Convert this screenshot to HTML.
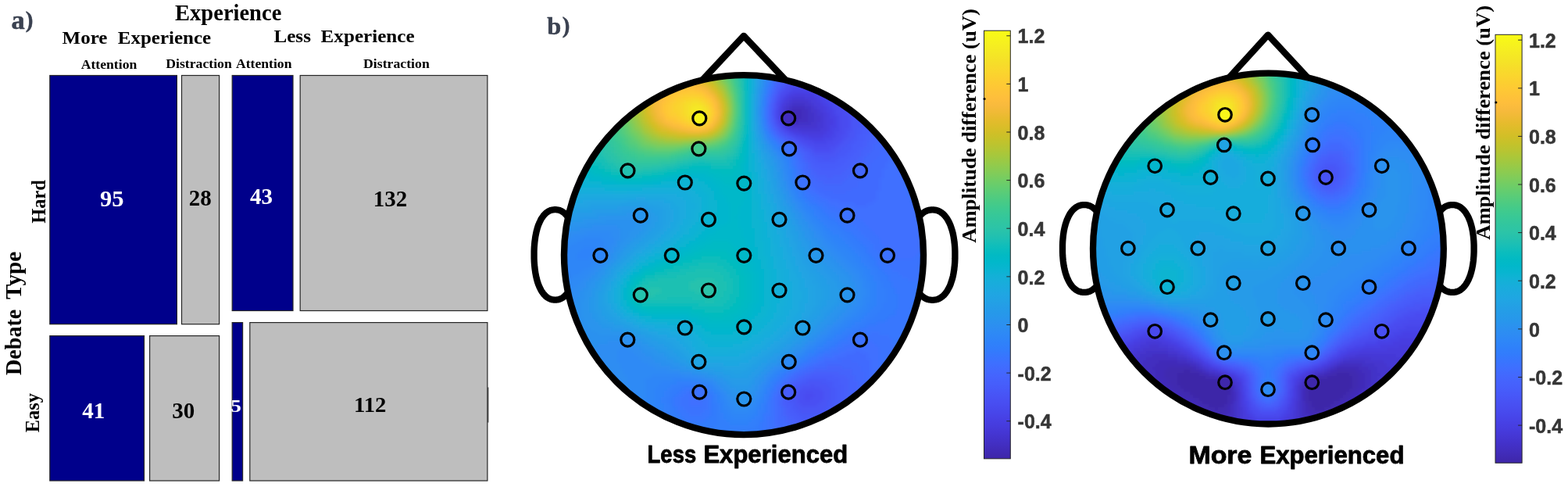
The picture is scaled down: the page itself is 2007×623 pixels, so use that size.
<!DOCTYPE html>
<html lang="en"><head><meta charset="utf-8"><title>Figure</title>
<style>html,body{margin:0;padding:0;background:#fff;overflow:hidden}svg{display:block}.sf{font-family:'Liberation Serif', serif;font-weight:bold}.ss{font-family:'Liberation Sans', sans-serif;font-weight:bold}</style>
</head><body>
<svg width="2007" height="623" viewBox="0 0 2007 623">
<defs>
<linearGradient id="pg" x1="0" y1="0" x2="0" y2="1"><stop offset="0.0000" stop-color="#f9fb15"/><stop offset="0.0159" stop-color="#f7f51b"/><stop offset="0.0317" stop-color="#f6ef20"/><stop offset="0.0476" stop-color="#f5e924"/><stop offset="0.0635" stop-color="#f5e327"/><stop offset="0.0794" stop-color="#f7dc2a"/><stop offset="0.0952" stop-color="#fad62d"/><stop offset="0.1111" stop-color="#fccf30"/><stop offset="0.1270" stop-color="#fec934"/><stop offset="0.1429" stop-color="#fec338"/><stop offset="0.1587" stop-color="#febe3c"/><stop offset="0.1746" stop-color="#f8ba3d"/><stop offset="0.1905" stop-color="#f0ba36"/><stop offset="0.2063" stop-color="#e6bb2d"/><stop offset="0.2222" stop-color="#dcbd29"/><stop offset="0.2381" stop-color="#d1bf27"/><stop offset="0.2540" stop-color="#c5c22a"/><stop offset="0.2698" stop-color="#b9c431"/><stop offset="0.2857" stop-color="#abc739"/><stop offset="0.3016" stop-color="#9dc943"/><stop offset="0.3175" stop-color="#8fcb4e"/><stop offset="0.3333" stop-color="#81cc59"/><stop offset="0.3492" stop-color="#72cd64"/><stop offset="0.3651" stop-color="#64cd6f"/><stop offset="0.3810" stop-color="#57cc7a"/><stop offset="0.3968" stop-color="#4acb84"/><stop offset="0.4127" stop-color="#3fca8e"/><stop offset="0.4286" stop-color="#37c897"/><stop offset="0.4444" stop-color="#31c69f"/><stop offset="0.4603" stop-color="#2cc4a7"/><stop offset="0.4762" stop-color="#24c1ae"/><stop offset="0.4921" stop-color="#19bfb6"/><stop offset="0.5079" stop-color="#0bbdbd"/><stop offset="0.5238" stop-color="#02bac3"/><stop offset="0.5397" stop-color="#01b8ca"/><stop offset="0.5556" stop-color="#08b5d0"/><stop offset="0.5714" stop-color="#12b1d6"/><stop offset="0.5873" stop-color="#18addb"/><stop offset="0.6032" stop-color="#1ca9df"/><stop offset="0.6190" stop-color="#20a5e3"/><stop offset="0.6349" stop-color="#23a0e5"/><stop offset="0.6508" stop-color="#259be8"/><stop offset="0.6667" stop-color="#2797eb"/><stop offset="0.6825" stop-color="#2b91ef"/><stop offset="0.6984" stop-color="#2d8cf3"/><stop offset="0.7143" stop-color="#2e87f7"/><stop offset="0.7302" stop-color="#2f81fa"/><stop offset="0.7460" stop-color="#327cfc"/><stop offset="0.7619" stop-color="#3875fe"/><stop offset="0.7778" stop-color="#3e6fff"/><stop offset="0.7937" stop-color="#4269fe"/><stop offset="0.8095" stop-color="#4563fd"/><stop offset="0.8254" stop-color="#465efb"/><stop offset="0.8413" stop-color="#4758f8"/><stop offset="0.8571" stop-color="#4852f4"/><stop offset="0.8730" stop-color="#484df0"/><stop offset="0.8889" stop-color="#4747eb"/><stop offset="0.9048" stop-color="#4741e5"/><stop offset="0.9206" stop-color="#463cde"/><stop offset="0.9365" stop-color="#4537d5"/><stop offset="0.9524" stop-color="#4332cb"/><stop offset="0.9683" stop-color="#422ec0"/><stop offset="0.9841" stop-color="#402ab4"/><stop offset="1.0000" stop-color="#3e26a8"/></linearGradient>
<filter id="bl" x="-5%" y="-5%" width="110%" height="110%"><feGaussianBlur stdDeviation="2.2"/></filter>
</defs>
<rect width="2007" height="623" fill="#fff"/>
<rect x="63.8" y="96.5" width="162.6" height="318.2" fill="#00008b" stroke="#262626" stroke-width="1.2"/>
<rect x="232.5" y="96.5" width="48.1" height="318.2" fill="#bebebe" stroke="#262626" stroke-width="1.2"/>
<rect x="297.2" y="96.5" width="77.8" height="301.0" fill="#00008b" stroke="#262626" stroke-width="1.2"/>
<rect x="384.2" y="96.5" width="239.7" height="301.0" fill="#bebebe" stroke="#262626" stroke-width="1.2"/>
<rect x="63.8" y="429.6" width="120.7" height="185.4" fill="#00008b" stroke="#262626" stroke-width="1.2"/>
<rect x="191.6" y="429.6" width="89.0" height="185.4" fill="#bebebe" stroke="#262626" stroke-width="1.2"/>
<rect x="297.2" y="412.6" width="13.4" height="202.4" fill="#00008b" stroke="#262626" stroke-width="1.2"/>
<rect x="319.8" y="412.6" width="304.1" height="202.4" fill="#bebebe" stroke="#262626" stroke-width="1.2"/>
<rect x="624.2" y="495.5" width="1.2" height="45" fill="#333"/>
<text class="sf" x="14.6" y="37.4" font-size="34.50" fill="#3a4150" text-anchor="start" stroke="#3a4150" stroke-width="0.5" stroke-linejoin="round">a<tspan font-size="29" dy="-2.6" dx="0.8">)</tspan></text>
<text class="sf" x="700.2" y="44.3" font-size="32.40" fill="#3a4150" text-anchor="start" stroke="#3a4150" stroke-width="0.5" stroke-linejoin="round">b<tspan font-size="29" dy="-2.6" dx="1.6">)</tspan></text>
<text class="sf" x="224.1" y="25.8" font-size="28.40" fill="#000" text-anchor="start" textLength="136.2" lengthAdjust="spacingAndGlyphs">Experience</text>
<text class="sf" x="79.5" y="55.8" font-size="23.80" fill="#000" text-anchor="start" textLength="58.0" lengthAdjust="spacingAndGlyphs">More</text>
<text class="sf" x="150.8" y="55.8" font-size="23.80" fill="#000" text-anchor="start" textLength="119.3" lengthAdjust="spacingAndGlyphs">Experience</text>
<text class="sf" x="350.4" y="53.7" font-size="23.80" fill="#000" text-anchor="start" textLength="47.6" lengthAdjust="spacingAndGlyphs">Less</text>
<text class="sf" x="410.6" y="53.7" font-size="23.80" fill="#000" text-anchor="start" textLength="120.0" lengthAdjust="spacingAndGlyphs">Experience</text>
<text class="sf" x="103.7" y="87.8" font-size="17.70" fill="#000" text-anchor="start" textLength="71.6" lengthAdjust="spacingAndGlyphs">Attention</text>
<text class="sf" x="212.2" y="86.7" font-size="17.70" fill="#000" text-anchor="start" textLength="84.6" lengthAdjust="spacingAndGlyphs">Distraction</text>
<text class="sf" x="302.0" y="86.7" font-size="17.70" fill="#000" text-anchor="start" textLength="71.5" lengthAdjust="spacingAndGlyphs">Attention</text>
<text class="sf" x="465.0" y="86.7" font-size="17.70" fill="#000" text-anchor="start" textLength="84.8" lengthAdjust="spacingAndGlyphs">Distraction</text>
<text class="sf" x="57.8" y="285.8" font-size="24.50" fill="#000" text-anchor="start" textLength="55.8" lengthAdjust="spacingAndGlyphs" transform="rotate(-90 57.8 285.8)">Hard</text>
<text class="sf" x="50.3" y="553.3" font-size="24.50" fill="#000" text-anchor="start" textLength="50.3" lengthAdjust="spacingAndGlyphs" transform="rotate(-90 50.3 553.3)">Easy</text>
<text class="sf" x="27.3" y="479.9" font-size="28.50" fill="#000" text-anchor="start" textLength="84.2" lengthAdjust="spacingAndGlyphs" transform="rotate(-90 27.3 479.9)">Debate</text>
<text class="sf" x="27.3" y="382.9" font-size="28.50" fill="#000" text-anchor="start" textLength="61.1" lengthAdjust="spacingAndGlyphs" transform="rotate(-90 27.3 382.9)">Type</text>
<text class="sf" x="143.3" y="264.0" font-size="29.00" fill="#fff" text-anchor="middle" textLength="30.5" lengthAdjust="spacingAndGlyphs">95</text>
<text class="sf" x="256.3" y="262.8" font-size="29.00" fill="#000" text-anchor="middle">28</text>
<text class="sf" x="334.6" y="260.8" font-size="29.00" fill="#fff" text-anchor="middle">43</text>
<text class="sf" x="499.4" y="264.0" font-size="29.00" fill="#000" text-anchor="middle">132</text>
<text class="sf" x="119.8" y="535.0" font-size="29.00" fill="#fff" text-anchor="middle">41</text>
<text class="sf" x="234.7" y="534.8" font-size="29.00" fill="#000" text-anchor="middle">30</text>
<text class="sf" x="295.3" y="527.2" font-size="23.50" fill="#fff" text-anchor="start" textLength="13.6" lengthAdjust="spacingAndGlyphs">5</text>
<text class="sf" x="473.7" y="527.3" font-size="27.50" fill="#000" text-anchor="middle" textLength="41.5" lengthAdjust="spacingAndGlyphs">112</text>
<text class="ss" x="828.6" y="592.1" font-size="30.80" fill="#000" text-anchor="start" textLength="62.6" lengthAdjust="spacingAndGlyphs" stroke="#000" stroke-width="0.8" stroke-linejoin="round">Less</text>
<text class="ss" x="900.4" y="592.1" font-size="30.80" fill="#000" text-anchor="start" textLength="184.8" lengthAdjust="spacingAndGlyphs" stroke="#000" stroke-width="0.8" stroke-linejoin="round">Experienced</text>
<text class="ss" x="1521.4" y="593.4" font-size="30.80" fill="#000" text-anchor="start" textLength="81.0" lengthAdjust="spacingAndGlyphs" stroke="#000" stroke-width="0.8" stroke-linejoin="round">More</text>
<text class="ss" x="1612.4" y="593.4" font-size="30.80" fill="#000" text-anchor="start" textLength="185.0" lengthAdjust="spacingAndGlyphs" stroke="#000" stroke-width="0.8" stroke-linejoin="round">Experienced</text>
<text class="sf" x="1249.5" y="310.8" font-size="26.00" fill="#000" text-anchor="start" textLength="299.6" lengthAdjust="spacingAndGlyphs" transform="rotate(-90 1249.5 310.8)">Amplitude difference (uV)</text>
<text class="sf" x="1907.0" y="306.8" font-size="26.00" fill="#000" text-anchor="start" textLength="299.8" lengthAdjust="spacingAndGlyphs" transform="rotate(-90 1907.0 306.8)">Amplitude difference (uV)</text>
<path d="M737.6 327.5L737.6 330.3L737.5 332.9L737.4 335.4L737.2 337.8L737.0 340.1L736.8 342.4L736.5 344.6L736.2 346.8L735.9 349.0L735.5 351.0L735.1 353.1L734.7 355.0L734.2 356.9L733.7 358.8L733.2 360.6L732.6 362.4L732.0 364.1L731.3 365.7L730.7 367.2L729.9 368.7L729.2 370.2L728.5 371.6L727.7 372.9L726.8 374.1L726.0 375.3L725.1 376.4L724.2 377.4L723.3 378.3L722.4 379.2L721.4 380.0L720.4 380.7L719.4 381.3L718.3 381.9L717.3 382.4L716.2 382.8L715.0 383.1L713.9 383.3L712.7 383.5L711.4 383.6L709.8 383.6L708.5 383.5L707.3 383.3L706.2 383.1L705.0 382.8L703.9 382.4L702.9 381.9L701.8 381.3L700.8 380.7L699.8 380.0L698.8 379.2L697.9 378.3L697.0 377.4L696.1 376.4L695.2 375.3L694.4 374.1L693.5 372.9L692.7 371.6L692.0 370.2L691.3 368.7L690.5 367.2L689.9 365.7L689.2 364.1L688.6 362.4L688.0 360.6L687.5 358.8L687.0 356.9L686.5 355.0L686.1 353.1L685.7 351.0L685.3 349.0L685.0 346.8L684.7 344.6L684.4 342.4L684.2 340.1L684.0 337.8L683.8 335.4L683.7 332.9L683.6 330.3L683.6 327.5L683.6 324.3L683.6 321.5L683.7 318.9L683.8 316.4L684.0 314.0L684.2 311.7L684.4 309.4L684.7 307.2L685.0 305.0L685.3 302.8L685.7 300.8L686.1 298.7L686.5 296.8L687.0 294.9L687.5 293.0L688.0 291.2L688.6 289.4L689.2 287.7L689.9 286.1L690.5 284.6L691.3 283.1L692.0 281.6L692.7 280.2L693.5 278.9L694.4 277.7L695.2 276.5L696.1 275.4L697.0 274.4L697.9 273.5L698.8 272.6L699.8 271.8L700.8 271.1L701.8 270.5L702.9 269.9L703.9 269.4L705.0 269.0L706.2 268.7L707.3 268.5L708.5 268.3L709.8 268.2L711.4 268.2L712.7 268.3L713.9 268.5L715.0 268.7L716.2 269.0L717.3 269.4L718.3 269.9L719.4 270.5L720.4 271.1L721.4 271.8L722.4 272.6L723.3 273.5L724.2 274.4L725.1 275.4L726.0 276.5L726.8 277.7L727.7 278.9L728.5 280.2L729.2 281.6L729.9 283.1L730.7 284.6L731.3 286.1L732.0 287.7L732.6 289.4L733.2 291.2L733.7 293.0L734.2 294.9L734.7 296.8L735.1 298.7L735.5 300.8L735.9 302.8L736.2 305.0L736.5 307.2L736.8 309.4L737.0 311.7L737.2 314.0L737.4 316.4L737.5 318.9L737.6 321.5L737.6 324.3Z" fill="#fff" stroke="#000" stroke-width="8.3" stroke-linejoin="round"/>
<path d="M1222.4 327.7L1222.4 330.5L1222.3 333.1L1222.2 335.6L1222.0 338.0L1221.8 340.3L1221.5 342.6L1221.3 344.8L1220.9 347.0L1220.6 349.2L1220.2 351.2L1219.8 353.3L1219.3 355.2L1218.8 357.1L1218.2 359.0L1217.6 360.8L1217.0 362.6L1216.4 364.3L1215.7 365.9L1215.0 367.4L1214.2 368.9L1213.4 370.4L1212.6 371.8L1211.8 373.1L1210.9 374.3L1210.0 375.5L1209.0 376.6L1208.1 377.6L1207.1 378.5L1206.1 379.4L1205.0 380.2L1204.0 380.9L1202.9 381.5L1201.8 382.1L1200.6 382.6L1199.5 383.0L1198.2 383.3L1197.0 383.5L1195.7 383.7L1194.3 383.8L1192.7 383.8L1191.3 383.7L1190.0 383.5L1188.8 383.3L1187.5 383.0L1186.4 382.6L1185.2 382.1L1184.1 381.5L1183.0 380.9L1182.0 380.2L1180.9 379.4L1179.9 378.5L1178.9 377.6L1178.0 376.6L1177.0 375.5L1176.1 374.3L1175.2 373.1L1174.4 371.8L1173.6 370.4L1172.8 368.9L1172.0 367.4L1171.3 365.9L1170.6 364.3L1170.0 362.6L1169.4 360.8L1168.8 359.0L1168.2 357.1L1167.7 355.2L1167.2 353.3L1166.8 351.2L1166.4 349.2L1166.1 347.0L1165.7 344.8L1165.5 342.6L1165.2 340.3L1165.0 338.0L1164.8 335.6L1164.7 333.1L1164.6 330.5L1164.6 327.7L1164.6 324.5L1164.6 321.7L1164.7 319.1L1164.8 316.6L1165.0 314.2L1165.2 311.9L1165.5 309.6L1165.7 307.4L1166.1 305.2L1166.4 303.0L1166.8 301.0L1167.2 298.9L1167.7 297.0L1168.2 295.1L1168.8 293.2L1169.4 291.4L1170.0 289.6L1170.6 287.9L1171.3 286.3L1172.0 284.8L1172.8 283.3L1173.6 281.8L1174.4 280.4L1175.2 279.1L1176.1 277.9L1177.0 276.7L1178.0 275.6L1178.9 274.6L1179.9 273.7L1180.9 272.8L1182.0 272.0L1183.0 271.3L1184.1 270.7L1185.2 270.1L1186.4 269.6L1187.5 269.2L1188.8 268.9L1190.0 268.7L1191.3 268.5L1192.7 268.4L1194.3 268.4L1195.7 268.5L1197.0 268.7L1198.2 268.9L1199.5 269.2L1200.6 269.6L1201.8 270.1L1202.9 270.7L1204.0 271.3L1205.0 272.0L1206.1 272.8L1207.1 273.7L1208.1 274.6L1209.0 275.6L1210.0 276.7L1210.9 277.9L1211.8 279.1L1212.6 280.4L1213.4 281.8L1214.2 283.3L1215.0 284.8L1215.7 286.3L1216.4 287.9L1217.0 289.6L1217.6 291.4L1218.2 293.2L1218.8 295.1L1219.3 297.0L1219.8 298.9L1220.2 301.0L1220.6 303.0L1220.9 305.2L1221.3 307.4L1221.5 309.6L1221.8 311.9L1222.0 314.2L1222.2 316.6L1222.3 319.1L1222.4 321.7L1222.4 324.5Z" fill="#fff" stroke="#000" stroke-width="8.3" stroke-linejoin="round"/>
<path d="M899.5 102.0L952.0 45.9L1005.0 102.0" fill="none" stroke="#000" stroke-width="8.5" stroke-linejoin="round" stroke-linecap="butt"/>
<clipPath id="hc0"><circle cx="952.0" cy="326.1" r="230.0"/></clipPath>
<circle cx="952.0" cy="326.1" r="230.0" fill="#22a1e4"/>
<g clip-path="url(#hc0)"><g filter="url(#bl)" shape-rendering="crispEdges">
<path fill="#402bb8" d="M1014 140h12v4h-12zM1010 144h16v4h-16zM1010 148h16v4h-16zM1018 152h4v4h-4z"/>
<path fill="#422ebf" d="M1014 136h16v4h-16zM1010 140h4v4h-4zM1026 140h8v4h-8zM1006 144h4v4h-4zM1026 144h8v4h-8zM1006 148h4v4h-4zM1026 148h8v4h-8zM1010 152h8v4h-8zM1022 152h12v4h-12zM1018 156h4v4h-4z"/>
<path fill="#4331c7" d="M1014 132h16v4h-16zM1010 136h4v4h-4zM1030 136h8v4h-8zM1006 140h4v4h-4zM1034 140h4v4h-4zM1034 144h8v4h-8zM1034 148h8v4h-8zM1006 152h4v4h-4zM1034 152h8v4h-8zM1010 156h8v4h-8zM1022 156h16v4h-16z"/>
<path fill="#4434ce" d="M1014 128h20v4h-20zM1010 132h4v4h-4zM1030 132h8v4h-8zM1006 136h4v4h-4zM1038 136h4v4h-4zM1038 140h8v4h-8zM1002 144h4v4h-4zM1042 144h4v4h-4zM1002 148h4v4h-4zM1042 148h8v4h-8zM1042 152h8v4h-8zM1006 156h4v4h-4zM1038 156h8v4h-8zM1014 160h32v4h-32z"/>
<path fill="#4537d5" d="M1014 124h16v4h-16zM1010 128h4v4h-4zM1034 128h4v4h-4zM1006 132h4v4h-4zM1038 132h4v4h-4zM1002 136h4v4h-4zM1042 136h4v4h-4zM1002 140h4v4h-4zM1046 140h4v4h-4zM1046 144h8v4h-8zM1050 148h4v4h-4zM1002 152h4v4h-4zM1050 152h4v4h-4zM1046 156h8v4h-8zM1010 160h4v4h-4zM1046 160h8v4h-8zM1022 164h28v4h-28z"/>
<path fill="#463adb" d="M1018 120h12v4h-12zM1010 124h4v4h-4zM1030 124h12v4h-12zM1006 128h4v4h-4zM1038 128h8v4h-8zM1002 132h4v4h-4zM1042 132h8v4h-8zM1046 136h8v4h-8zM1050 140h4v4h-4zM998 144h4v4h-4zM1054 144h4v4h-4zM1054 148h4v4h-4zM1054 152h4v4h-4zM1002 156h4v4h-4zM1054 156h4v4h-4zM1006 160h4v4h-4zM1054 160h4v4h-4zM1014 164h8v4h-8zM1050 164h8v4h-8zM1026 168h28v4h-28z"/>
<path fill="#463de0" d="M1010 120h8v4h-8zM1030 120h12v4h-12zM1006 124h4v4h-4zM1042 124h4v4h-4zM1002 128h4v4h-4zM1046 128h4v4h-4zM1050 132h4v4h-4zM998 136h4v4h-4zM1054 136h4v4h-4zM998 140h4v4h-4zM1054 140h4v4h-4zM1058 144h4v4h-4zM998 148h4v4h-4zM1058 148h4v4h-4zM998 152h4v4h-4zM1058 152h8v4h-8zM1058 156h8v4h-8zM1058 160h4v4h-4zM1010 164h4v4h-4zM1058 164h4v4h-4zM1018 168h8v4h-8zM1054 168h4v4h-4zM1034 172h20v4h-20z"/>
<path fill="#4741e5" d="M1014 116h28v4h-28zM1006 120h4v4h-4zM1042 120h4v4h-4zM1002 124h4v4h-4zM1046 124h8v4h-8zM1050 128h4v4h-4zM998 132h4v4h-4zM1054 132h4v4h-4zM1058 136h4v4h-4zM1058 140h8v4h-8zM1062 144h4v4h-4zM1062 148h8v4h-8zM1066 152h4v4h-4zM1066 156h4v4h-4zM1002 160h4v4h-4zM1062 160h8v4h-8zM1006 164h4v4h-4zM1062 164h4v4h-4zM1014 168h4v4h-4zM1058 168h8v4h-8zM1026 172h8v4h-8zM1054 172h8v4h-8zM1038 176h16v4h-16z"/>
<path fill="#4745e9" d="M1014 112h28v4h-28zM1010 116h4v4h-4zM1042 116h8v4h-8zM1046 120h8v4h-8zM1054 124h4v4h-4zM998 128h4v4h-4zM1054 128h8v4h-8zM1058 132h8v4h-8zM1062 136h4v4h-4zM994 140h4v4h-4zM1066 140h4v4h-4zM994 144h4v4h-4zM1066 144h4v4h-4zM994 148h4v4h-4zM1070 148h4v4h-4zM1070 152h4v4h-4zM998 156h4v4h-4zM1070 156h4v4h-4zM1070 160h4v4h-4zM1066 164h8v4h-8zM1010 168h4v4h-4zM1066 168h4v4h-4zM1018 172h8v4h-8zM1062 172h8v4h-8zM1030 176h8v4h-8zM1054 176h12v4h-12zM1042 180h16v4h-16z"/>
<path fill="#4849ed" d="M1018 108h24v4h-24zM1010 112h4v4h-4zM1042 112h8v4h-8zM1006 116h4v4h-4zM1050 116h4v4h-4zM1002 120h4v4h-4zM1054 120h4v4h-4zM998 124h4v4h-4zM1058 124h4v4h-4zM1062 128h4v4h-4zM994 132h4v4h-4zM1066 132h4v4h-4zM994 136h4v4h-4zM1066 136h8v4h-8zM1070 140h4v4h-4zM1070 144h8v4h-8zM1074 148h4v4h-4zM994 152h4v4h-4zM1074 152h4v4h-4zM1074 156h4v4h-4zM998 160h4v4h-4zM1074 160h4v4h-4zM1002 164h4v4h-4zM1074 164h4v4h-4zM1070 168h8v4h-8zM1014 172h4v4h-4zM1070 172h4v4h-4zM1026 176h4v4h-4zM1066 176h4v4h-4zM1034 180h8v4h-8zM1058 180h8v4h-8zM1042 184h16v4h-16z"/>
<path fill="#484cf0" d="M1018 104h20v4h-20zM1010 108h8v4h-8zM1042 108h4v4h-4zM1006 112h4v4h-4zM1050 112h4v4h-4zM1002 116h4v4h-4zM1054 116h8v4h-8zM998 120h4v4h-4zM1058 120h8v4h-8zM1062 124h8v4h-8zM994 128h4v4h-4zM1066 128h8v4h-8zM1070 132h8v4h-8zM1074 136h4v4h-4zM1074 140h8v4h-8zM1078 144h4v4h-4zM1078 148h8v4h-8zM1078 152h8v4h-8zM994 156h4v4h-4zM1078 156h8v4h-8zM1078 160h8v4h-8zM1078 164h4v4h-4zM1006 168h4v4h-4zM1078 168h4v4h-4zM1074 172h4v4h-4zM1022 176h4v4h-4zM1070 176h8v4h-8zM1026 180h8v4h-8zM1066 180h8v4h-8zM1034 184h8v4h-8zM1058 184h12v4h-12zM1042 188h20v4h-20zM1034 500h4v4h-4zM1030 504h12v4h-12zM1030 508h8v4h-8z"/>
<path fill="#4850f3" d="M1018 100h8v4h-8zM1010 104h8v4h-8zM1006 108h4v4h-4zM1002 112h4v4h-4zM998 116h4v4h-4zM1066 120h4v4h-4zM994 124h4v4h-4zM1070 124h8v4h-8zM1074 128h8v4h-8zM1078 132h8v4h-8zM1078 136h8v4h-8zM990 140h4v4h-4zM1082 140h8v4h-8zM990 144h4v4h-4zM1082 144h8v4h-8zM990 148h4v4h-4zM1086 148h4v4h-4zM1086 152h4v4h-4zM1086 156h4v4h-4zM1086 160h4v4h-4zM998 164h4v4h-4zM1082 164h8v4h-8zM1002 168h4v4h-4zM1082 168h4v4h-4zM1010 172h4v4h-4zM1078 172h8v4h-8zM1018 176h4v4h-4zM1078 176h4v4h-4zM1022 180h4v4h-4zM1074 180h4v4h-4zM1030 184h4v4h-4zM1070 184h4v4h-4zM1038 188h4v4h-4zM1062 188h8v4h-8zM1042 192h24v4h-24zM1038 492h4v4h-4zM1026 496h24v4h-24zM1022 500h12v4h-12zM1038 500h16v4h-16zM1022 504h8v4h-8zM1042 504h12v4h-12zM1022 508h8v4h-8zM1038 508h16v4h-16zM1022 512h28v4h-28zM1026 516h20v4h-20z"/>
<path fill="#4854f5" d="M1014 100h4v4h-4zM1006 104h4v4h-4zM1002 108h4v4h-4zM994 120h4v4h-4zM990 132h4v4h-4zM1086 132h4v4h-4zM990 136h4v4h-4zM1086 136h8v4h-8zM1090 140h8v4h-8zM1090 144h8v4h-8zM1090 148h8v4h-8zM990 152h4v4h-4zM1090 152h8v4h-8zM1090 156h8v4h-8zM994 160h4v4h-4zM1090 160h8v4h-8zM1090 164h4v4h-4zM1086 168h8v4h-8zM1006 172h4v4h-4zM1086 172h8v4h-8zM1014 176h4v4h-4zM1082 176h8v4h-8zM1018 180h4v4h-4zM1078 180h8v4h-8zM1026 184h4v4h-4zM1074 184h8v4h-8zM1030 188h8v4h-8zM1070 188h8v4h-8zM1038 192h4v4h-4zM1066 192h8v4h-8zM1042 196h28v4h-28zM1054 200h8v4h-8zM1034 488h16v4h-16zM1026 492h12v4h-12zM1042 492h16v4h-16zM1022 496h4v4h-4zM1050 496h12v4h-12zM1018 500h4v4h-4zM1054 500h8v4h-8zM1014 504h8v4h-8zM1054 504h8v4h-8zM1014 508h8v4h-8zM1054 508h8v4h-8zM1018 512h4v4h-4zM1050 512h8v4h-8zM1018 516h8v4h-8zM1046 516h12v4h-12zM1022 520h32v4h-32zM1026 524h24v4h-24z"/>
<path fill="#4758f8" d="M1006 100h8v4h-8zM1002 104h4v4h-4zM998 112h4v4h-4zM994 116h4v4h-4zM990 128h4v4h-4zM1098 144h8v4h-8zM1098 148h8v4h-8zM1098 152h8v4h-8zM990 156h4v4h-4zM1098 156h8v4h-8zM1098 160h8v4h-8zM994 164h4v4h-4zM1094 164h8v4h-8zM998 168h4v4h-4zM1094 168h8v4h-8zM1002 172h4v4h-4zM1094 172h4v4h-4zM1010 176h4v4h-4zM1090 176h8v4h-8zM1086 180h8v4h-8zM1022 184h4v4h-4zM1082 184h8v4h-8zM1026 188h4v4h-4zM1078 188h12v4h-12zM1034 192h4v4h-4zM1074 192h12v4h-12zM1038 196h4v4h-4zM1070 196h12v4h-12zM1042 200h12v4h-12zM1062 200h12v4h-12zM1046 204h24v4h-24zM1034 484h24v4h-24zM1026 488h8v4h-8zM1050 488h16v4h-16zM1018 492h8v4h-8zM1058 492h8v4h-8zM1014 496h8v4h-8zM1062 496h8v4h-8zM1014 500h4v4h-4zM1062 500h8v4h-8zM1010 504h4v4h-4zM1062 504h8v4h-8zM1010 508h4v4h-4zM1062 508h8v4h-8zM1010 512h8v4h-8zM1058 512h8v4h-8zM1014 516h4v4h-4zM1058 516h8v4h-8zM1014 520h8v4h-8zM1054 520h8v4h-8zM1018 524h8v4h-8zM1050 524h8v4h-8zM1022 528h32v4h-32zM1026 532h24v4h-24z"/>
<path fill="#475bfa" d="M1006 96h8v4h-8zM1002 100h4v4h-4zM998 108h4v4h-4zM994 112h4v4h-4zM990 124h4v4h-4zM986 140h4v4h-4zM986 144h4v4h-4zM1106 148h4v4h-4zM1106 152h8v4h-8zM1106 156h8v4h-8zM990 160h4v4h-4zM1106 160h4v4h-4zM1102 164h8v4h-8zM1102 168h8v4h-8zM1098 172h8v4h-8zM1006 176h4v4h-4zM1098 176h8v4h-8zM1014 180h4v4h-4zM1094 180h8v4h-8zM1018 184h4v4h-4zM1090 184h12v4h-12zM1090 188h8v4h-8zM1030 192h4v4h-4zM1086 192h8v4h-8zM1034 196h4v4h-4zM1082 196h8v4h-8zM1034 200h8v4h-8zM1074 200h12v4h-12zM1038 204h8v4h-8zM1070 204h12v4h-12zM1042 208h36v4h-36zM1050 212h20v4h-20zM1038 480h28v4h-28zM1026 484h8v4h-8zM1058 484h16v4h-16zM1018 488h8v4h-8zM1066 488h8v4h-8zM1014 492h4v4h-4zM1066 492h12v4h-12zM1010 496h4v4h-4zM1070 496h8v4h-8zM1010 500h4v4h-4zM1070 500h8v4h-8zM1006 504h4v4h-4zM1070 504h8v4h-8zM1006 508h4v4h-4zM1070 508h8v4h-8zM1006 512h4v4h-4zM1066 512h8v4h-8zM1006 516h8v4h-8zM1066 516h8v4h-8zM1010 520h4v4h-4zM1062 520h8v4h-8zM1010 524h8v4h-8zM1058 524h8v4h-8zM1014 528h8v4h-8zM1054 528h12v4h-12zM1018 532h8v4h-8zM1050 532h12v4h-12zM1022 536h32v4h-32zM1030 540h16v4h-16z"/>
<path fill="#465ffb" d="M998 104h4v4h-4zM994 108h4v4h-4zM990 120h4v4h-4zM986 132h4v4h-4zM986 136h4v4h-4zM986 148h4v4h-4zM986 152h4v4h-4zM1114 156h4v4h-4zM1110 160h8v4h-8zM1110 164h8v4h-8zM994 168h4v4h-4zM1110 168h8v4h-8zM998 172h4v4h-4zM1106 172h8v4h-8zM1106 176h8v4h-8zM1010 180h4v4h-4zM1102 180h8v4h-8zM1102 184h8v4h-8zM1022 188h4v4h-4zM1098 188h8v4h-8zM1026 192h4v4h-4zM1094 192h8v4h-8zM1030 196h4v4h-4zM1090 196h12v4h-12zM1030 200h4v4h-4zM1086 200h12v4h-12zM1034 204h4v4h-4zM1082 204h12v4h-12zM1038 208h4v4h-4zM1078 208h12v4h-12zM1038 212h12v4h-12zM1070 212h16v4h-16zM1042 216h40v4h-40zM1046 220h32v4h-32zM1058 224h8v4h-8zM1038 476h36v4h-36zM1030 480h8v4h-8zM1066 480h16v4h-16zM1022 484h4v4h-4zM1074 484h12v4h-12zM1014 488h4v4h-4zM1074 488h12v4h-12zM1010 492h4v4h-4zM1078 492h8v4h-8zM1006 496h4v4h-4zM1078 496h8v4h-8zM1006 500h4v4h-4zM1078 500h8v4h-8zM1002 504h4v4h-4zM1078 504h8v4h-8zM1002 508h4v4h-4zM1078 508h8v4h-8zM1002 512h4v4h-4zM1074 512h12v4h-12zM1002 516h4v4h-4zM1074 516h8v4h-8zM1006 520h4v4h-4zM1070 520h12v4h-12zM1006 524h4v4h-4zM1066 524h12v4h-12zM1006 528h8v4h-8zM1066 528h4v4h-4zM1010 532h8v4h-8zM1014 536h8v4h-8zM1018 540h12v4h-12zM1026 544h12v4h-12z"/>
<path fill="#4563fc" d="M1002 96h4v4h-4zM998 100h4v4h-4zM994 104h4v4h-4zM990 112h4v4h-4zM990 116h4v4h-4zM986 124h4v4h-4zM986 128h4v4h-4zM986 156h4v4h-4zM1118 160h4v4h-4zM990 164h4v4h-4zM1118 164h8v4h-8zM1118 168h8v4h-8zM1114 172h12v4h-12zM1002 176h4v4h-4zM1114 176h8v4h-8zM1006 180h4v4h-4zM1110 180h12v4h-12zM1014 184h4v4h-4zM1110 184h8v4h-8zM1018 188h4v4h-4zM1106 188h12v4h-12zM1022 192h4v4h-4zM1102 192h12v4h-12zM1026 196h4v4h-4zM1102 196h8v4h-8zM1026 200h4v4h-4zM1098 200h8v4h-8zM1030 204h4v4h-4zM1094 204h12v4h-12zM1034 208h4v4h-4zM1090 208h12v4h-12zM1034 212h4v4h-4zM1086 212h12v4h-12zM1038 216h4v4h-4zM1082 216h12v4h-12zM1038 220h8v4h-8zM1078 220h12v4h-12zM1042 224h16v4h-16zM1066 224h20v4h-20zM1046 228h36v4h-36zM1054 232h24v4h-24zM1058 468h20v4h-20zM1042 472h48v4h-48zM1030 476h8v4h-8zM1074 476h16v4h-16zM1022 480h8v4h-8zM1082 480h12v4h-12zM1018 484h4v4h-4zM1086 484h8v4h-8zM1010 488h4v4h-4zM1086 488h12v4h-12zM1006 492h4v4h-4zM1086 492h12v4h-12zM1086 496h12v4h-12zM1002 500h4v4h-4zM1086 500h12v4h-12zM1086 504h12v4h-12zM1086 508h8v4h-8zM998 512h4v4h-4zM1086 512h8v4h-8zM998 516h4v4h-4zM1082 516h8v4h-8zM1002 520h4v4h-4zM1002 524h4v4h-4zM1002 528h4v4h-4zM1006 532h4v4h-4zM1006 536h8v4h-8zM1010 540h8v4h-8zM1014 544h12v4h-12zM1018 548h8v4h-8z"/>
<path fill="#4367fd" d="M998 96h4v4h-4zM994 100h4v4h-4zM990 108h4v4h-4zM986 120h4v4h-4zM986 160h4v4h-4zM990 168h4v4h-4zM1126 168h4v4h-4zM994 172h4v4h-4zM1126 172h8v4h-8zM998 176h4v4h-4zM1122 176h12v4h-12zM1122 180h12v4h-12zM1010 184h4v4h-4zM1118 184h12v4h-12zM1014 188h4v4h-4zM1118 188h12v4h-12zM1018 192h4v4h-4zM1114 192h12v4h-12zM1022 196h4v4h-4zM1110 196h16v4h-16zM1106 200h16v4h-16zM1026 204h4v4h-4zM1106 204h12v4h-12zM1030 208h4v4h-4zM1102 208h12v4h-12zM1030 212h4v4h-4zM1098 212h16v4h-16zM1030 216h8v4h-8zM1094 216h16v4h-16zM1034 220h4v4h-4zM1090 220h16v4h-16zM1034 224h8v4h-8zM1086 224h20v4h-20zM1038 228h8v4h-8zM1082 228h20v4h-20zM1042 232h12v4h-12zM1078 232h20v4h-20zM1046 236h52v4h-52zM1054 240h36v4h-36zM1066 244h16v4h-16zM1078 460h12v4h-12zM1058 464h40v4h-40zM1042 468h16v4h-16zM1078 468h24v4h-24zM1034 472h8v4h-8zM1090 472h12v4h-12zM1026 476h4v4h-4zM1090 476h16v4h-16zM1018 480h4v4h-4zM1094 480h12v4h-12zM1010 484h8v4h-8zM1094 484h12v4h-12zM1006 488h4v4h-4zM1098 488h8v4h-8zM1002 492h4v4h-4zM1098 492h8v4h-8zM1002 496h4v4h-4zM1098 496h8v4h-8zM998 500h4v4h-4zM1098 500h8v4h-8zM998 504h4v4h-4zM1098 504h8v4h-8zM998 508h4v4h-4zM1094 508h4v4h-4zM998 520h4v4h-4zM998 524h4v4h-4zM998 528h4v4h-4zM998 532h8v4h-8zM1002 536h4v4h-4zM1002 540h8v4h-8zM1006 544h8v4h-8zM1010 548h8v4h-8z"/>
<path fill="#416bfe" d="M994 96h4v4h-4zM990 104h4v4h-4zM986 116h4v4h-4zM982 132h4v4h-4zM982 136h4v4h-4zM982 140h4v4h-4zM982 144h4v4h-4zM982 148h4v4h-4zM982 152h4v4h-4zM986 164h4v4h-4zM1002 180h4v4h-4zM1134 180h4v4h-4zM1006 184h4v4h-4zM1130 184h12v4h-12zM1130 188h12v4h-12zM1126 192h16v4h-16zM1018 196h4v4h-4zM1126 196h16v4h-16zM1022 200h4v4h-4zM1122 200h16v4h-16zM1022 204h4v4h-4zM1118 204h20v4h-20zM1026 208h4v4h-4zM1114 208h20v4h-20zM1026 212h4v4h-4zM1114 212h20v4h-20zM1026 216h4v4h-4zM1110 216h20v4h-20zM1030 220h4v4h-4zM1106 220h24v4h-24zM1030 224h4v4h-4zM1106 224h24v4h-24zM1030 228h8v4h-8zM1102 228h24v4h-24zM1034 232h8v4h-8zM1098 232h28v4h-28zM1038 236h8v4h-8zM1098 236h28v4h-28zM1042 240h12v4h-12zM1090 240h36v4h-36zM1046 244h20v4h-20zM1082 244h40v4h-40zM1054 248h68v4h-68zM1062 252h60v4h-60zM1074 256h44v4h-44zM1094 260h16v4h-16zM1094 448h8v4h-8zM1082 452h28v4h-28zM1070 456h40v4h-40zM1054 460h24v4h-24zM1090 460h24v4h-24zM1046 464h12v4h-12zM1098 464h16v4h-16zM1034 468h8v4h-8zM1102 468h12v4h-12zM1026 472h8v4h-8zM1102 472h12v4h-12zM1018 476h8v4h-8zM1106 476h8v4h-8zM1014 480h4v4h-4zM1106 480h8v4h-8zM1106 484h12v4h-12zM1002 488h4v4h-4zM1106 488h12v4h-12zM1106 492h12v4h-12zM998 496h4v4h-4zM1106 496h8v4h-8zM1106 500h4v4h-4zM994 504h4v4h-4zM994 508h4v4h-4zM994 512h4v4h-4zM994 516h4v4h-4zM994 520h4v4h-4zM994 524h4v4h-4zM994 528h4v4h-4zM994 532h4v4h-4zM994 536h8v4h-8zM994 540h8v4h-8zM998 544h8v4h-8zM998 548h12v4h-12zM1002 552h12v4h-12z"/>
<path fill="#3f6fff" d="M990 100h4v4h-4zM986 112h4v4h-4zM982 124h4v4h-4zM982 128h4v4h-4zM982 156h4v4h-4zM990 172h4v4h-4zM994 176h4v4h-4zM998 180h4v4h-4zM1010 188h4v4h-4zM1142 188h4v4h-4zM1014 192h4v4h-4zM1142 192h4v4h-4zM1142 196h8v4h-8zM1018 200h4v4h-4zM1138 200h16v4h-16zM1138 204h16v4h-16zM1022 208h4v4h-4zM1134 208h24v4h-24zM1022 212h4v4h-4zM1134 212h24v4h-24zM1130 216h28v4h-28zM1026 220h4v4h-4zM1130 220h28v4h-28zM1026 224h4v4h-4zM1130 224h28v4h-28zM1026 228h4v4h-4zM1126 228h32v4h-32zM1030 232h4v4h-4zM1126 232h32v4h-32zM1030 236h8v4h-8zM1126 236h32v4h-32zM1034 240h8v4h-8zM1126 240h32v4h-32zM1038 244h8v4h-8zM1122 244h40v4h-40zM1046 248h8v4h-8zM1122 248h40v4h-40zM1050 252h12v4h-12zM1122 252h44v4h-44zM1058 256h16v4h-16zM1118 256h48v4h-48zM1062 260h32v4h-32zM1110 260h60v4h-60zM1070 264h100v4h-100zM1078 268h96v4h-96zM1086 272h88v4h-88zM1094 276h84v4h-84zM1102 280h76v4h-76zM1106 284h76v4h-76zM1110 288h72v4h-72zM1114 292h68v4h-68zM1118 296h64v4h-64zM1122 300h60v4h-60zM1126 304h56v4h-56zM1126 308h56v4h-56zM1130 312h52v4h-52zM1134 316h44v4h-44zM1134 320h44v4h-44zM1138 324h36v4h-36zM1146 328h24v4h-24zM1098 436h20v4h-20zM1090 440h32v4h-32zM1082 444h44v4h-44zM1074 448h20v4h-20zM1102 448h24v4h-24zM1066 452h16v4h-16zM1110 452h16v4h-16zM1054 456h16v4h-16zM1110 456h16v4h-16zM1046 460h8v4h-8zM1114 460h12v4h-12zM1038 464h8v4h-8zM1114 464h12v4h-12zM1030 468h4v4h-4zM1114 468h12v4h-12zM1022 472h4v4h-4zM1114 472h12v4h-12zM1014 476h4v4h-4zM1114 476h12v4h-12zM1010 480h4v4h-4zM1114 480h12v4h-12zM1006 484h4v4h-4zM1118 484h8v4h-8zM1118 488h4v4h-4zM998 492h4v4h-4zM994 496h4v4h-4zM994 500h4v4h-4zM882 504h16v4h-16zM990 504h4v4h-4zM882 508h16v4h-16zM990 508h4v4h-4zM882 512h16v4h-16zM990 512h4v4h-4zM882 516h16v4h-16zM990 516h4v4h-4zM990 520h4v4h-4zM990 524h4v4h-4zM990 528h4v4h-4zM990 532h4v4h-4zM990 536h4v4h-4zM990 540h4v4h-4zM990 544h8v4h-8zM990 548h8v4h-8zM990 552h12v4h-12z"/>
<path fill="#3b73fe" d="M990 96h4v4h-4zM986 104h4v4h-4zM986 108h4v4h-4zM982 120h4v4h-4zM982 160h4v4h-4zM986 168h4v4h-4zM1002 184h4v4h-4zM1006 188h4v4h-4zM1010 192h4v4h-4zM1014 196h4v4h-4zM1014 200h4v4h-4zM1018 204h4v4h-4zM1018 208h4v4h-4zM1018 212h4v4h-4zM1022 216h4v4h-4zM1158 216h4v4h-4zM1022 220h4v4h-4zM1158 220h4v4h-4zM1022 224h4v4h-4zM1158 224h8v4h-8zM1022 228h4v4h-4zM1158 228h8v4h-8zM1026 232h4v4h-4zM1158 232h12v4h-12zM1026 236h4v4h-4zM1158 236h12v4h-12zM1030 240h4v4h-4zM1158 240h16v4h-16zM1034 244h4v4h-4zM1162 244h12v4h-12zM1038 248h8v4h-8zM1162 248h12v4h-12zM1042 252h8v4h-8zM1166 252h12v4h-12zM1046 256h12v4h-12zM1166 256h12v4h-12zM1054 260h8v4h-8zM1170 260h8v4h-8zM1058 264h12v4h-12zM1170 264h12v4h-12zM1062 268h16v4h-16zM1174 268h8v4h-8zM1070 272h16v4h-16zM1174 272h8v4h-8zM1074 276h20v4h-20zM1178 276h4v4h-4zM1082 280h20v4h-20zM1178 280h4v4h-4zM1086 284h20v4h-20zM1182 284h4v4h-4zM1094 288h16v4h-16zM1182 288h4v4h-4zM1098 292h16v4h-16zM1182 292h4v4h-4zM1102 296h16v4h-16zM1182 296h4v4h-4zM1106 300h16v4h-16zM1182 300h4v4h-4zM1110 304h16v4h-16zM1182 304h4v4h-4zM1114 308h12v4h-12zM1182 308h4v4h-4zM1118 312h12v4h-12zM1182 312h4v4h-4zM1118 316h16v4h-16zM1178 316h8v4h-8zM1122 320h12v4h-12zM1178 320h12v4h-12zM1126 324h12v4h-12zM1174 324h16v4h-16zM1126 328h20v4h-20zM1170 328h20v4h-20zM1130 332h56v4h-56zM1134 336h52v4h-52zM1138 340h48v4h-48zM1142 344h44v4h-44zM1150 348h36v4h-36zM1154 352h32v4h-32zM1162 356h24v4h-24zM1114 424h12v4h-12zM1098 428h40v4h-40zM1090 432h52v4h-52zM1086 436h12v4h-12zM1118 436h24v4h-24zM1078 440h12v4h-12zM1122 440h24v4h-24zM1070 444h12v4h-12zM1126 444h20v4h-20zM1062 448h12v4h-12zM1126 448h20v4h-20zM1054 452h12v4h-12zM1126 452h20v4h-20zM1046 456h8v4h-8zM1126 456h16v4h-16zM1038 460h8v4h-8zM1126 460h16v4h-16zM1030 464h8v4h-8zM1126 464h16v4h-16zM1022 468h8v4h-8zM1126 468h12v4h-12zM1018 472h4v4h-4zM1126 472h8v4h-8zM1010 476h4v4h-4zM1126 476h8v4h-8zM1006 480h4v4h-4zM1126 480h4v4h-4zM1002 484h4v4h-4zM998 488h4v4h-4zM994 492h4v4h-4zM886 496h8v4h-8zM878 500h24v4h-24zM990 500h4v4h-4zM874 504h8v4h-8zM898 504h4v4h-4zM870 508h12v4h-12zM898 508h8v4h-8zM986 508h4v4h-4zM870 512h12v4h-12zM898 512h8v4h-8zM986 512h4v4h-4zM870 516h12v4h-12zM898 516h8v4h-8zM986 516h4v4h-4zM874 520h32v4h-32zM986 520h4v4h-4zM878 524h24v4h-24zM986 524h4v4h-4zM882 528h16v4h-16zM986 528h4v4h-4zM982 532h8v4h-8zM982 536h8v4h-8zM982 540h8v4h-8zM982 544h8v4h-8zM982 548h8v4h-8zM982 552h8v4h-8zM982 556h12v4h-12z"/>
<path fill="#3777fe" d="M990 92h4v4h-4zM986 100h4v4h-4zM982 112h4v4h-4zM982 116h4v4h-4zM978 136h4v4h-4zM978 140h4v4h-4zM978 144h4v4h-4zM978 148h4v4h-4zM982 164h4v4h-4zM986 172h4v4h-4zM990 176h4v4h-4zM994 180h4v4h-4zM998 184h4v4h-4zM1002 188h4v4h-4zM1010 196h4v4h-4zM1014 204h4v4h-4zM1014 208h4v4h-4zM1018 216h4v4h-4zM1018 220h4v4h-4zM1018 224h4v4h-4zM1022 232h4v4h-4zM1022 236h4v4h-4zM1026 240h4v4h-4zM1030 244h4v4h-4zM1030 248h8v4h-8zM1034 252h8v4h-8zM1038 256h8v4h-8zM1046 260h8v4h-8zM1050 264h8v4h-8zM1054 268h8v4h-8zM1058 272h12v4h-12zM1062 276h12v4h-12zM1070 280h12v4h-12zM1074 284h12v4h-12zM1078 288h16v4h-16zM1082 292h16v4h-16zM1090 296h12v4h-12zM1094 300h12v4h-12zM1098 304h12v4h-12zM1102 308h12v4h-12zM1106 312h12v4h-12zM1110 316h8v4h-8zM1110 320h12v4h-12zM1114 324h12v4h-12zM1118 328h8v4h-8zM1122 332h8v4h-8zM1122 336h12v4h-12zM1126 340h12v4h-12zM1130 344h12v4h-12zM1134 348h16v4h-16zM1138 352h16v4h-16zM1138 356h24v4h-24zM1142 360h44v4h-44zM1142 364h44v4h-44zM1146 368h36v4h-36zM1146 372h36v4h-36zM1150 376h32v4h-32zM1150 380h32v4h-32zM1150 384h32v4h-32zM1150 388h28v4h-28zM1150 392h28v4h-28zM1146 396h32v4h-32zM1146 400h28v4h-28zM1138 404h36v4h-36zM1134 408h40v4h-40zM1122 412h48v4h-48zM1110 416h60v4h-60zM1102 420h64v4h-64zM1094 424h20v4h-20zM1126 424h40v4h-40zM1086 428h12v4h-12zM1138 428h24v4h-24zM1082 432h8v4h-8zM1142 432h20v4h-20zM1074 436h12v4h-12zM1142 436h16v4h-16zM1070 440h8v4h-8zM1146 440h12v4h-12zM1062 444h8v4h-8zM1146 444h8v4h-8zM1054 448h8v4h-8zM1146 448h8v4h-8zM1046 452h8v4h-8zM1146 452h4v4h-4zM1038 456h8v4h-8zM1142 456h4v4h-4zM1034 460h4v4h-4zM1142 460h4v4h-4zM1026 464h4v4h-4zM1018 468h4v4h-4zM1014 472h4v4h-4zM1006 476h4v4h-4zM1002 480h4v4h-4zM998 484h4v4h-4zM994 488h4v4h-4zM990 492h4v4h-4zM874 496h12v4h-12zM894 496h8v4h-8zM990 496h4v4h-4zM870 500h8v4h-8zM902 500h4v4h-4zM986 500h4v4h-4zM866 504h8v4h-8zM902 504h8v4h-8zM986 504h4v4h-4zM862 508h8v4h-8zM906 508h4v4h-4zM862 512h8v4h-8zM906 512h4v4h-4zM982 512h4v4h-4zM862 516h8v4h-8zM906 516h4v4h-4zM982 516h4v4h-4zM866 520h8v4h-8zM906 520h4v4h-4zM982 520h4v4h-4zM866 524h12v4h-12zM902 524h8v4h-8zM982 524h4v4h-4zM870 528h12v4h-12zM898 528h12v4h-12zM978 528h8v4h-8zM874 532h32v4h-32zM978 532h4v4h-4zM878 536h24v4h-24zM978 536h4v4h-4zM974 540h8v4h-8zM974 544h8v4h-8zM974 548h8v4h-8zM970 552h12v4h-12zM970 556h12v4h-12z"/>
<path fill="#337bfc" d="M986 96h4v4h-4zM982 108h4v4h-4zM978 124h4v4h-4zM978 128h4v4h-4zM978 132h4v4h-4zM978 152h4v4h-4zM978 156h4v4h-4zM982 168h4v4h-4zM1006 192h4v4h-4zM1010 200h4v4h-4zM1010 204h4v4h-4zM1014 212h4v4h-4zM1014 216h4v4h-4zM1014 220h4v4h-4zM1018 228h4v4h-4zM1018 232h4v4h-4zM1018 236h4v4h-4zM1022 240h4v4h-4zM1026 244h4v4h-4zM1026 248h4v4h-4zM1030 252h4v4h-4zM1034 256h4v4h-4zM1038 260h8v4h-8zM1042 264h8v4h-8zM1046 268h8v4h-8zM1050 272h8v4h-8zM1054 276h8v4h-8zM1058 280h12v4h-12zM1062 284h12v4h-12zM1070 288h8v4h-8zM1074 292h8v4h-8zM1078 296h12v4h-12zM1082 300h12v4h-12zM1086 304h12v4h-12zM1090 308h12v4h-12zM1094 312h12v4h-12zM1098 316h12v4h-12zM1102 320h8v4h-8zM1106 324h8v4h-8zM1110 328h8v4h-8zM1110 332h12v4h-12zM1114 336h8v4h-8zM1118 340h8v4h-8zM1122 344h8v4h-8zM1122 348h12v4h-12zM1126 352h12v4h-12zM1126 356h12v4h-12zM1130 360h12v4h-12zM1130 364h12v4h-12zM1134 368h12v4h-12zM1134 372h12v4h-12zM1134 376h16v4h-16zM1134 380h16v4h-16zM1134 384h16v4h-16zM1130 388h20v4h-20zM1130 392h20v4h-20zM1126 396h20v4h-20zM1122 400h24v4h-24zM1118 404h20v4h-20zM1110 408h24v4h-24zM1106 412h16v4h-16zM1098 416h12v4h-12zM1090 420h12v4h-12zM1086 424h8v4h-8zM1078 428h8v4h-8zM1074 432h8v4h-8zM1066 436h8v4h-8zM1062 440h8v4h-8zM1054 444h8v4h-8zM1046 448h8v4h-8zM1042 452h4v4h-4zM1034 456h4v4h-4zM1026 460h8v4h-8zM1022 464h4v4h-4zM1014 468h4v4h-4zM1010 472h4v4h-4zM1002 476h4v4h-4zM998 480h4v4h-4zM994 484h4v4h-4zM990 488h4v4h-4zM870 492h28v4h-28zM862 496h12v4h-12zM902 496h4v4h-4zM986 496h4v4h-4zM858 500h12v4h-12zM906 500h4v4h-4zM858 504h8v4h-8zM910 504h4v4h-4zM982 504h4v4h-4zM854 508h8v4h-8zM910 508h4v4h-4zM982 508h4v4h-4zM854 512h8v4h-8zM910 512h4v4h-4zM858 516h4v4h-4zM910 516h8v4h-8zM978 516h4v4h-4zM858 520h8v4h-8zM910 520h8v4h-8zM978 520h4v4h-4zM858 524h8v4h-8zM910 524h8v4h-8zM978 524h4v4h-4zM858 528h12v4h-12zM910 528h8v4h-8zM974 528h4v4h-4zM862 532h12v4h-12zM906 532h12v4h-12zM974 532h4v4h-4zM866 536h12v4h-12zM902 536h16v4h-16zM970 536h8v4h-8zM870 540h48v4h-48zM970 540h4v4h-4zM874 544h40v4h-40zM966 544h8v4h-8zM894 548h16v4h-16zM958 548h16v4h-16zM954 552h16v4h-16zM946 556h24v4h-24zM946 560h12v4h-12z"/>
<path fill="#307ffb" d="M986 92h4v4h-4zM982 104h4v4h-4zM978 120h4v4h-4zM978 160h4v4h-4zM986 176h4v4h-4zM990 180h4v4h-4zM994 184h4v4h-4zM998 188h4v4h-4zM1002 192h4v4h-4zM1006 196h4v4h-4zM1006 200h4v4h-4zM1010 208h4v4h-4zM1010 212h4v4h-4zM1014 224h4v4h-4zM1014 228h4v4h-4zM1014 232h4v4h-4zM1018 240h4v4h-4zM1022 244h4v4h-4zM1022 248h4v4h-4zM1026 252h4v4h-4zM1030 256h4v4h-4zM1034 260h4v4h-4zM1038 264h4v4h-4zM1042 268h4v4h-4zM1042 272h8v4h-8zM1046 276h8v4h-8zM1050 280h8v4h-8zM1054 284h8v4h-8zM1058 288h12v4h-12zM1062 292h12v4h-12zM1066 296h12v4h-12zM1074 300h8v4h-8zM1078 304h8v4h-8zM1082 308h8v4h-8zM1086 312h8v4h-8zM1090 316h8v4h-8zM1094 320h8v4h-8zM1098 324h8v4h-8zM1102 328h8v4h-8zM1102 332h8v4h-8zM1106 336h8v4h-8zM1110 340h8v4h-8zM1114 344h8v4h-8zM1114 348h8v4h-8zM1118 352h8v4h-8zM1118 356h8v4h-8zM1122 360h8v4h-8zM1122 364h8v4h-8zM1122 368h12v4h-12zM1122 372h12v4h-12zM1122 376h12v4h-12zM1122 380h12v4h-12zM1122 384h12v4h-12zM1122 388h8v4h-8zM1118 392h12v4h-12zM1114 396h12v4h-12zM1110 400h12v4h-12zM1106 404h12v4h-12zM1102 408h8v4h-8zM1094 412h12v4h-12zM1090 416h8v4h-8zM1082 420h8v4h-8zM1078 424h8v4h-8zM1070 428h8v4h-8zM1066 432h8v4h-8zM1058 436h8v4h-8zM1054 440h8v4h-8zM1046 444h8v4h-8zM1042 448h4v4h-4zM1034 452h8v4h-8zM1030 456h4v4h-4zM1022 460h4v4h-4zM1018 464h4v4h-4zM1010 468h4v4h-4zM1006 472h4v4h-4zM998 476h4v4h-4zM994 480h4v4h-4zM990 484h4v4h-4zM866 488h32v4h-32zM986 488h4v4h-4zM858 492h12v4h-12zM898 492h8v4h-8zM986 492h4v4h-4zM854 496h8v4h-8zM906 496h4v4h-4zM982 496h4v4h-4zM850 500h8v4h-8zM910 500h4v4h-4zM982 500h4v4h-4zM850 504h8v4h-8zM914 504h4v4h-4zM978 504h4v4h-4zM846 508h8v4h-8zM914 508h4v4h-4zM978 508h4v4h-4zM846 512h8v4h-8zM914 512h4v4h-4zM978 512h4v4h-4zM850 516h8v4h-8zM918 516h4v4h-4zM974 516h4v4h-4zM850 520h8v4h-8zM918 520h4v4h-4zM974 520h4v4h-4zM850 524h8v4h-8zM918 524h4v4h-4zM970 524h8v4h-8zM850 528h8v4h-8zM918 528h8v4h-8zM970 528h4v4h-4zM854 532h8v4h-8zM918 532h8v4h-8zM966 532h8v4h-8zM854 536h12v4h-12zM918 536h12v4h-12zM962 536h8v4h-8zM858 540h12v4h-12zM918 540h16v4h-16zM958 540h12v4h-12zM866 544h8v4h-8zM914 544h52v4h-52zM878 548h16v4h-16zM910 548h48v4h-48zM890 552h64v4h-64zM910 556h36v4h-36z"/>
<path fill="#2e83f9" d="M982 96h4v4h-4zM982 100h4v4h-4zM978 112h4v4h-4zM978 116h4v4h-4zM978 164h4v4h-4zM982 172h4v4h-4zM986 180h4v4h-4zM990 184h4v4h-4zM994 188h4v4h-4zM998 192h4v4h-4zM1002 196h4v4h-4zM1006 204h4v4h-4zM1006 208h4v4h-4zM1010 216h4v4h-4zM1010 220h4v4h-4zM1010 224h4v4h-4zM1010 228h4v4h-4zM1014 236h4v4h-4zM1014 240h4v4h-4zM1018 244h4v4h-4zM1018 248h4v4h-4zM1022 252h4v4h-4zM1026 256h4v4h-4zM1030 260h4v4h-4zM1030 264h8v4h-8zM1034 268h8v4h-8zM1038 272h4v4h-4zM1042 276h4v4h-4zM1046 280h4v4h-4zM1050 284h4v4h-4zM1054 288h4v4h-4zM1054 292h8v4h-8zM1058 296h8v4h-8zM1062 300h12v4h-12zM1066 304h12v4h-12zM1070 308h12v4h-12zM1074 312h12v4h-12zM746 316h16v4h-16zM1082 316h8v4h-8zM742 320h24v4h-24zM1086 320h8v4h-8zM738 324h24v4h-24zM1090 324h8v4h-8zM738 328h16v4h-16zM1094 328h8v4h-8zM1094 332h8v4h-8zM1098 336h8v4h-8zM1102 340h8v4h-8zM1106 344h8v4h-8zM1106 348h8v4h-8zM1110 352h8v4h-8zM1110 356h8v4h-8zM1114 360h8v4h-8zM1114 364h8v4h-8zM1114 368h8v4h-8zM1114 372h8v4h-8zM1114 376h8v4h-8zM1114 380h8v4h-8zM1114 384h8v4h-8zM1110 388h12v4h-12zM1110 392h8v4h-8zM1106 396h8v4h-8zM1102 400h8v4h-8zM1098 404h8v4h-8zM1090 408h12v4h-12zM1086 412h8v4h-8zM1082 416h8v4h-8zM1074 420h8v4h-8zM1070 424h8v4h-8zM1066 428h4v4h-4zM1058 432h8v4h-8zM1054 436h4v4h-4zM1046 440h8v4h-8zM1042 444h4v4h-4zM1034 448h8v4h-8zM1030 452h4v4h-4zM1022 456h8v4h-8zM1018 460h4v4h-4zM1014 464h4v4h-4zM1006 468h4v4h-4zM1002 472h4v4h-4zM994 476h4v4h-4zM990 480h4v4h-4zM862 484h24v4h-24zM986 484h4v4h-4zM846 488h20v4h-20zM898 488h4v4h-4zM842 492h16v4h-16zM906 492h4v4h-4zM982 492h4v4h-4zM838 496h16v4h-16zM910 496h4v4h-4zM978 496h4v4h-4zM838 500h12v4h-12zM914 500h4v4h-4zM978 500h4v4h-4zM838 504h12v4h-12zM918 504h4v4h-4zM838 508h8v4h-8zM918 508h4v4h-4zM974 508h4v4h-4zM838 512h8v4h-8zM918 512h8v4h-8zM974 512h4v4h-4zM838 516h12v4h-12zM922 516h4v4h-4zM970 516h4v4h-4zM842 520h8v4h-8zM922 520h4v4h-4zM970 520h4v4h-4zM842 524h8v4h-8zM922 524h8v4h-8zM966 524h4v4h-4zM842 528h8v4h-8zM926 528h8v4h-8zM962 528h8v4h-8zM846 532h8v4h-8zM926 532h12v4h-12zM958 532h8v4h-8zM850 536h4v4h-4zM930 536h32v4h-32zM934 540h24v4h-24z"/>
<path fill="#2e86f7" d="M982 92h4v4h-4zM978 104h4v4h-4zM978 108h4v4h-4zM974 128h4v4h-4zM974 132h4v4h-4zM974 136h4v4h-4zM974 140h4v4h-4zM974 144h4v4h-4zM974 148h4v4h-4zM974 152h4v4h-4zM978 168h4v4h-4zM982 176h4v4h-4zM990 188h4v4h-4zM994 192h4v4h-4zM998 196h4v4h-4zM1002 200h4v4h-4zM1002 204h4v4h-4zM1006 212h4v4h-4zM1006 216h4v4h-4zM1006 220h4v4h-4zM1010 232h4v4h-4zM1010 236h4v4h-4zM1014 244h4v4h-4zM1018 252h4v4h-4zM1022 256h4v4h-4zM1026 260h4v4h-4zM1026 264h4v4h-4zM1030 268h4v4h-4zM1034 272h4v4h-4zM1038 276h4v4h-4zM1038 280h8v4h-8zM1042 284h8v4h-8zM1046 288h8v4h-8zM1050 292h4v4h-4zM1054 296h4v4h-4zM1054 300h8v4h-8zM746 304h24v4h-24zM1058 304h8v4h-8zM738 308h36v4h-36zM1062 308h8v4h-8zM730 312h44v4h-44zM1066 312h8v4h-8zM722 316h24v4h-24zM762 316h12v4h-12zM1070 316h12v4h-12zM718 320h24v4h-24zM766 320h8v4h-8zM1074 320h12v4h-12zM718 324h20v4h-20zM762 324h12v4h-12zM1078 324h12v4h-12zM718 328h20v4h-20zM754 328h16v4h-16zM1082 328h12v4h-12zM718 332h48v4h-48zM1086 332h8v4h-8zM718 336h40v4h-40zM1090 336h8v4h-8zM718 340h36v4h-36zM1094 340h8v4h-8zM718 344h28v4h-28zM1098 344h8v4h-8zM718 348h24v4h-24zM1102 348h4v4h-4zM718 352h16v4h-16zM1102 352h8v4h-8zM718 356h12v4h-12zM1106 356h4v4h-4zM718 360h8v4h-8zM1106 360h8v4h-8zM1106 364h8v4h-8zM1110 368h4v4h-4zM1110 372h4v4h-4zM1110 376h4v4h-4zM1106 380h8v4h-8zM1106 384h8v4h-8zM1106 388h4v4h-4zM1102 392h8v4h-8zM1098 396h8v4h-8zM1094 400h8v4h-8zM1090 404h8v4h-8zM1082 408h8v4h-8zM1078 412h8v4h-8zM1074 416h8v4h-8zM1066 420h8v4h-8zM1062 424h8v4h-8zM1058 428h8v4h-8zM1054 432h4v4h-4zM1046 436h8v4h-8zM1042 440h4v4h-4zM1034 444h8v4h-8zM1030 448h4v4h-4zM1026 452h4v4h-4zM1018 456h4v4h-4zM1014 460h4v4h-4zM1006 464h8v4h-8zM1002 468h4v4h-4zM994 472h8v4h-8zM990 476h4v4h-4zM834 480h40v4h-40zM986 480h4v4h-4zM826 484h36v4h-36zM886 484h12v4h-12zM982 484h4v4h-4zM826 488h20v4h-20zM902 488h8v4h-8zM982 488h4v4h-4zM826 492h16v4h-16zM910 492h4v4h-4zM978 492h4v4h-4zM826 496h12v4h-12zM914 496h4v4h-4zM826 500h12v4h-12zM918 500h4v4h-4zM974 500h4v4h-4zM826 504h12v4h-12zM922 504h4v4h-4zM974 504h4v4h-4zM826 508h12v4h-12zM922 508h4v4h-4zM970 508h4v4h-4zM826 512h12v4h-12zM926 512h4v4h-4zM970 512h4v4h-4zM830 516h8v4h-8zM926 516h4v4h-4zM966 516h4v4h-4zM830 520h12v4h-12zM926 520h8v4h-8zM966 520h4v4h-4zM830 524h12v4h-12zM930 524h8v4h-8zM958 524h8v4h-8zM834 528h8v4h-8zM934 528h28v4h-28zM842 532h4v4h-4zM938 532h20v4h-20z"/>
<path fill="#2d8af5" d="M978 100h4v4h-4zM974 120h4v4h-4zM974 124h4v4h-4zM974 156h4v4h-4zM974 160h4v4h-4zM978 172h4v4h-4zM982 180h4v4h-4zM986 184h4v4h-4zM994 196h4v4h-4zM998 200h4v4h-4zM1002 208h4v4h-4zM1002 212h4v4h-4zM1002 216h4v4h-4zM1006 224h4v4h-4zM1006 228h4v4h-4zM1006 232h4v4h-4zM1010 240h4v4h-4zM1010 244h4v4h-4zM1014 248h4v4h-4zM1014 252h4v4h-4zM1018 256h4v4h-4zM1022 260h4v4h-4zM1022 264h4v4h-4zM1026 268h4v4h-4zM1030 272h4v4h-4zM1030 276h8v4h-8zM1034 280h4v4h-4zM1038 284h4v4h-4zM1042 288h4v4h-4zM1042 292h8v4h-8zM750 296h32v4h-32zM1046 296h8v4h-8zM734 300h48v4h-48zM1050 300h4v4h-4zM726 304h20v4h-20zM770 304h16v4h-16zM1054 304h4v4h-4zM718 308h20v4h-20zM774 308h12v4h-12zM1054 308h8v4h-8zM718 312h12v4h-12zM774 312h8v4h-8zM1058 312h8v4h-8zM718 316h4v4h-4zM774 316h8v4h-8zM1062 316h8v4h-8zM774 320h4v4h-4zM1066 320h8v4h-8zM774 324h4v4h-4zM1070 324h8v4h-8zM770 328h4v4h-4zM1074 328h8v4h-8zM766 332h4v4h-4zM1078 332h8v4h-8zM758 336h12v4h-12zM1082 336h8v4h-8zM754 340h8v4h-8zM1086 340h8v4h-8zM746 344h12v4h-12zM1090 344h8v4h-8zM742 348h12v4h-12zM1094 348h8v4h-8zM734 352h16v4h-16zM1098 352h4v4h-4zM730 356h16v4h-16zM1098 356h8v4h-8zM726 360h16v4h-16zM1102 360h4v4h-4zM718 364h20v4h-20zM1102 364h4v4h-4zM722 368h12v4h-12zM1102 368h8v4h-8zM722 372h8v4h-8zM1102 372h8v4h-8zM722 376h8v4h-8zM1102 376h8v4h-8zM722 380h4v4h-4zM1102 380h4v4h-4zM1098 384h8v4h-8zM1098 388h8v4h-8zM1094 392h8v4h-8zM1090 396h8v4h-8zM1086 400h8v4h-8zM1082 404h8v4h-8zM1078 408h4v4h-4zM1070 412h8v4h-8zM1066 416h8v4h-8zM1062 420h4v4h-4zM1058 424h4v4h-4zM1050 428h8v4h-8zM1046 432h8v4h-8zM1042 436h4v4h-4zM1034 440h8v4h-8zM794 444h8v4h-8zM1030 444h4v4h-4zM790 448h20v4h-20zM1026 448h4v4h-4zM790 452h24v4h-24zM1018 452h8v4h-8zM790 456h28v4h-28zM1014 456h4v4h-4zM790 460h32v4h-32zM1010 460h4v4h-4zM794 464h36v4h-36zM1002 464h4v4h-4zM794 468h44v4h-44zM998 468h4v4h-4zM798 472h56v4h-56zM990 472h4v4h-4zM798 476h72v4h-72zM986 476h4v4h-4zM802 480h32v4h-32zM874 480h20v4h-20zM982 480h4v4h-4zM802 484h24v4h-24zM898 484h8v4h-8zM802 488h24v4h-24zM910 488h4v4h-4zM978 488h4v4h-4zM806 492h20v4h-20zM914 492h4v4h-4zM974 492h4v4h-4zM806 496h20v4h-20zM918 496h4v4h-4zM974 496h4v4h-4zM806 500h20v4h-20zM922 500h4v4h-4zM970 500h4v4h-4zM810 504h16v4h-16zM926 504h4v4h-4zM970 504h4v4h-4zM810 508h16v4h-16zM926 508h4v4h-4zM966 508h4v4h-4zM810 512h16v4h-16zM930 512h4v4h-4zM966 512h4v4h-4zM814 516h16v4h-16zM930 516h8v4h-8zM962 516h4v4h-4zM822 520h8v4h-8zM934 520h8v4h-8zM958 520h8v4h-8zM826 524h4v4h-4zM938 524h20v4h-20z"/>
<path fill="#2d8df2" d="M978 92h4v4h-4zM978 96h4v4h-4zM974 112h4v4h-4zM974 116h4v4h-4zM974 164h4v4h-4zM978 176h4v4h-4zM986 188h4v4h-4zM990 192h4v4h-4zM994 200h4v4h-4zM998 204h4v4h-4zM998 208h4v4h-4zM998 212h4v4h-4zM1002 220h4v4h-4zM1002 224h4v4h-4zM1002 228h4v4h-4zM1006 236h4v4h-4zM1006 240h4v4h-4zM1010 248h4v4h-4zM1014 256h4v4h-4zM1018 260h4v4h-4zM1018 264h4v4h-4zM1022 268h4v4h-4zM1026 272h4v4h-4zM1026 276h4v4h-4zM1030 280h4v4h-4zM1034 284h4v4h-4zM758 288h32v4h-32zM1034 288h8v4h-8zM742 292h52v4h-52zM1038 292h4v4h-4zM726 296h24v4h-24zM782 296h12v4h-12zM1042 296h4v4h-4zM718 300h16v4h-16zM782 300h12v4h-12zM1042 300h8v4h-8zM718 304h8v4h-8zM786 304h8v4h-8zM1046 304h8v4h-8zM786 308h4v4h-4zM1050 308h4v4h-4zM782 312h8v4h-8zM1050 312h8v4h-8zM782 316h4v4h-4zM1054 316h8v4h-8zM778 320h8v4h-8zM1058 320h8v4h-8zM778 324h4v4h-4zM1062 324h8v4h-8zM774 328h8v4h-8zM1066 328h8v4h-8zM770 332h8v4h-8zM1070 332h8v4h-8zM770 336h4v4h-4zM1074 336h8v4h-8zM762 340h8v4h-8zM1078 340h8v4h-8zM758 344h8v4h-8zM1082 344h8v4h-8zM754 348h8v4h-8zM1086 348h8v4h-8zM750 352h8v4h-8zM1090 352h8v4h-8zM746 356h8v4h-8zM1090 356h8v4h-8zM742 360h8v4h-8zM1094 360h8v4h-8zM738 364h12v4h-12zM1094 364h8v4h-8zM734 368h12v4h-12zM1094 368h8v4h-8zM730 372h12v4h-12zM1098 372h4v4h-4zM730 376h12v4h-12zM1094 376h8v4h-8zM726 380h12v4h-12zM1094 380h8v4h-8zM722 384h16v4h-16zM1094 384h4v4h-4zM726 388h8v4h-8zM1090 388h8v4h-8zM726 392h8v4h-8zM1086 392h8v4h-8zM726 396h8v4h-8zM1082 396h8v4h-8zM730 400h4v4h-4zM1078 400h8v4h-8zM730 404h4v4h-4zM1074 404h8v4h-8zM730 408h4v4h-4zM1070 408h8v4h-8zM1066 412h4v4h-4zM1058 416h8v4h-8zM1054 420h8v4h-8zM1050 424h8v4h-8zM1046 428h4v4h-4zM1042 432h4v4h-4zM778 436h28v4h-28zM1034 436h8v4h-8zM766 440h48v4h-48zM1030 440h4v4h-4zM762 444h32v4h-32zM802 444h16v4h-16zM1026 444h4v4h-4zM762 448h28v4h-28zM810 448h12v4h-12zM1018 448h8v4h-8zM762 452h28v4h-28zM814 452h12v4h-12zM1014 452h4v4h-4zM766 456h24v4h-24zM818 456h16v4h-16zM1010 456h4v4h-4zM770 460h20v4h-20zM822 460h16v4h-16zM1002 460h8v4h-8zM774 464h20v4h-20zM830 464h16v4h-16zM998 464h4v4h-4zM778 468h16v4h-16zM838 468h20v4h-20zM990 468h8v4h-8zM782 472h16v4h-16zM854 472h16v4h-16zM986 472h4v4h-4zM782 476h16v4h-16zM870 476h16v4h-16zM982 476h4v4h-4zM782 480h20v4h-20zM894 480h8v4h-8zM978 480h4v4h-4zM782 484h20v4h-20zM906 484h8v4h-8zM978 484h4v4h-4zM786 488h16v4h-16zM914 488h4v4h-4zM974 488h4v4h-4zM786 492h20v4h-20zM918 492h4v4h-4zM970 492h4v4h-4zM790 496h16v4h-16zM922 496h4v4h-4zM970 496h4v4h-4zM794 500h12v4h-12zM926 500h4v4h-4zM966 500h4v4h-4zM798 504h12v4h-12zM930 504h4v4h-4zM966 504h4v4h-4zM806 508h4v4h-4zM930 508h8v4h-8zM962 508h4v4h-4zM934 512h8v4h-8zM958 512h8v4h-8zM938 516h8v4h-8zM954 516h8v4h-8zM942 520h16v4h-16z"/>
<path fill="#2b91ef" d="M974 104h4v4h-4zM974 108h4v4h-4zM970 136h4v4h-4zM970 140h4v4h-4zM970 144h4v4h-4zM974 168h4v4h-4zM978 180h4v4h-4zM982 184h4v4h-4zM986 192h4v4h-4zM990 196h4v4h-4zM994 204h4v4h-4zM994 208h4v4h-4zM998 216h4v4h-4zM998 220h4v4h-4zM998 224h4v4h-4zM1002 232h4v4h-4zM1002 236h4v4h-4zM1006 244h4v4h-4zM1006 248h4v4h-4zM1010 252h4v4h-4zM1010 256h4v4h-4zM1014 260h4v4h-4zM1014 264h4v4h-4zM1018 268h4v4h-4zM1022 272h4v4h-4zM1022 276h4v4h-4zM774 280h36v4h-36zM1026 280h4v4h-4zM750 284h64v4h-64zM1026 284h8v4h-8zM734 288h24v4h-24zM790 288h24v4h-24zM1030 288h4v4h-4zM718 292h24v4h-24zM794 292h16v4h-16zM1034 292h4v4h-4zM718 296h8v4h-8zM794 296h12v4h-12zM1034 296h8v4h-8zM794 300h12v4h-12zM1038 300h4v4h-4zM794 304h8v4h-8zM1038 304h8v4h-8zM790 308h8v4h-8zM1042 308h8v4h-8zM790 312h4v4h-4zM1046 312h4v4h-4zM786 316h8v4h-8zM1046 316h8v4h-8zM786 320h4v4h-4zM1050 320h8v4h-8zM782 324h4v4h-4zM1054 324h8v4h-8zM782 328h4v4h-4zM1058 328h8v4h-8zM778 332h4v4h-4zM1062 332h8v4h-8zM774 336h4v4h-4zM1066 336h8v4h-8zM770 340h4v4h-4zM1070 340h8v4h-8zM766 344h4v4h-4zM1074 344h8v4h-8zM762 348h4v4h-4zM1078 348h8v4h-8zM758 352h8v4h-8zM1082 352h8v4h-8zM754 356h8v4h-8zM1086 356h4v4h-4zM750 360h8v4h-8zM1086 360h8v4h-8zM750 364h4v4h-4zM1090 364h4v4h-4zM746 368h8v4h-8zM1090 368h4v4h-4zM742 372h8v4h-8zM1090 372h8v4h-8zM742 376h8v4h-8zM1090 376h4v4h-4zM738 380h12v4h-12zM1090 380h4v4h-4zM738 384h8v4h-8zM1086 384h8v4h-8zM734 388h12v4h-12zM1082 388h8v4h-8zM734 392h12v4h-12zM1078 392h8v4h-8zM734 396h12v4h-12zM1074 396h8v4h-8zM734 400h12v4h-12zM1070 400h8v4h-8zM734 404h12v4h-12zM1066 404h8v4h-8zM734 408h16v4h-16zM1062 408h8v4h-8zM734 412h16v4h-16zM1058 412h8v4h-8zM734 416h20v4h-20zM1054 416h4v4h-4zM738 420h20v4h-20zM1050 420h4v4h-4zM738 424h28v4h-28zM1046 424h4v4h-4zM742 428h56v4h-56zM1038 428h8v4h-8zM742 432h68v4h-68zM1034 432h8v4h-8zM746 436h32v4h-32zM806 436h8v4h-8zM1030 436h4v4h-4zM746 440h20v4h-20zM814 440h8v4h-8zM1026 440h4v4h-4zM750 444h12v4h-12zM818 444h8v4h-8zM1018 444h8v4h-8zM750 448h12v4h-12zM822 448h12v4h-12zM1014 448h4v4h-4zM754 452h8v4h-8zM826 452h12v4h-12zM1010 452h4v4h-4zM758 456h8v4h-8zM834 456h12v4h-12zM1006 456h4v4h-4zM758 460h12v4h-12zM838 460h16v4h-16zM998 460h4v4h-4zM762 464h12v4h-12zM846 464h16v4h-16zM994 464h4v4h-4zM766 468h12v4h-12zM858 468h12v4h-12zM986 468h4v4h-4zM770 472h12v4h-12zM870 472h12v4h-12zM982 472h4v4h-4zM770 476h12v4h-12zM886 476h12v4h-12zM978 476h4v4h-4zM774 480h8v4h-8zM902 480h8v4h-8zM974 480h4v4h-4zM778 484h4v4h-4zM914 484h4v4h-4zM970 484h8v4h-8zM782 488h4v4h-4zM918 488h8v4h-8zM970 488h4v4h-4zM922 492h8v4h-8zM966 492h4v4h-4zM926 496h8v4h-8zM966 496h4v4h-4zM930 500h8v4h-8zM962 500h4v4h-4zM934 504h8v4h-8zM958 504h8v4h-8zM938 508h8v4h-8zM958 508h4v4h-4zM942 512h16v4h-16zM946 516h8v4h-8z"/>
<path fill="#2994ed" d="M974 96h4v4h-4zM974 100h4v4h-4zM970 120h4v4h-4zM970 124h4v4h-4zM970 128h4v4h-4zM970 132h4v4h-4zM970 148h4v4h-4zM970 152h4v4h-4zM970 156h4v4h-4zM974 172h4v4h-4zM982 188h4v4h-4zM986 196h4v4h-4zM990 200h4v4h-4zM990 204h4v4h-4zM994 212h4v4h-4zM994 216h4v4h-4zM998 228h4v4h-4zM998 232h4v4h-4zM998 236h4v4h-4zM1002 240h4v4h-4zM1002 244h4v4h-4zM1006 252h4v4h-4zM1006 256h4v4h-4zM1010 260h4v4h-4zM1014 268h4v4h-4zM802 272h16v4h-16zM1018 272h4v4h-4zM766 276h60v4h-60zM1018 276h4v4h-4zM746 280h28v4h-28zM810 280h16v4h-16zM1022 280h4v4h-4zM722 284h28v4h-28zM814 284h12v4h-12zM1022 284h4v4h-4zM718 288h16v4h-16zM814 288h8v4h-8zM1026 288h4v4h-4zM810 292h12v4h-12zM1026 292h8v4h-8zM806 296h12v4h-12zM1030 296h4v4h-4zM806 300h8v4h-8zM1030 300h8v4h-8zM802 304h8v4h-8zM1034 304h4v4h-4zM798 308h8v4h-8zM1038 308h4v4h-4zM794 312h8v4h-8zM1038 312h8v4h-8zM794 316h4v4h-4zM1042 316h4v4h-4zM790 320h4v4h-4zM1042 320h8v4h-8zM786 324h4v4h-4zM1046 324h8v4h-8zM786 328h4v4h-4zM1050 328h8v4h-8zM782 332h4v4h-4zM1054 332h8v4h-8zM778 336h4v4h-4zM1058 336h8v4h-8zM774 340h4v4h-4zM1062 340h8v4h-8zM770 344h4v4h-4zM1066 344h8v4h-8zM766 348h8v4h-8zM1070 348h8v4h-8zM766 352h4v4h-4zM1074 352h8v4h-8zM762 356h4v4h-4zM1074 356h12v4h-12zM758 360h4v4h-4zM1078 360h8v4h-8zM754 364h8v4h-8zM1082 364h8v4h-8zM754 368h4v4h-4zM1082 368h8v4h-8zM750 372h8v4h-8zM1082 372h8v4h-8zM750 376h8v4h-8zM1082 376h8v4h-8zM750 380h4v4h-4zM1082 380h8v4h-8zM746 384h8v4h-8zM1078 384h8v4h-8zM746 388h8v4h-8zM1074 388h8v4h-8zM746 392h8v4h-8zM1070 392h8v4h-8zM746 396h8v4h-8zM1066 396h8v4h-8zM746 400h12v4h-12zM1062 400h8v4h-8zM746 404h12v4h-12zM1058 404h8v4h-8zM750 408h12v4h-12zM1054 408h8v4h-8zM750 412h16v4h-16zM1050 412h8v4h-8zM754 416h16v4h-16zM1046 416h8v4h-8zM758 420h24v4h-24zM1042 420h8v4h-8zM766 424h32v4h-32zM1038 424h8v4h-8zM798 428h12v4h-12zM1034 428h4v4h-4zM810 432h8v4h-8zM1030 432h4v4h-4zM814 436h8v4h-8zM1026 436h4v4h-4zM822 440h8v4h-8zM1018 440h8v4h-8zM826 444h12v4h-12zM1014 444h4v4h-4zM834 448h8v4h-8zM1010 448h4v4h-4zM838 452h12v4h-12zM1006 452h4v4h-4zM846 456h8v4h-8zM998 456h8v4h-8zM854 460h8v4h-8zM994 460h4v4h-4zM862 464h8v4h-8zM986 464h8v4h-8zM870 468h8v4h-8zM982 468h4v4h-4zM882 472h8v4h-8zM978 472h4v4h-4zM898 476h8v4h-8zM974 476h4v4h-4zM910 480h8v4h-8zM970 480h4v4h-4zM918 484h8v4h-8zM966 484h4v4h-4zM926 488h4v4h-4zM966 488h4v4h-4zM930 492h4v4h-4zM962 492h4v4h-4zM934 496h8v4h-8zM958 496h8v4h-8zM938 500h8v4h-8zM954 500h8v4h-8zM942 504h16v4h-16zM946 508h12v4h-12z"/>
<path fill="#2798ea" d="M974 92h4v4h-4zM970 112h4v4h-4zM970 116h4v4h-4zM970 160h4v4h-4zM970 164h4v4h-4zM974 176h4v4h-4zM978 184h4v4h-4zM978 188h4v4h-4zM982 192h4v4h-4zM986 200h4v4h-4zM990 208h4v4h-4zM990 212h4v4h-4zM994 220h4v4h-4zM994 224h4v4h-4zM994 228h4v4h-4zM998 240h4v4h-4zM998 244h4v4h-4zM1002 248h4v4h-4zM1002 252h4v4h-4zM1006 260h4v4h-4zM1010 264h4v4h-4zM794 268h32v4h-32zM1010 268h4v4h-4zM762 272h40v4h-40zM818 272h12v4h-12zM1014 272h4v4h-4zM738 276h28v4h-28zM826 276h8v4h-8zM1014 276h4v4h-4zM722 280h24v4h-24zM826 280h8v4h-8zM1018 280h4v4h-4zM718 284h4v4h-4zM826 284h8v4h-8zM1018 284h4v4h-4zM822 288h8v4h-8zM1022 288h4v4h-4zM822 292h8v4h-8zM1022 292h4v4h-4zM818 296h8v4h-8zM1026 296h4v4h-4zM814 300h8v4h-8zM1026 300h4v4h-4zM810 304h8v4h-8zM1030 304h4v4h-4zM806 308h4v4h-4zM1030 308h8v4h-8zM802 312h4v4h-4zM1034 312h4v4h-4zM798 316h4v4h-4zM1034 316h8v4h-8zM794 320h4v4h-4zM1038 320h4v4h-4zM790 324h8v4h-8zM1038 324h8v4h-8zM790 328h4v4h-4zM1042 328h8v4h-8zM786 332h4v4h-4zM1046 332h8v4h-8zM782 336h4v4h-4zM1050 336h8v4h-8zM778 340h4v4h-4zM1054 340h8v4h-8zM774 344h4v4h-4zM1054 344h12v4h-12zM774 348h4v4h-4zM1058 348h12v4h-12zM770 352h4v4h-4zM1062 352h12v4h-12zM766 356h4v4h-4zM1066 356h8v4h-8zM762 360h8v4h-8zM1070 360h8v4h-8zM762 364h4v4h-4zM1070 364h12v4h-12zM758 368h8v4h-8zM1074 368h8v4h-8zM758 372h4v4h-4zM1074 372h8v4h-8zM758 376h4v4h-4zM1074 376h8v4h-8zM754 380h8v4h-8zM1070 380h12v4h-12zM754 384h8v4h-8zM1070 384h8v4h-8zM754 388h8v4h-8zM1066 388h8v4h-8zM754 392h8v4h-8zM1062 392h8v4h-8zM754 396h8v4h-8zM1058 396h8v4h-8zM758 400h8v4h-8zM1054 400h8v4h-8zM758 404h8v4h-8zM1054 404h4v4h-4zM762 408h8v4h-8zM1050 408h4v4h-4zM766 412h12v4h-12zM1046 412h4v4h-4zM770 416h16v4h-16zM1042 416h4v4h-4zM782 420h16v4h-16zM1038 420h4v4h-4zM798 424h12v4h-12zM1034 424h4v4h-4zM810 428h8v4h-8zM1030 428h4v4h-4zM818 432h8v4h-8zM1022 432h8v4h-8zM822 436h8v4h-8zM1018 436h8v4h-8zM830 440h8v4h-8zM1014 440h4v4h-4zM838 444h8v4h-8zM1010 444h4v4h-4zM842 448h12v4h-12zM1002 448h8v4h-8zM850 452h8v4h-8zM998 452h8v4h-8zM854 456h12v4h-12zM994 456h4v4h-4zM862 460h8v4h-8zM986 460h8v4h-8zM870 464h8v4h-8zM982 464h4v4h-4zM878 468h8v4h-8zM978 468h4v4h-4zM890 472h8v4h-8zM974 472h4v4h-4zM906 476h8v4h-8zM970 476h4v4h-4zM918 480h8v4h-8zM966 480h4v4h-4zM926 484h8v4h-8zM962 484h4v4h-4zM930 488h8v4h-8zM958 488h8v4h-8zM934 492h28v4h-28zM942 496h16v4h-16zM946 500h8v4h-8z"/>
<path fill="#259be8" d="M970 100h4v4h-4zM970 104h4v4h-4zM970 108h4v4h-4zM970 168h4v4h-4zM974 180h4v4h-4zM978 192h4v4h-4zM982 196h4v4h-4zM982 200h4v4h-4zM986 204h4v4h-4zM986 208h4v4h-4zM990 216h4v4h-4zM990 220h4v4h-4zM990 224h4v4h-4zM994 232h4v4h-4zM994 236h4v4h-4zM994 240h4v4h-4zM998 248h4v4h-4zM998 252h4v4h-4zM1002 256h4v4h-4zM1002 260h4v4h-4zM790 264h36v4h-36zM1006 264h4v4h-4zM758 268h36v4h-36zM826 268h8v4h-8zM1006 268h4v4h-4zM734 272h28v4h-28zM830 272h8v4h-8zM1010 272h4v4h-4zM722 276h16v4h-16zM834 276h8v4h-8zM1010 276h4v4h-4zM834 280h8v4h-8zM1014 280h4v4h-4zM834 284h4v4h-4zM1014 284h4v4h-4zM830 288h8v4h-8zM1018 288h4v4h-4zM830 292h4v4h-4zM1018 292h4v4h-4zM826 296h4v4h-4zM1022 296h4v4h-4zM822 300h4v4h-4zM1022 300h4v4h-4zM818 304h4v4h-4zM1022 304h8v4h-8zM810 308h8v4h-8zM1026 308h4v4h-4zM806 312h8v4h-8zM1026 312h8v4h-8zM802 316h8v4h-8zM1030 316h4v4h-4zM798 320h8v4h-8zM1030 320h8v4h-8zM798 324h4v4h-4zM1034 324h4v4h-4zM794 328h4v4h-4zM1034 328h8v4h-8zM790 332h4v4h-4zM1038 332h8v4h-8zM786 336h4v4h-4zM1042 336h8v4h-8zM782 340h4v4h-4zM1042 340h12v4h-12zM778 344h4v4h-4zM1046 344h8v4h-8zM778 348h4v4h-4zM1050 348h8v4h-8zM774 352h4v4h-4zM1054 352h8v4h-8zM770 356h4v4h-4zM1058 356h8v4h-8zM770 360h4v4h-4zM1058 360h12v4h-12zM766 364h4v4h-4zM1062 364h8v4h-8zM766 368h4v4h-4zM1062 368h12v4h-12zM762 372h4v4h-4zM1062 372h12v4h-12zM762 376h4v4h-4zM1062 376h12v4h-12zM762 380h4v4h-4zM1062 380h8v4h-8zM762 384h4v4h-4zM1058 384h12v4h-12zM762 388h4v4h-4zM1058 388h8v4h-8zM762 392h4v4h-4zM1054 392h8v4h-8zM762 396h8v4h-8zM1050 396h8v4h-8zM766 400h4v4h-4zM1050 400h4v4h-4zM766 404h8v4h-8zM1046 404h8v4h-8zM770 408h8v4h-8zM1042 408h8v4h-8zM778 412h8v4h-8zM1038 412h8v4h-8zM786 416h12v4h-12zM1034 416h8v4h-8zM798 420h8v4h-8zM1030 420h8v4h-8zM810 424h4v4h-4zM1026 424h8v4h-8zM818 428h8v4h-8zM1022 428h8v4h-8zM826 432h8v4h-8zM1018 432h4v4h-4zM830 436h12v4h-12zM1014 436h4v4h-4zM838 440h12v4h-12zM1006 440h8v4h-8zM846 444h8v4h-8zM1002 444h8v4h-8zM854 448h8v4h-8zM998 448h4v4h-4zM858 452h8v4h-8zM990 452h8v4h-8zM866 456h4v4h-4zM986 456h8v4h-8zM870 460h8v4h-8zM982 460h4v4h-4zM878 464h4v4h-4zM974 464h8v4h-8zM886 468h8v4h-8zM970 468h8v4h-8zM898 472h16v4h-16zM966 472h8v4h-8zM914 476h12v4h-12zM962 476h8v4h-8zM926 480h8v4h-8zM958 480h8v4h-8zM934 484h28v4h-28zM938 488h20v4h-20z"/>
<path fill="#249ee6" d="M970 92h4v4h-4zM970 96h4v4h-4zM966 128h4v4h-4zM966 132h4v4h-4zM966 136h4v4h-4zM966 140h4v4h-4zM966 144h4v4h-4zM966 148h4v4h-4zM966 152h4v4h-4zM970 172h4v4h-4zM970 176h4v4h-4zM974 184h4v4h-4zM974 188h4v4h-4zM978 196h4v4h-4zM982 204h4v4h-4zM982 208h4v4h-4zM986 212h4v4h-4zM986 216h4v4h-4zM986 220h4v4h-4zM990 228h4v4h-4zM990 232h4v4h-4zM990 236h4v4h-4zM994 244h4v4h-4zM994 248h4v4h-4zM998 256h4v4h-4zM794 260h36v4h-36zM998 260h4v4h-4zM754 264h36v4h-36zM826 264h12v4h-12zM1002 264h4v4h-4zM722 268h36v4h-36zM834 268h12v4h-12zM1002 268h4v4h-4zM722 272h12v4h-12zM838 272h8v4h-8zM1006 272h4v4h-4zM842 276h4v4h-4zM1006 276h4v4h-4zM842 280h4v4h-4zM1010 280h4v4h-4zM838 284h8v4h-8zM1010 284h4v4h-4zM838 288h8v4h-8zM1014 288h4v4h-4zM834 292h8v4h-8zM1014 292h4v4h-4zM830 296h8v4h-8zM1014 296h8v4h-8zM826 300h8v4h-8zM1018 300h4v4h-4zM822 304h8v4h-8zM1018 304h4v4h-4zM818 308h8v4h-8zM1022 308h4v4h-4zM814 312h4v4h-4zM1022 312h4v4h-4zM810 316h4v4h-4zM1022 316h8v4h-8zM806 320h4v4h-4zM1026 320h4v4h-4zM802 324h4v4h-4zM1026 324h8v4h-8zM798 328h4v4h-4zM1030 328h4v4h-4zM794 332h4v4h-4zM1030 332h8v4h-8zM790 336h4v4h-4zM1034 336h8v4h-8zM786 340h4v4h-4zM1038 340h4v4h-4zM782 344h4v4h-4zM1038 344h8v4h-8zM782 348h4v4h-4zM1042 348h8v4h-8zM778 352h4v4h-4zM1046 352h8v4h-8zM774 356h4v4h-4zM1046 356h12v4h-12zM774 360h4v4h-4zM1050 360h8v4h-8zM770 364h4v4h-4zM1050 364h12v4h-12zM770 368h4v4h-4zM1054 368h8v4h-8zM766 372h8v4h-8zM1054 372h8v4h-8zM766 376h4v4h-4zM1054 376h8v4h-8zM766 380h4v4h-4zM1054 380h8v4h-8zM766 384h4v4h-4zM1050 384h8v4h-8zM766 388h4v4h-4zM1050 388h8v4h-8zM766 392h8v4h-8zM1046 392h8v4h-8zM770 396h4v4h-4zM1046 396h4v4h-4zM770 400h8v4h-8zM1042 400h8v4h-8zM774 404h8v4h-8zM1038 404h8v4h-8zM778 408h8v4h-8zM1034 408h8v4h-8zM786 412h8v4h-8zM1034 412h4v4h-4zM798 416h8v4h-8zM1030 416h4v4h-4zM806 420h8v4h-8zM1026 420h4v4h-4zM814 424h8v4h-8zM1022 424h4v4h-4zM826 428h8v4h-8zM1014 428h8v4h-8zM834 432h8v4h-8zM1010 432h8v4h-8zM842 436h8v4h-8zM1006 436h8v4h-8zM850 440h8v4h-8zM1002 440h4v4h-4zM854 444h8v4h-8zM998 444h4v4h-4zM862 448h8v4h-8zM990 448h8v4h-8zM866 452h8v4h-8zM986 452h4v4h-4zM870 456h8v4h-8zM978 456h8v4h-8zM878 460h4v4h-4zM974 460h8v4h-8zM882 464h8v4h-8zM970 464h4v4h-4zM894 468h12v4h-12zM962 468h8v4h-8zM914 472h12v4h-12zM958 472h8v4h-8zM926 476h12v4h-12zM950 476h12v4h-12zM934 480h24v4h-24z"/>
<path fill="#22a1e4" d="M966 112h4v4h-4zM966 116h4v4h-4zM966 120h4v4h-4zM966 124h4v4h-4zM966 156h4v4h-4zM966 160h4v4h-4zM966 164h4v4h-4zM970 180h4v4h-4zM974 192h4v4h-4zM978 200h4v4h-4zM978 204h4v4h-4zM982 212h4v4h-4zM982 216h4v4h-4zM986 224h4v4h-4zM986 228h4v4h-4zM986 232h4v4h-4zM990 240h4v4h-4zM990 244h4v4h-4zM990 248h4v4h-4zM994 252h4v4h-4zM802 256h28v4h-28zM994 256h4v4h-4zM754 260h40v4h-40zM830 260h16v4h-16zM994 260h4v4h-4zM722 264h32v4h-32zM838 264h12v4h-12zM998 264h4v4h-4zM846 268h8v4h-8zM998 268h4v4h-4zM846 272h8v4h-8zM1002 272h4v4h-4zM846 276h8v4h-8zM1002 276h4v4h-4zM846 280h8v4h-8zM1006 280h4v4h-4zM846 284h8v4h-8zM1006 284h4v4h-4zM846 288h4v4h-4zM1006 288h8v4h-8zM842 292h8v4h-8zM1010 292h4v4h-4zM838 296h8v4h-8zM1010 296h4v4h-4zM834 300h8v4h-8zM1014 300h4v4h-4zM830 304h8v4h-8zM1014 304h4v4h-4zM826 308h4v4h-4zM1014 308h8v4h-8zM818 312h8v4h-8zM1018 312h4v4h-4zM814 316h4v4h-4zM1018 316h4v4h-4zM810 320h4v4h-4zM1018 320h8v4h-8zM806 324h4v4h-4zM1022 324h4v4h-4zM802 328h4v4h-4zM1022 328h8v4h-8zM798 332h4v4h-4zM1026 332h4v4h-4zM794 336h4v4h-4zM1026 336h8v4h-8zM790 340h4v4h-4zM1030 340h8v4h-8zM786 344h4v4h-4zM1030 344h8v4h-8zM1034 348h8v4h-8zM782 352h4v4h-4zM1034 352h12v4h-12zM778 356h4v4h-4zM1038 356h8v4h-8zM778 360h4v4h-4zM1038 360h12v4h-12zM774 364h4v4h-4zM1042 364h8v4h-8zM774 368h4v4h-4zM1042 368h12v4h-12zM1042 372h12v4h-12zM770 376h4v4h-4zM1042 376h12v4h-12zM770 380h4v4h-4zM1042 380h12v4h-12zM770 384h4v4h-4zM1042 384h8v4h-8zM770 388h8v4h-8zM1042 388h8v4h-8zM774 392h4v4h-4zM1038 392h8v4h-8zM774 396h8v4h-8zM1038 396h8v4h-8zM778 400h4v4h-4zM1034 400h8v4h-8zM782 404h8v4h-8zM1030 404h8v4h-8zM786 408h8v4h-8zM1030 408h4v4h-4zM794 412h8v4h-8zM1026 412h8v4h-8zM806 416h4v4h-4zM1022 416h8v4h-8zM814 420h8v4h-8zM1018 420h8v4h-8zM822 424h8v4h-8zM1014 424h8v4h-8zM834 428h8v4h-8zM1010 428h4v4h-4zM842 432h12v4h-12zM1006 432h4v4h-4zM850 436h12v4h-12zM998 436h8v4h-8zM858 440h8v4h-8zM994 440h8v4h-8zM862 444h8v4h-8zM990 444h8v4h-8zM870 448h4v4h-4zM982 448h8v4h-8zM874 452h4v4h-4zM978 452h8v4h-8zM878 456h4v4h-4zM970 456h8v4h-8zM882 460h8v4h-8zM966 460h8v4h-8zM890 464h8v4h-8zM962 464h8v4h-8zM906 468h20v4h-20zM954 468h8v4h-8zM926 472h32v4h-32zM938 476h12v4h-12z"/>
<path fill="#20a4e3" d="M966 100h4v4h-4zM966 104h4v4h-4zM966 108h4v4h-4zM966 168h4v4h-4zM966 172h4v4h-4zM970 184h4v4h-4zM970 188h4v4h-4zM974 196h4v4h-4zM974 200h4v4h-4zM978 208h4v4h-4zM978 212h4v4h-4zM982 220h4v4h-4zM982 224h4v4h-4zM982 228h4v4h-4zM986 236h4v4h-4zM986 240h4v4h-4zM986 244h4v4h-4zM814 252h12v4h-12zM990 252h4v4h-4zM746 256h56v4h-56zM830 256h20v4h-20zM990 256h4v4h-4zM726 260h28v4h-28zM846 260h12v4h-12zM850 264h8v4h-8zM994 264h4v4h-4zM854 268h8v4h-8zM994 268h4v4h-4zM854 272h8v4h-8zM998 272h4v4h-4zM854 276h8v4h-8zM998 276h4v4h-4zM854 280h8v4h-8zM1002 280h4v4h-4zM854 284h4v4h-4zM1002 284h4v4h-4zM850 288h8v4h-8zM1002 288h4v4h-4zM850 292h4v4h-4zM1006 292h4v4h-4zM846 296h4v4h-4zM1006 296h4v4h-4zM842 300h4v4h-4zM1006 300h8v4h-8zM838 304h4v4h-4zM1010 304h4v4h-4zM830 308h8v4h-8zM1010 308h4v4h-4zM826 312h4v4h-4zM1010 312h8v4h-8zM818 316h8v4h-8zM1014 316h4v4h-4zM814 320h8v4h-8zM1014 320h4v4h-4zM810 324h4v4h-4zM1014 324h8v4h-8zM806 328h4v4h-4zM1018 328h4v4h-4zM802 332h4v4h-4zM1018 332h8v4h-8zM798 336h4v4h-4zM1018 336h8v4h-8zM794 340h4v4h-4zM1022 340h8v4h-8zM790 344h4v4h-4zM1022 344h8v4h-8zM786 348h4v4h-4zM1026 348h8v4h-8zM786 352h4v4h-4zM1026 352h8v4h-8zM782 356h4v4h-4zM1030 356h8v4h-8zM1030 360h8v4h-8zM778 364h4v4h-4zM1030 364h12v4h-12zM778 368h4v4h-4zM1034 368h8v4h-8zM774 372h4v4h-4zM1034 372h8v4h-8zM774 376h4v4h-4zM1034 376h8v4h-8zM774 380h4v4h-4zM1034 380h8v4h-8zM774 384h4v4h-4zM1034 384h8v4h-8zM778 388h4v4h-4zM1030 388h12v4h-12zM778 392h4v4h-4zM1030 392h8v4h-8zM782 396h4v4h-4zM1030 396h8v4h-8zM782 400h8v4h-8zM1026 400h8v4h-8zM790 404h4v4h-4zM1026 404h4v4h-4zM794 408h8v4h-8zM1022 408h8v4h-8zM802 412h8v4h-8zM1018 412h8v4h-8zM810 416h8v4h-8zM1014 416h8v4h-8zM822 420h8v4h-8zM1010 420h8v4h-8zM830 424h12v4h-12zM1006 424h8v4h-8zM842 428h12v4h-12zM1002 428h8v4h-8zM854 432h12v4h-12zM998 432h8v4h-8zM862 436h8v4h-8zM990 436h8v4h-8zM866 440h8v4h-8zM986 440h8v4h-8zM870 444h8v4h-8zM982 444h8v4h-8zM874 448h8v4h-8zM974 448h8v4h-8zM878 452h8v4h-8zM970 452h8v4h-8zM882 456h8v4h-8zM962 456h8v4h-8zM890 460h8v4h-8zM958 460h8v4h-8zM898 464h28v4h-28zM946 464h16v4h-16zM926 468h28v4h-28z"/>
<path fill="#1ea7e1" d="M966 92h4v4h-4zM966 96h4v4h-4zM966 176h4v4h-4zM966 180h4v4h-4zM970 192h4v4h-4zM970 196h4v4h-4zM974 204h4v4h-4zM974 208h4v4h-4zM978 216h4v4h-4zM978 220h4v4h-4zM978 224h4v4h-4zM982 232h4v4h-4zM982 236h4v4h-4zM982 240h4v4h-4zM982 244h4v4h-4zM986 248h4v4h-4zM726 252h88v4h-88zM826 252h28v4h-28zM986 252h4v4h-4zM726 256h20v4h-20zM850 256h12v4h-12zM986 256h4v4h-4zM858 260h8v4h-8zM990 260h4v4h-4zM858 264h12v4h-12zM990 264h4v4h-4zM862 268h8v4h-8zM990 268h4v4h-4zM862 272h8v4h-8zM994 272h4v4h-4zM862 276h8v4h-8zM994 276h4v4h-4zM862 280h8v4h-8zM998 280h4v4h-4zM858 284h8v4h-8zM998 284h4v4h-4zM858 288h8v4h-8zM998 288h4v4h-4zM854 292h8v4h-8zM998 292h8v4h-8zM850 296h8v4h-8zM1002 296h4v4h-4zM846 300h8v4h-8zM1002 300h4v4h-4zM842 304h8v4h-8zM1002 304h8v4h-8zM838 308h8v4h-8zM1002 308h8v4h-8zM830 312h8v4h-8zM1006 312h4v4h-4zM826 316h8v4h-8zM1006 316h8v4h-8zM822 320h4v4h-4zM1006 320h8v4h-8zM814 324h4v4h-4zM1010 324h4v4h-4zM810 328h4v4h-4zM1010 328h8v4h-8zM806 332h4v4h-4zM1010 332h8v4h-8zM802 336h4v4h-4zM1014 336h4v4h-4zM798 340h4v4h-4zM1014 340h8v4h-8zM794 344h4v4h-4zM1014 344h8v4h-8zM790 348h4v4h-4zM1018 348h8v4h-8zM1018 352h8v4h-8zM786 356h4v4h-4zM1022 356h8v4h-8zM782 360h4v4h-4zM1022 360h8v4h-8zM782 364h4v4h-4zM1022 364h8v4h-8zM1022 368h12v4h-12zM778 372h4v4h-4zM1026 372h8v4h-8zM778 376h4v4h-4zM1026 376h8v4h-8zM778 380h4v4h-4zM1026 380h8v4h-8zM778 384h4v4h-4zM1022 384h12v4h-12zM782 388h4v4h-4zM1022 388h8v4h-8zM782 392h4v4h-4zM1022 392h8v4h-8zM786 396h4v4h-4zM1022 396h8v4h-8zM790 400h4v4h-4zM1018 400h8v4h-8zM794 404h4v4h-4zM1014 404h12v4h-12zM802 408h4v4h-4zM1014 408h8v4h-8zM810 412h4v4h-4zM1010 412h8v4h-8zM818 416h8v4h-8zM1006 416h8v4h-8zM830 420h8v4h-8zM1002 420h8v4h-8zM842 424h16v4h-16zM998 424h8v4h-8zM854 428h16v4h-16zM994 428h8v4h-8zM866 432h8v4h-8zM990 432h8v4h-8zM870 436h8v4h-8zM982 436h8v4h-8zM874 440h8v4h-8zM978 440h8v4h-8zM878 444h8v4h-8zM974 444h8v4h-8zM882 448h4v4h-4zM966 448h8v4h-8zM886 452h4v4h-4zM958 452h12v4h-12zM890 456h8v4h-8zM950 456h12v4h-12zM898 460h60v4h-60zM926 464h20v4h-20z"/>
<path fill="#1caadf" d="M962 120h4v4h-4zM962 124h4v4h-4zM962 128h4v4h-4zM962 132h4v4h-4zM962 136h4v4h-4zM962 140h4v4h-4zM962 144h4v4h-4zM962 148h4v4h-4zM962 152h4v4h-4zM962 156h4v4h-4zM962 160h4v4h-4zM962 164h4v4h-4zM966 184h4v4h-4zM966 188h4v4h-4zM970 200h4v4h-4zM970 204h4v4h-4zM974 212h4v4h-4zM974 216h4v4h-4zM974 220h4v4h-4zM974 224h4v4h-4zM978 228h4v4h-4zM978 232h4v4h-4zM978 236h4v4h-4zM978 240h4v4h-4zM978 244h4v4h-4zM730 248h136v4h-136zM982 248h4v4h-4zM854 252h20v4h-20zM982 252h4v4h-4zM862 256h16v4h-16zM982 256h4v4h-4zM866 260h12v4h-12zM986 260h4v4h-4zM870 264h8v4h-8zM986 264h4v4h-4zM870 268h8v4h-8zM986 268h4v4h-4zM870 272h8v4h-8zM990 272h4v4h-4zM870 276h8v4h-8zM990 276h4v4h-4zM870 280h4v4h-4zM990 280h8v4h-8zM866 284h8v4h-8zM994 284h4v4h-4zM866 288h4v4h-4zM994 288h4v4h-4zM862 292h8v4h-8zM994 292h4v4h-4zM858 296h8v4h-8zM994 296h8v4h-8zM854 300h8v4h-8zM998 300h4v4h-4zM850 304h8v4h-8zM998 304h4v4h-4zM846 308h4v4h-4zM998 308h4v4h-4zM838 312h8v4h-8zM998 312h8v4h-8zM834 316h4v4h-4zM1002 316h4v4h-4zM826 320h8v4h-8zM1002 320h4v4h-4zM818 324h8v4h-8zM1002 324h8v4h-8zM814 328h4v4h-4zM1002 328h8v4h-8zM810 332h4v4h-4zM1006 332h4v4h-4zM806 336h4v4h-4zM1006 336h8v4h-8zM802 340h4v4h-4zM1006 340h8v4h-8zM798 344h4v4h-4zM1010 344h4v4h-4zM794 348h4v4h-4zM1010 348h8v4h-8zM790 352h4v4h-4zM1010 352h8v4h-8zM790 356h4v4h-4zM1010 356h12v4h-12zM786 360h4v4h-4zM1014 360h8v4h-8zM786 364h4v4h-4zM1014 364h8v4h-8zM782 368h4v4h-4zM1014 368h8v4h-8zM782 372h4v4h-4zM1014 372h12v4h-12zM782 376h4v4h-4zM1014 376h12v4h-12zM782 380h4v4h-4zM1014 380h12v4h-12zM782 384h4v4h-4zM1014 384h8v4h-8zM786 388h4v4h-4zM1014 388h8v4h-8zM786 392h4v4h-4zM1014 392h8v4h-8zM790 396h4v4h-4zM1010 396h12v4h-12zM794 400h4v4h-4zM1010 400h8v4h-8zM798 404h8v4h-8zM1006 404h8v4h-8zM806 408h8v4h-8zM1006 408h8v4h-8zM814 412h8v4h-8zM1002 412h8v4h-8zM826 416h12v4h-12zM998 416h8v4h-8zM838 420h20v4h-20zM994 420h8v4h-8zM858 424h16v4h-16zM990 424h8v4h-8zM870 428h8v4h-8zM986 428h8v4h-8zM874 432h8v4h-8zM978 432h12v4h-12zM878 436h8v4h-8zM974 436h8v4h-8zM882 440h4v4h-4zM966 440h12v4h-12zM886 444h4v4h-4zM962 444h12v4h-12zM886 448h8v4h-8zM954 448h12v4h-12zM890 452h12v4h-12zM946 452h12v4h-12zM898 456h52v4h-52z"/>
<path fill="#19addc" d="M962 92h4v4h-4zM962 96h4v4h-4zM962 100h4v4h-4zM962 104h4v4h-4zM962 108h4v4h-4zM962 112h4v4h-4zM962 116h4v4h-4zM962 168h4v4h-4zM962 172h4v4h-4zM962 176h4v4h-4zM966 192h4v4h-4zM966 196h4v4h-4zM966 200h4v4h-4zM970 208h4v4h-4zM970 212h4v4h-4zM970 216h4v4h-4zM970 220h4v4h-4zM974 228h4v4h-4zM974 232h4v4h-4zM974 236h4v4h-4zM730 240h8v4h-8zM974 240h4v4h-4zM730 244h56v4h-56zM802 244h76v4h-76zM866 248h16v4h-16zM978 248h4v4h-4zM874 252h12v4h-12zM978 252h4v4h-4zM878 256h8v4h-8zM978 256h4v4h-4zM878 260h12v4h-12zM978 260h8v4h-8zM878 264h12v4h-12zM982 264h4v4h-4zM878 268h8v4h-8zM982 268h4v4h-4zM878 272h8v4h-8zM982 272h8v4h-8zM878 276h8v4h-8zM986 276h4v4h-4zM874 280h8v4h-8zM986 280h4v4h-4zM874 284h8v4h-8zM986 284h8v4h-8zM870 288h8v4h-8zM986 288h8v4h-8zM870 292h4v4h-4zM990 292h4v4h-4zM866 296h8v4h-8zM990 296h4v4h-4zM862 300h8v4h-8zM990 300h8v4h-8zM858 304h4v4h-4zM990 304h8v4h-8zM850 308h8v4h-8zM990 308h8v4h-8zM846 312h8v4h-8zM994 312h4v4h-4zM838 316h8v4h-8zM994 316h8v4h-8zM834 320h4v4h-4zM994 320h8v4h-8zM826 324h4v4h-4zM994 324h8v4h-8zM818 328h8v4h-8zM998 328h4v4h-4zM814 332h4v4h-4zM998 332h8v4h-8zM810 336h4v4h-4zM998 336h8v4h-8zM806 340h4v4h-4zM998 340h8v4h-8zM802 344h4v4h-4zM1002 344h8v4h-8zM798 348h4v4h-4zM1002 348h8v4h-8zM794 352h4v4h-4zM1002 352h8v4h-8zM1002 356h8v4h-8zM790 360h4v4h-4zM1006 360h8v4h-8zM1006 364h8v4h-8zM786 368h4v4h-4zM1006 368h8v4h-8zM786 372h4v4h-4zM1006 372h8v4h-8zM786 376h4v4h-4zM1006 376h8v4h-8zM786 380h4v4h-4zM1006 380h8v4h-8zM786 384h4v4h-4zM1006 384h8v4h-8zM790 388h4v4h-4zM1006 388h8v4h-8zM790 392h4v4h-4zM1002 392h12v4h-12zM794 396h4v4h-4zM1002 396h8v4h-8zM798 400h4v4h-4zM1002 400h8v4h-8zM806 404h4v4h-4zM998 404h8v4h-8zM814 408h4v4h-4zM994 408h12v4h-12zM822 412h12v4h-12zM990 412h12v4h-12zM838 416h20v4h-20zM990 416h8v4h-8zM858 420h20v4h-20zM986 420h8v4h-8zM874 424h8v4h-8zM978 424h12v4h-12zM878 428h8v4h-8zM974 428h12v4h-12zM882 432h8v4h-8zM970 432h8v4h-8zM886 436h8v4h-8zM962 436h12v4h-12zM886 440h8v4h-8zM958 440h8v4h-8zM890 444h12v4h-12zM950 444h12v4h-12zM894 448h16v4h-16zM934 448h20v4h-20zM902 452h44v4h-44z"/>
<path fill="#15afd9" d="M962 180h4v4h-4zM962 184h4v4h-4zM962 188h4v4h-4zM962 192h4v4h-4zM966 204h4v4h-4zM966 208h4v4h-4zM966 212h4v4h-4zM966 216h4v4h-4zM970 224h4v4h-4zM970 228h4v4h-4zM970 232h4v4h-4zM734 236h8v4h-8zM970 236h4v4h-4zM738 240h36v4h-36zM822 240h64v4h-64zM970 240h4v4h-4zM786 244h16v4h-16zM878 244h12v4h-12zM970 244h8v4h-8zM882 248h12v4h-12zM974 248h4v4h-4zM886 252h12v4h-12zM974 252h4v4h-4zM886 256h12v4h-12zM974 256h4v4h-4zM890 260h8v4h-8zM974 260h4v4h-4zM890 264h8v4h-8zM974 264h8v4h-8zM886 268h12v4h-12zM978 268h4v4h-4zM886 272h8v4h-8zM978 272h4v4h-4zM886 276h8v4h-8zM978 276h8v4h-8zM882 280h12v4h-12zM978 280h8v4h-8zM882 284h8v4h-8zM982 284h4v4h-4zM878 288h8v4h-8zM982 288h4v4h-4zM874 292h8v4h-8zM982 292h8v4h-8zM874 296h8v4h-8zM982 296h8v4h-8zM870 300h4v4h-4zM982 300h8v4h-8zM862 304h8v4h-8zM986 304h4v4h-4zM858 308h8v4h-8zM986 308h4v4h-4zM854 312h8v4h-8zM986 312h8v4h-8zM846 316h8v4h-8zM986 316h8v4h-8zM838 320h8v4h-8zM986 320h8v4h-8zM830 324h8v4h-8zM986 324h8v4h-8zM826 328h4v4h-4zM990 328h8v4h-8zM818 332h8v4h-8zM990 332h8v4h-8zM814 336h4v4h-4zM990 336h8v4h-8zM810 340h4v4h-4zM990 340h8v4h-8zM806 344h4v4h-4zM994 344h8v4h-8zM802 348h4v4h-4zM994 348h8v4h-8zM798 352h4v4h-4zM994 352h8v4h-8zM794 356h4v4h-4zM994 356h8v4h-8zM794 360h4v4h-4zM994 360h12v4h-12zM790 364h4v4h-4zM998 364h8v4h-8zM790 368h4v4h-4zM998 368h8v4h-8zM790 372h4v4h-4zM998 372h8v4h-8zM790 376h4v4h-4zM998 376h8v4h-8zM790 380h4v4h-4zM998 380h8v4h-8zM790 384h4v4h-4zM998 384h8v4h-8zM994 388h12v4h-12zM794 392h4v4h-4zM994 392h8v4h-8zM798 396h4v4h-4zM994 396h8v4h-8zM802 400h8v4h-8zM990 400h12v4h-12zM810 404h8v4h-8zM990 404h8v4h-8zM818 408h8v4h-8zM986 408h8v4h-8zM834 412h20v4h-20zM982 412h8v4h-8zM858 416h24v4h-24zM978 416h12v4h-12zM878 420h8v4h-8zM974 420h12v4h-12zM882 424h8v4h-8zM970 424h8v4h-8zM886 428h8v4h-8zM962 428h12v4h-12zM890 432h8v4h-8zM958 432h12v4h-12zM894 436h8v4h-8zM950 436h12v4h-12zM894 440h12v4h-12zM938 440h20v4h-20zM902 444h48v4h-48zM910 448h24v4h-24z"/>
<path fill="#10b2d5" d="M962 196h4v4h-4zM962 200h4v4h-4zM962 204h4v4h-4zM962 208h4v4h-4zM962 212h4v4h-4zM962 216h4v4h-4zM966 220h4v4h-4zM966 224h4v4h-4zM966 228h4v4h-4zM734 232h16v4h-16zM870 232h16v4h-16zM966 232h4v4h-4zM742 236h28v4h-28zM838 236h56v4h-56zM966 236h4v4h-4zM774 240h48v4h-48zM886 240h12v4h-12zM966 240h4v4h-4zM890 244h12v4h-12zM966 244h4v4h-4zM894 248h12v4h-12zM966 248h8v4h-8zM898 252h8v4h-8zM966 252h8v4h-8zM898 256h8v4h-8zM970 256h4v4h-4zM898 260h8v4h-8zM970 260h4v4h-4zM898 264h8v4h-8zM970 264h4v4h-4zM898 268h8v4h-8zM970 268h8v4h-8zM894 272h12v4h-12zM970 272h8v4h-8zM894 276h8v4h-8zM970 276h8v4h-8zM894 280h8v4h-8zM974 280h4v4h-4zM890 284h8v4h-8zM974 284h8v4h-8zM886 288h8v4h-8zM974 288h8v4h-8zM882 292h12v4h-12zM974 292h8v4h-8zM882 296h8v4h-8zM974 296h8v4h-8zM874 300h12v4h-12zM974 300h8v4h-8zM870 304h8v4h-8zM974 304h12v4h-12zM866 308h8v4h-8zM978 308h8v4h-8zM862 312h8v4h-8zM978 312h8v4h-8zM854 316h8v4h-8zM978 316h8v4h-8zM846 320h8v4h-8zM978 320h8v4h-8zM838 324h8v4h-8zM978 324h8v4h-8zM830 328h8v4h-8zM982 328h8v4h-8zM826 332h4v4h-4zM982 332h8v4h-8zM818 336h4v4h-4zM982 336h8v4h-8zM814 340h4v4h-4zM982 340h8v4h-8zM810 344h4v4h-4zM986 344h8v4h-8zM986 348h8v4h-8zM802 352h4v4h-4zM986 352h8v4h-8zM798 356h4v4h-4zM986 356h8v4h-8zM986 360h8v4h-8zM794 364h4v4h-4zM986 364h12v4h-12zM990 368h8v4h-8zM990 372h8v4h-8zM990 376h8v4h-8zM986 380h12v4h-12zM794 384h4v4h-4zM986 384h12v4h-12zM794 388h4v4h-4zM986 388h8v4h-8zM798 392h4v4h-4zM986 392h8v4h-8zM802 396h4v4h-4zM982 396h12v4h-12zM810 400h4v4h-4zM982 400h8v4h-8zM818 404h4v4h-4zM978 404h12v4h-12zM826 408h16v4h-16zM974 408h12v4h-12zM854 412h28v4h-28zM970 412h12v4h-12zM882 416h8v4h-8zM966 416h12v4h-12zM886 420h8v4h-8zM962 420h12v4h-12zM890 424h8v4h-8zM954 424h16v4h-16zM894 428h8v4h-8zM950 428h12v4h-12zM898 432h12v4h-12zM942 432h16v4h-16zM902 436h48v4h-48zM906 440h32v4h-32z"/>
<path fill="#09b4d1" d="M958 92h4v4h-4zM958 96h4v4h-4zM958 100h4v4h-4zM958 104h4v4h-4zM958 108h4v4h-4zM958 112h4v4h-4zM958 116h4v4h-4zM958 120h4v4h-4zM958 124h4v4h-4zM958 128h4v4h-4zM958 132h4v4h-4zM958 136h4v4h-4zM958 140h4v4h-4zM958 144h4v4h-4zM958 148h4v4h-4zM958 152h4v4h-4zM958 156h4v4h-4zM958 160h4v4h-4zM958 164h4v4h-4zM958 168h4v4h-4zM958 172h4v4h-4zM958 176h4v4h-4zM958 180h4v4h-4zM958 184h4v4h-4zM958 188h4v4h-4zM958 192h4v4h-4zM958 196h4v4h-4zM958 200h4v4h-4zM958 204h4v4h-4zM958 208h4v4h-4zM958 212h4v4h-4zM958 216h4v4h-4zM962 220h4v4h-4zM738 224h4v4h-4zM962 224h4v4h-4zM738 228h16v4h-16zM870 228h24v4h-24zM962 228h4v4h-4zM750 232h20v4h-20zM846 232h24v4h-24zM886 232h16v4h-16zM962 232h4v4h-4zM770 236h68v4h-68zM894 236h12v4h-12zM962 236h4v4h-4zM898 240h12v4h-12zM962 240h4v4h-4zM902 244h12v4h-12zM962 244h4v4h-4zM906 248h8v4h-8zM962 248h4v4h-4zM906 252h8v4h-8zM962 252h4v4h-4zM906 256h12v4h-12zM962 256h8v4h-8zM906 260h12v4h-12zM962 260h8v4h-8zM906 264h12v4h-12zM962 264h8v4h-8zM906 268h12v4h-12zM962 268h8v4h-8zM906 272h8v4h-8zM962 272h8v4h-8zM902 276h12v4h-12zM962 276h8v4h-8zM902 280h12v4h-12zM962 280h12v4h-12zM898 284h12v4h-12zM962 284h12v4h-12zM894 288h12v4h-12zM962 288h12v4h-12zM894 292h8v4h-8zM966 292h8v4h-8zM890 296h8v4h-8zM966 296h8v4h-8zM886 300h8v4h-8zM966 300h8v4h-8zM878 304h12v4h-12zM966 304h8v4h-8zM874 308h8v4h-8zM966 308h12v4h-12zM870 312h8v4h-8zM966 312h12v4h-12zM862 316h8v4h-8zM970 316h8v4h-8zM854 320h8v4h-8zM970 320h8v4h-8zM846 324h12v4h-12zM970 324h8v4h-8zM838 328h8v4h-8zM970 328h12v4h-12zM830 332h8v4h-8zM974 332h8v4h-8zM822 336h8v4h-8zM974 336h8v4h-8zM818 340h4v4h-4zM974 340h8v4h-8zM814 344h4v4h-4zM978 344h8v4h-8zM806 348h4v4h-4zM978 348h8v4h-8zM978 352h8v4h-8zM802 356h4v4h-4zM978 356h8v4h-8zM798 360h4v4h-4zM978 360h8v4h-8zM798 364h4v4h-4zM978 364h8v4h-8zM794 368h4v4h-4zM978 368h12v4h-12zM794 372h4v4h-4zM978 372h12v4h-12zM794 376h4v4h-4zM978 376h12v4h-12zM794 380h4v4h-4zM978 380h8v4h-8zM798 384h4v4h-4zM978 384h8v4h-8zM798 388h4v4h-4zM978 388h8v4h-8zM802 392h4v4h-4zM974 392h12v4h-12zM806 396h4v4h-4zM974 396h8v4h-8zM814 400h4v4h-4zM970 400h12v4h-12zM822 404h12v4h-12zM966 404h12v4h-12zM842 408h40v4h-40zM962 408h12v4h-12zM882 412h8v4h-8zM958 412h12v4h-12zM890 416h8v4h-8zM954 416h12v4h-12zM894 420h8v4h-8zM946 420h16v4h-16zM898 424h12v4h-12zM938 424h16v4h-16zM902 428h48v4h-48zM910 432h32v4h-32z"/>
<path fill="#04b6cd" d="M954 200h4v4h-4zM954 204h4v4h-4zM954 208h4v4h-4zM954 212h4v4h-4zM954 216h4v4h-4zM742 220h4v4h-4zM954 220h8v4h-8zM742 224h16v4h-16zM870 224h32v4h-32zM958 224h4v4h-4zM754 228h16v4h-16zM850 228h20v4h-20zM894 228h16v4h-16zM958 228h4v4h-4zM770 232h20v4h-20zM822 232h24v4h-24zM902 232h12v4h-12zM958 232h4v4h-4zM906 236h12v4h-12zM958 236h4v4h-4zM910 240h12v4h-12zM954 240h8v4h-8zM914 244h8v4h-8zM954 244h8v4h-8zM914 248h12v4h-12zM954 248h8v4h-8zM914 252h16v4h-16zM954 252h8v4h-8zM918 256h12v4h-12zM950 256h12v4h-12zM918 260h16v4h-16zM950 260h12v4h-12zM918 264h16v4h-16zM946 264h16v4h-16zM918 268h16v4h-16zM946 268h16v4h-16zM914 272h20v4h-20zM946 272h16v4h-16zM914 276h20v4h-20zM942 276h20v4h-20zM914 280h20v4h-20zM946 280h16v4h-16zM910 284h20v4h-20zM946 284h16v4h-16zM906 288h16v4h-16zM946 288h16v4h-16zM902 292h16v4h-16zM950 292h16v4h-16zM898 296h16v4h-16zM950 296h16v4h-16zM894 300h12v4h-12zM950 300h16v4h-16zM890 304h12v4h-12zM954 304h12v4h-12zM882 308h12v4h-12zM954 308h12v4h-12zM878 312h8v4h-8zM954 312h12v4h-12zM870 316h12v4h-12zM958 316h12v4h-12zM862 320h12v4h-12zM958 320h12v4h-12zM858 324h8v4h-8zM958 324h12v4h-12zM846 328h12v4h-12zM962 328h8v4h-8zM838 332h8v4h-8zM962 332h12v4h-12zM830 336h8v4h-8zM966 336h8v4h-8zM822 340h8v4h-8zM966 340h8v4h-8zM818 344h4v4h-4zM966 344h12v4h-12zM810 348h8v4h-8zM970 348h8v4h-8zM806 352h4v4h-4zM970 352h8v4h-8zM970 356h8v4h-8zM802 360h4v4h-4zM970 360h8v4h-8zM970 364h8v4h-8zM798 368h4v4h-4zM970 368h8v4h-8zM798 372h4v4h-4zM970 372h8v4h-8zM798 376h4v4h-4zM970 376h8v4h-8zM798 380h4v4h-4zM970 380h8v4h-8zM970 384h8v4h-8zM802 388h4v4h-4zM966 388h12v4h-12zM806 392h4v4h-4zM966 392h8v4h-8zM810 396h8v4h-8zM962 396h12v4h-12zM818 400h12v4h-12zM962 400h8v4h-8zM834 404h48v4h-48zM958 404h8v4h-8zM882 408h12v4h-12zM950 408h12v4h-12zM890 412h8v4h-8zM946 412h12v4h-12zM898 416h8v4h-8zM938 416h16v4h-16zM902 420h44v4h-44zM910 424h28v4h-28z"/>
<path fill="#01b8c9" d="M954 172h4v4h-4zM954 176h4v4h-4zM954 180h4v4h-4zM954 184h4v4h-4zM954 188h4v4h-4zM954 192h4v4h-4zM954 196h4v4h-4zM950 208h4v4h-4zM950 212h4v4h-4zM742 216h8v4h-8zM950 216h4v4h-4zM746 220h12v4h-12zM874 220h32v4h-32zM950 220h4v4h-4zM758 224h12v4h-12zM854 224h16v4h-16zM902 224h12v4h-12zM950 224h8v4h-8zM770 228h16v4h-16zM834 228h16v4h-16zM910 228h12v4h-12zM950 228h8v4h-8zM790 232h32v4h-32zM914 232h12v4h-12zM950 232h8v4h-8zM918 236h16v4h-16zM946 236h12v4h-12zM922 240h32v4h-32zM922 244h32v4h-32zM926 248h28v4h-28zM930 252h24v4h-24zM930 256h20v4h-20zM934 260h16v4h-16zM934 264h12v4h-12zM934 268h12v4h-12zM934 272h12v4h-12zM934 276h8v4h-8zM934 280h12v4h-12zM930 284h16v4h-16zM922 288h24v4h-24zM918 292h32v4h-32zM914 296h36v4h-36zM906 300h44v4h-44zM902 304h52v4h-52zM894 308h16v4h-16zM934 308h20v4h-20zM886 312h16v4h-16zM938 312h16v4h-16zM882 316h12v4h-12zM942 316h16v4h-16zM874 320h12v4h-12zM946 320h12v4h-12zM866 324h12v4h-12zM946 324h12v4h-12zM858 328h8v4h-8zM950 328h12v4h-12zM846 332h12v4h-12zM954 332h8v4h-8zM838 336h8v4h-8zM954 336h12v4h-12zM830 340h8v4h-8zM958 340h8v4h-8zM822 344h4v4h-4zM958 344h8v4h-8zM818 348h4v4h-4zM962 348h8v4h-8zM810 352h4v4h-4zM962 352h8v4h-8zM806 356h4v4h-4zM962 356h8v4h-8zM806 360h4v4h-4zM962 360h8v4h-8zM802 364h4v4h-4zM962 364h8v4h-8zM802 368h4v4h-4zM962 368h8v4h-8zM802 372h4v4h-4zM962 372h8v4h-8zM802 376h4v4h-4zM962 376h8v4h-8zM802 380h4v4h-4zM962 380h8v4h-8zM802 384h4v4h-4zM962 384h8v4h-8zM806 388h4v4h-4zM958 388h8v4h-8zM810 392h4v4h-4zM958 392h8v4h-8zM818 396h8v4h-8zM954 396h8v4h-8zM830 400h52v4h-52zM950 400h12v4h-12zM882 404h12v4h-12zM942 404h16v4h-16zM894 408h12v4h-12zM938 408h12v4h-12zM898 412h48v4h-48zM906 416h32v4h-32z"/>
<path fill="#02bac4" d="M954 92h4v4h-4zM954 96h4v4h-4zM954 100h4v4h-4zM954 104h4v4h-4zM954 108h4v4h-4zM954 112h4v4h-4zM954 116h4v4h-4zM954 120h4v4h-4zM954 124h4v4h-4zM954 128h4v4h-4zM954 132h4v4h-4zM954 136h4v4h-4zM954 140h4v4h-4zM954 144h4v4h-4zM954 148h4v4h-4zM954 152h4v4h-4zM954 156h4v4h-4zM954 160h4v4h-4zM954 164h4v4h-4zM954 168h4v4h-4zM950 192h4v4h-4zM950 196h4v4h-4zM950 200h4v4h-4zM950 204h4v4h-4zM746 208h4v4h-4zM946 208h4v4h-4zM746 212h8v4h-8zM946 212h4v4h-4zM750 216h12v4h-12zM878 216h32v4h-32zM942 216h8v4h-8zM758 220h12v4h-12zM862 220h12v4h-12zM906 220h16v4h-16zM938 220h12v4h-12zM770 224h12v4h-12zM842 224h12v4h-12zM914 224h36v4h-36zM786 228h48v4h-48zM922 228h28v4h-28zM926 232h24v4h-24zM934 236h12v4h-12zM910 308h24v4h-24zM902 312h36v4h-36zM894 316h48v4h-48zM886 320h12v4h-12zM930 320h16v4h-16zM878 324h12v4h-12zM934 324h12v4h-12zM866 328h12v4h-12zM938 328h12v4h-12zM858 332h12v4h-12zM942 332h12v4h-12zM846 336h12v4h-12zM946 336h8v4h-8zM838 340h8v4h-8zM946 340h12v4h-12zM826 344h12v4h-12zM950 344h8v4h-8zM822 348h4v4h-4zM950 348h12v4h-12zM814 352h8v4h-8zM954 352h8v4h-8zM810 356h4v4h-4zM954 356h8v4h-8zM810 360h4v4h-4zM954 360h8v4h-8zM806 364h4v4h-4zM954 364h8v4h-8zM954 368h8v4h-8zM954 372h8v4h-8zM954 376h8v4h-8zM806 380h4v4h-4zM954 380h8v4h-8zM806 384h4v4h-4zM950 384h12v4h-12zM810 388h4v4h-4zM950 388h8v4h-8zM814 392h8v4h-8zM946 392h12v4h-12zM826 396h60v4h-60zM942 396h12v4h-12zM882 400h16v4h-16zM934 400h16v4h-16zM894 404h16v4h-16zM926 404h16v4h-16zM906 408h32v4h-32z"/>
<path fill="#06bcc0" d="M950 180h4v4h-4zM950 184h4v4h-4zM950 188h4v4h-4zM946 196h4v4h-4zM946 200h4v4h-4zM750 204h4v4h-4zM942 204h8v4h-8zM750 208h8v4h-8zM942 208h4v4h-4zM754 212h12v4h-12zM882 212h28v4h-28zM938 212h8v4h-8zM762 216h12v4h-12zM866 216h12v4h-12zM910 216h32v4h-32zM770 220h12v4h-12zM850 220h12v4h-12zM922 220h16v4h-16zM782 224h12v4h-12zM822 224h20v4h-20zM898 320h32v4h-32zM890 324h44v4h-44zM878 328h20v4h-20zM922 328h16v4h-16zM870 332h16v4h-16zM930 332h12v4h-12zM858 336h16v4h-16zM934 336h12v4h-12zM846 340h16v4h-16zM938 340h8v4h-8zM838 344h12v4h-12zM942 344h8v4h-8zM826 348h12v4h-12zM942 348h8v4h-8zM822 352h4v4h-4zM946 352h8v4h-8zM814 356h8v4h-8zM946 356h8v4h-8zM814 360h4v4h-4zM946 360h8v4h-8zM810 364h4v4h-4zM946 364h8v4h-8zM806 368h4v4h-4zM946 368h8v4h-8zM806 372h4v4h-4zM946 372h8v4h-8zM806 376h4v4h-4zM946 376h8v4h-8zM942 380h12v4h-12zM810 384h4v4h-4zM942 384h8v4h-8zM814 388h8v4h-8zM938 388h12v4h-12zM822 392h64v4h-64zM934 392h12v4h-12zM886 396h16v4h-16zM926 396h16v4h-16zM898 400h36v4h-36zM910 404h16v4h-16z"/>
<path fill="#0dbdbb" d="M950 92h4v4h-4zM950 172h4v4h-4zM950 176h4v4h-4zM946 188h4v4h-4zM946 192h4v4h-4zM750 200h8v4h-8zM942 200h4v4h-4zM754 204h8v4h-8zM938 204h4v4h-4zM758 208h12v4h-12zM886 208h24v4h-24zM934 208h8v4h-8zM766 212h8v4h-8zM870 212h12v4h-12zM910 212h28v4h-28zM774 216h8v4h-8zM854 216h12v4h-12zM782 220h12v4h-12zM834 220h16v4h-16zM794 224h28v4h-28zM898 328h24v4h-24zM886 332h44v4h-44zM874 336h20v4h-20zM918 336h16v4h-16zM862 340h20v4h-20zM926 340h12v4h-12zM850 344h20v4h-20zM930 344h12v4h-12zM838 348h16v4h-16zM934 348h8v4h-8zM826 352h12v4h-12zM934 352h12v4h-12zM822 356h4v4h-4zM938 356h8v4h-8zM818 360h4v4h-4zM938 360h8v4h-8zM814 364h4v4h-4zM938 364h8v4h-8zM810 368h4v4h-4zM938 368h8v4h-8zM810 372h4v4h-4zM938 372h8v4h-8zM810 376h4v4h-4zM934 376h12v4h-12zM810 380h4v4h-4zM934 380h8v4h-8zM814 384h4v4h-4zM930 384h12v4h-12zM822 388h72v4h-72zM926 388h12v4h-12zM886 392h48v4h-48zM902 396h24v4h-24z"/>
<path fill="#16bfb7" d="M950 96h4v4h-4zM950 100h4v4h-4zM950 104h4v4h-4zM950 108h4v4h-4zM950 112h4v4h-4zM950 160h4v4h-4zM950 164h4v4h-4zM950 168h4v4h-4zM946 184h4v4h-4zM758 192h4v4h-4zM942 192h4v4h-4zM754 196h8v4h-8zM942 196h4v4h-4zM758 200h8v4h-8zM938 200h4v4h-4zM762 204h12v4h-12zM894 204h8v4h-8zM930 204h8v4h-8zM770 208h8v4h-8zM874 208h12v4h-12zM910 208h24v4h-24zM774 212h8v4h-8zM862 212h8v4h-8zM782 216h8v4h-8zM842 216h12v4h-12zM794 220h40v4h-40zM894 336h24v4h-24zM882 340h44v4h-44zM870 344h20v4h-20zM914 344h16v4h-16zM854 348h24v4h-24zM922 348h12v4h-12zM838 352h28v4h-28zM926 352h8v4h-8zM826 356h16v4h-16zM926 356h12v4h-12zM822 360h8v4h-8zM930 360h8v4h-8zM818 364h4v4h-4zM930 364h8v4h-8zM814 368h4v4h-4zM930 368h8v4h-8zM814 372h4v4h-4zM926 372h12v4h-12zM814 376h4v4h-4zM926 376h8v4h-8zM814 380h8v4h-8zM854 380h32v4h-32zM922 380h12v4h-12zM818 384h84v4h-84zM914 384h16v4h-16zM894 388h32v4h-32z"/>
<path fill="#1ec0b2" d="M950 116h4v4h-4zM950 120h4v4h-4zM950 124h4v4h-4zM950 128h4v4h-4zM950 132h4v4h-4zM950 136h4v4h-4zM950 140h4v4h-4zM950 144h4v4h-4zM950 148h4v4h-4zM950 152h4v4h-4zM950 156h4v4h-4zM946 176h4v4h-4zM946 180h4v4h-4zM758 188h8v4h-8zM942 188h4v4h-4zM762 192h8v4h-8zM762 196h8v4h-8zM938 196h4v4h-4zM766 200h8v4h-8zM930 200h8v4h-8zM774 204h4v4h-4zM882 204h12v4h-12zM902 204h28v4h-28zM778 208h8v4h-8zM866 208h8v4h-8zM782 212h8v4h-8zM850 212h12v4h-12zM790 216h12v4h-12zM822 216h20v4h-20zM890 344h24v4h-24zM878 348h44v4h-44zM866 352h60v4h-60zM842 356h48v4h-48zM914 356h12v4h-12zM830 360h52v4h-52zM918 360h12v4h-12zM822 364h60v4h-60zM918 364h12v4h-12zM818 368h12v4h-12zM846 368h36v4h-36zM918 368h12v4h-12zM818 372h8v4h-8zM846 372h44v4h-44zM914 372h12v4h-12zM818 376h8v4h-8zM838 376h64v4h-64zM910 376h16v4h-16zM822 380h32v4h-32zM886 380h36v4h-36zM902 384h12v4h-12z"/>
<path fill="#25c2ad" d="M946 92h4v4h-4zM946 96h4v4h-4zM946 100h4v4h-4zM946 168h4v4h-4zM946 172h4v4h-4zM762 184h8v4h-8zM942 184h4v4h-4zM766 188h8v4h-8zM938 188h4v4h-4zM770 192h4v4h-4zM938 192h4v4h-4zM770 196h8v4h-8zM930 196h8v4h-8zM774 200h8v4h-8zM890 200h40v4h-40zM778 204h8v4h-8zM874 204h8v4h-8zM786 208h8v4h-8zM858 208h8v4h-8zM790 212h12v4h-12zM834 212h16v4h-16zM802 216h20v4h-20zM890 356h24v4h-24zM882 360h36v4h-36zM882 364h36v4h-36zM830 368h16v4h-16zM882 368h36v4h-36zM826 372h20v4h-20zM890 372h24v4h-24zM826 376h12v4h-12zM902 376h8v4h-8z"/>
<path fill="#2ac3a8" d="M946 104h4v4h-4zM946 108h4v4h-4zM946 164h4v4h-4zM766 180h8v4h-8zM942 180h4v4h-4zM770 184h8v4h-8zM774 188h4v4h-4zM774 192h8v4h-8zM934 192h4v4h-4zM778 196h8v4h-8zM926 196h4v4h-4zM782 200h8v4h-8zM882 200h8v4h-8zM786 204h8v4h-8zM866 204h8v4h-8zM794 208h8v4h-8zM846 208h12v4h-12zM802 212h32v4h-32z"/>
<path fill="#2fc5a3" d="M942 92h4v4h-4zM942 96h4v4h-4zM946 112h4v4h-4zM946 116h4v4h-4zM946 120h4v4h-4zM946 124h4v4h-4zM946 152h4v4h-4zM946 156h4v4h-4zM946 160h4v4h-4zM770 172h4v4h-4zM942 172h4v4h-4zM770 176h8v4h-8zM942 176h4v4h-4zM774 180h4v4h-4zM778 184h4v4h-4zM938 184h4v4h-4zM778 188h8v4h-8zM934 188h4v4h-4zM782 192h4v4h-4zM930 192h4v4h-4zM786 196h4v4h-4zM886 196h40v4h-40zM790 200h4v4h-4zM874 200h8v4h-8zM794 204h8v4h-8zM858 204h8v4h-8zM802 208h44v4h-44z"/>
<path fill="#32c69e" d="M942 100h4v4h-4zM946 128h4v4h-4zM946 132h4v4h-4zM946 136h4v4h-4zM946 140h4v4h-4zM946 144h4v4h-4zM946 148h4v4h-4zM774 168h4v4h-4zM942 168h4v4h-4zM774 172h8v4h-8zM778 176h4v4h-4zM778 180h8v4h-8zM938 180h4v4h-4zM782 184h4v4h-4zM934 184h4v4h-4zM786 188h4v4h-4zM930 188h4v4h-4zM786 192h8v4h-8zM922 192h8v4h-8zM790 196h8v4h-8zM882 196h4v4h-4zM794 200h8v4h-8zM866 200h8v4h-8zM802 204h12v4h-12zM842 204h16v4h-16z"/>
<path fill="#36c899" d="M938 92h4v4h-4zM942 104h4v4h-4zM942 108h4v4h-4zM778 164h4v4h-4zM942 164h4v4h-4zM778 168h4v4h-4zM782 172h4v4h-4zM782 176h4v4h-4zM938 176h4v4h-4zM786 180h4v4h-4zM934 180h4v4h-4zM786 184h8v4h-8zM790 188h4v4h-4zM926 188h4v4h-4zM794 192h4v4h-4zM890 192h32v4h-32zM798 196h8v4h-8zM874 196h8v4h-8zM802 200h12v4h-12zM858 200h8v4h-8zM814 204h28v4h-28z"/>
<path fill="#3bc993" d="M938 96h4v4h-4zM942 112h4v4h-4zM942 116h4v4h-4zM942 156h4v4h-4zM942 160h4v4h-4zM782 164h4v4h-4zM782 168h4v4h-4zM786 172h4v4h-4zM938 172h4v4h-4zM786 176h4v4h-4zM790 180h4v4h-4zM794 184h4v4h-4zM930 184h4v4h-4zM794 188h8v4h-8zM922 188h4v4h-4zM798 192h8v4h-8zM882 192h8v4h-8zM806 196h8v4h-8zM866 196h8v4h-8zM814 200h44v4h-44z"/>
<path fill="#41ca8d" d="M934 92h4v4h-4zM938 100h4v4h-4zM938 104h4v4h-4zM942 120h4v4h-4zM942 124h4v4h-4zM942 128h4v4h-4zM942 148h4v4h-4zM942 152h4v4h-4zM782 160h4v4h-4zM786 164h4v4h-4zM786 168h4v4h-4zM938 168h4v4h-4zM790 172h4v4h-4zM790 176h8v4h-8zM934 176h4v4h-4zM794 180h4v4h-4zM930 180h4v4h-4zM798 184h4v4h-4zM926 184h4v4h-4zM802 188h4v4h-4zM914 188h8v4h-8zM806 192h8v4h-8zM878 192h4v4h-4zM814 196h12v4h-12zM858 196h8v4h-8z"/>
<path fill="#48cb86" d="M934 96h4v4h-4zM938 108h4v4h-4zM942 132h4v4h-4zM942 136h4v4h-4zM942 140h4v4h-4zM942 144h4v4h-4zM786 156h4v4h-4zM786 160h4v4h-4zM790 164h4v4h-4zM938 164h4v4h-4zM790 168h4v4h-4zM794 172h4v4h-4zM934 172h4v4h-4zM798 176h4v4h-4zM798 180h4v4h-4zM802 184h4v4h-4zM922 184h4v4h-4zM806 188h8v4h-8zM890 188h24v4h-24zM814 192h8v4h-8zM870 192h8v4h-8zM826 196h32v4h-32z"/>
<path fill="#50cc80" d="M930 92h4v4h-4zM934 100h4v4h-4zM938 112h4v4h-4zM938 116h4v4h-4zM790 156h4v4h-4zM790 160h4v4h-4zM938 160h4v4h-4zM794 164h4v4h-4zM794 168h4v4h-4zM798 172h4v4h-4zM802 176h4v4h-4zM930 176h4v4h-4zM802 180h4v4h-4zM926 180h4v4h-4zM806 184h8v4h-8zM918 184h4v4h-4zM814 188h4v4h-4zM882 188h8v4h-8zM822 192h12v4h-12zM862 192h8v4h-8z"/>
<path fill="#58cc79" d="M930 96h4v4h-4zM934 104h4v4h-4zM938 120h4v4h-4zM938 124h4v4h-4zM790 152h4v4h-4zM938 152h4v4h-4zM794 156h4v4h-4zM938 156h4v4h-4zM794 160h4v4h-4zM798 164h4v4h-4zM798 168h4v4h-4zM934 168h4v4h-4zM802 172h4v4h-4zM806 176h4v4h-4zM806 180h8v4h-8zM922 180h4v4h-4zM814 184h4v4h-4zM910 184h8v4h-8zM818 188h8v4h-8zM874 188h8v4h-8zM834 192h28v4h-28z"/>
<path fill="#61cd71" d="M926 92h4v4h-4zM930 100h4v4h-4zM934 108h4v4h-4zM934 112h4v4h-4zM938 128h4v4h-4zM938 132h4v4h-4zM938 136h4v4h-4zM938 140h4v4h-4zM938 144h4v4h-4zM794 148h4v4h-4zM938 148h4v4h-4zM794 152h4v4h-4zM798 156h4v4h-4zM798 160h4v4h-4zM802 164h4v4h-4zM934 164h4v4h-4zM802 168h4v4h-4zM806 172h4v4h-4zM930 172h4v4h-4zM810 176h4v4h-4zM926 176h4v4h-4zM814 180h4v4h-4zM918 180h4v4h-4zM818 184h4v4h-4zM890 184h20v4h-20zM826 188h12v4h-12zM866 188h8v4h-8z"/>
<path fill="#6acd6a" d="M926 96h4v4h-4zM930 104h4v4h-4zM934 116h4v4h-4zM798 152h4v4h-4zM802 160h4v4h-4zM934 160h4v4h-4zM806 168h4v4h-4zM930 168h4v4h-4zM810 172h4v4h-4zM814 176h4v4h-4zM922 176h4v4h-4zM818 180h4v4h-4zM914 180h4v4h-4zM822 184h8v4h-8zM882 184h8v4h-8zM838 188h28v4h-28z"/>
<path fill="#73cd62" d="M922 92h4v4h-4zM926 100h4v4h-4zM930 108h4v4h-4zM934 120h4v4h-4zM798 144h4v4h-4zM798 148h4v4h-4zM802 152h4v4h-4zM802 156h4v4h-4zM934 156h4v4h-4zM806 160h4v4h-4zM806 164h4v4h-4zM810 168h4v4h-4zM814 172h4v4h-4zM926 172h4v4h-4zM818 176h4v4h-4zM822 180h4v4h-4zM910 180h4v4h-4zM830 184h8v4h-8zM874 184h8v4h-8z"/>
<path fill="#7dcc5b" d="M918 92h4v4h-4zM922 96h4v4h-4zM926 104h4v4h-4zM930 112h4v4h-4zM934 124h4v4h-4zM934 128h4v4h-4zM802 144h4v4h-4zM802 148h4v4h-4zM934 148h4v4h-4zM934 152h4v4h-4zM806 156h4v4h-4zM810 164h4v4h-4zM930 164h4v4h-4zM814 168h4v4h-4zM818 172h4v4h-4zM822 176h4v4h-4zM918 176h4v4h-4zM826 180h8v4h-8zM898 180h12v4h-12zM838 184h36v4h-36z"/>
<path fill="#87cb54" d="M922 100h4v4h-4zM930 116h4v4h-4zM934 132h4v4h-4zM934 136h4v4h-4zM934 140h4v4h-4zM934 144h4v4h-4zM806 148h4v4h-4zM806 152h4v4h-4zM810 156h4v4h-4zM810 160h4v4h-4zM930 160h4v4h-4zM814 164h4v4h-4zM818 168h4v4h-4zM926 168h4v4h-4zM822 172h4v4h-4zM922 172h4v4h-4zM826 176h4v4h-4zM914 176h4v4h-4zM834 180h8v4h-8zM886 180h12v4h-12z"/>
<path fill="#91ca4c" d="M914 92h4v4h-4zM918 96h4v4h-4zM922 104h4v4h-4zM926 108h4v4h-4zM930 120h4v4h-4zM806 140h4v4h-4zM806 144h4v4h-4zM810 152h4v4h-4zM930 156h4v4h-4zM814 160h4v4h-4zM818 164h4v4h-4zM926 164h4v4h-4zM826 172h4v4h-4zM830 176h4v4h-4zM910 176h4v4h-4zM842 180h8v4h-8zM874 180h12v4h-12z"/>
<path fill="#9ac945" d="M910 92h4v4h-4zM914 96h4v4h-4zM918 100h4v4h-4zM926 112h4v4h-4zM930 124h4v4h-4zM810 144h4v4h-4zM810 148h4v4h-4zM814 152h4v4h-4zM930 152h4v4h-4zM814 156h4v4h-4zM818 160h4v4h-4zM822 168h4v4h-4zM922 168h4v4h-4zM830 172h4v4h-4zM918 172h4v4h-4zM834 176h8v4h-8zM906 176h4v4h-4zM850 180h24v4h-24z"/>
<path fill="#a3c83e" d="M918 104h4v4h-4zM922 108h4v4h-4zM926 116h4v4h-4zM930 128h4v4h-4zM930 132h4v4h-4zM810 136h4v4h-4zM810 140h4v4h-4zM930 144h4v4h-4zM814 148h4v4h-4zM930 148h4v4h-4zM818 156h4v4h-4zM926 160h4v4h-4zM822 164h4v4h-4zM826 168h4v4h-4zM834 172h4v4h-4zM914 172h4v4h-4zM842 176h8v4h-8zM898 176h8v4h-8z"/>
<path fill="#adc638" d="M910 96h4v4h-4zM914 100h4v4h-4zM922 112h4v4h-4zM926 120h4v4h-4zM930 136h4v4h-4zM814 140h4v4h-4zM930 140h4v4h-4zM814 144h4v4h-4zM818 152h4v4h-4zM822 160h4v4h-4zM826 164h4v4h-4zM922 164h4v4h-4zM830 168h4v4h-4zM918 168h4v4h-4zM838 172h4v4h-4zM850 176h12v4h-12zM882 176h16v4h-16z"/>
<path fill="#b5c533" d="M906 96h4v4h-4zM910 100h4v4h-4zM914 104h4v4h-4zM918 108h4v4h-4zM926 124h4v4h-4zM814 132h4v4h-4zM814 136h4v4h-4zM818 144h4v4h-4zM818 148h4v4h-4zM822 156h4v4h-4zM926 156h4v4h-4zM826 160h4v4h-4zM830 164h4v4h-4zM834 168h4v4h-4zM842 172h4v4h-4zM910 172h4v4h-4zM862 176h20v4h-20z"/>
<path fill="#bec32e" d="M902 96h4v4h-4zM918 112h4v4h-4zM922 116h4v4h-4zM926 128h4v4h-4zM818 136h4v4h-4zM818 140h4v4h-4zM822 148h4v4h-4zM926 148h4v4h-4zM822 152h4v4h-4zM926 152h4v4h-4zM826 156h4v4h-4zM830 160h4v4h-4zM922 160h4v4h-4zM834 164h4v4h-4zM838 168h4v4h-4zM914 168h4v4h-4zM846 172h8v4h-8zM906 172h4v4h-4z"/>
<path fill="#c6c22a" d="M898 96h4v4h-4zM906 100h4v4h-4zM910 104h4v4h-4zM914 108h4v4h-4zM922 120h4v4h-4zM818 132h4v4h-4zM926 132h4v4h-4zM926 136h4v4h-4zM822 140h4v4h-4zM926 140h4v4h-4zM822 144h4v4h-4zM926 144h4v4h-4zM826 152h4v4h-4zM918 164h4v4h-4zM842 168h4v4h-4zM854 172h12v4h-12zM898 172h8v4h-8z"/>
<path fill="#cec028" d="M894 96h4v4h-4zM902 100h4v4h-4zM906 104h4v4h-4zM918 116h4v4h-4zM922 124h4v4h-4zM822 128h4v4h-4zM822 132h4v4h-4zM822 136h4v4h-4zM826 148h4v4h-4zM830 156h4v4h-4zM922 156h4v4h-4zM834 160h4v4h-4zM838 164h4v4h-4zM846 168h8v4h-8zM910 168h4v4h-4zM866 172h32v4h-32z"/>
<path fill="#d6be28" d="M890 96h4v4h-4zM898 100h4v4h-4zM910 108h4v4h-4zM914 112h4v4h-4zM918 120h4v4h-4zM922 128h4v4h-4zM826 136h4v4h-4zM826 140h4v4h-4zM826 144h4v4h-4zM830 148h4v4h-4zM830 152h4v4h-4zM922 152h4v4h-4zM834 156h4v4h-4zM838 160h4v4h-4zM918 160h4v4h-4zM842 164h4v4h-4zM914 164h4v4h-4zM854 168h8v4h-8zM906 168h4v4h-4z"/>
<path fill="#ddbd29" d="M894 100h4v4h-4zM902 104h4v4h-4zM906 108h4v4h-4zM910 112h4v4h-4zM914 116h4v4h-4zM826 124h4v4h-4zM826 128h4v4h-4zM826 132h4v4h-4zM922 132h4v4h-4zM922 136h4v4h-4zM830 144h4v4h-4zM922 144h4v4h-4zM922 148h4v4h-4zM834 152h4v4h-4zM838 156h4v4h-4zM842 160h4v4h-4zM846 164h8v4h-8zM862 168h8v4h-8z"/>
<path fill="#e4bb2c" d="M886 100h8v4h-8zM898 104h4v4h-4zM830 124h4v4h-4zM918 124h4v4h-4zM830 128h4v4h-4zM830 132h4v4h-4zM830 136h4v4h-4zM830 140h4v4h-4zM922 140h4v4h-4zM834 148h4v4h-4zM918 156h4v4h-4zM846 160h4v4h-4zM914 160h4v4h-4zM854 164h4v4h-4zM910 164h4v4h-4zM870 168h8v4h-8zM898 168h8v4h-8z"/>
<path fill="#eaba31" d="M878 100h8v4h-8zM894 104h4v4h-4zM902 108h4v4h-4zM906 112h4v4h-4zM910 116h4v4h-4zM834 120h4v4h-4zM914 120h4v4h-4zM834 124h4v4h-4zM918 128h4v4h-4zM834 140h4v4h-4zM834 144h4v4h-4zM838 152h4v4h-4zM918 152h4v4h-4zM842 156h4v4h-4zM850 160h4v4h-4zM858 164h8v4h-8zM878 168h20v4h-20z"/>
<path fill="#f0ba36" d="M866 104h28v4h-28zM898 108h4v4h-4zM838 120h4v4h-4zM914 124h4v4h-4zM834 128h4v4h-4zM834 132h4v4h-4zM918 132h4v4h-4zM834 136h4v4h-4zM918 136h4v4h-4zM838 144h4v4h-4zM838 148h4v4h-4zM918 148h4v4h-4zM842 152h4v4h-4zM846 156h4v4h-4zM914 156h4v4h-4zM854 160h4v4h-4zM866 164h4v4h-4zM906 164h4v4h-4z"/>
<path fill="#f6ba3b" d="M858 108h8v4h-8zM890 108h8v4h-8zM850 112h4v4h-4zM902 112h4v4h-4zM842 116h8v4h-8zM906 116h4v4h-4zM842 120h4v4h-4zM910 120h4v4h-4zM838 124h4v4h-4zM838 128h4v4h-4zM838 132h4v4h-4zM838 136h4v4h-4zM838 140h4v4h-4zM918 140h4v4h-4zM918 144h4v4h-4zM842 148h4v4h-4zM846 152h4v4h-4zM850 156h4v4h-4zM858 160h4v4h-4zM910 160h4v4h-4zM870 164h8v4h-8zM902 164h4v4h-4z"/>
<path fill="#fabb3d" d="M866 108h24v4h-24zM854 112h8v4h-8zM898 112h4v4h-4zM850 116h4v4h-4zM846 120h4v4h-4zM842 124h4v4h-4zM842 128h4v4h-4zM914 128h4v4h-4zM842 132h4v4h-4zM842 136h4v4h-4zM842 140h4v4h-4zM842 144h4v4h-4zM846 148h4v4h-4zM914 152h4v4h-4zM854 156h4v4h-4zM862 160h8v4h-8zM878 164h8v4h-8zM898 164h4v4h-4z"/>
<path fill="#febe3c" d="M862 112h12v4h-12zM890 112h8v4h-8zM854 116h8v4h-8zM902 116h4v4h-4zM850 120h4v4h-4zM906 120h4v4h-4zM846 124h4v4h-4zM910 124h4v4h-4zM846 128h4v4h-4zM914 132h4v4h-4zM914 136h4v4h-4zM846 144h4v4h-4zM914 148h4v4h-4zM850 152h4v4h-4zM858 156h4v4h-4zM910 156h4v4h-4zM870 160h4v4h-4zM906 160h4v4h-4zM886 164h12v4h-12z"/>
<path fill="#fec239" d="M874 112h16v4h-16zM862 116h8v4h-8zM898 116h4v4h-4zM854 120h4v4h-4zM902 120h4v4h-4zM850 124h4v4h-4zM850 128h4v4h-4zM910 128h4v4h-4zM846 132h4v4h-4zM846 136h4v4h-4zM846 140h4v4h-4zM914 140h4v4h-4zM914 144h4v4h-4zM850 148h4v4h-4zM854 152h8v4h-8zM862 156h8v4h-8zM874 160h4v4h-4z"/>
<path fill="#fec636" d="M870 116h12v4h-12zM890 116h8v4h-8zM858 120h8v4h-8zM854 124h8v4h-8zM906 124h4v4h-4zM854 128h4v4h-4zM850 132h4v4h-4zM910 132h4v4h-4zM850 136h4v4h-4zM850 140h4v4h-4zM850 144h4v4h-4zM854 148h4v4h-4zM862 152h4v4h-4zM910 152h4v4h-4zM870 156h4v4h-4zM878 160h8v4h-8zM902 160h4v4h-4z"/>
<path fill="#feca34" d="M882 116h8v4h-8zM866 120h8v4h-8zM898 120h4v4h-4zM862 124h4v4h-4zM902 124h4v4h-4zM858 128h4v4h-4zM906 128h4v4h-4zM854 132h4v4h-4zM854 136h4v4h-4zM910 136h4v4h-4zM854 140h4v4h-4zM854 144h4v4h-4zM858 148h8v4h-8zM910 148h4v4h-4zM866 152h4v4h-4zM874 156h4v4h-4zM906 156h4v4h-4zM886 160h4v4h-4zM898 160h4v4h-4z"/>
<path fill="#fdce31" d="M874 120h24v4h-24zM866 124h8v4h-8zM862 128h4v4h-4zM858 132h4v4h-4zM858 136h4v4h-4zM858 140h4v4h-4zM910 140h4v4h-4zM858 144h8v4h-8zM910 144h4v4h-4zM866 148h4v4h-4zM870 152h4v4h-4zM878 156h4v4h-4zM890 160h8v4h-8z"/>
<path fill="#fbd22f" d="M874 124h8v4h-8zM894 124h8v4h-8zM866 128h8v4h-8zM902 128h4v4h-4zM862 132h8v4h-8zM906 132h4v4h-4zM862 136h4v4h-4zM862 140h8v4h-8zM866 144h4v4h-4zM870 148h4v4h-4zM874 152h4v4h-4zM906 152h4v4h-4zM882 156h4v4h-4zM902 156h4v4h-4z"/>
<path fill="#f9d62d" d="M882 124h12v4h-12zM874 128h4v4h-4zM898 128h4v4h-4zM870 132h4v4h-4zM902 132h4v4h-4zM866 136h8v4h-8zM906 136h4v4h-4zM870 140h4v4h-4zM906 140h4v4h-4zM870 144h4v4h-4zM874 148h4v4h-4zM906 148h4v4h-4zM878 152h4v4h-4zM886 156h4v4h-4zM898 156h4v4h-4z"/>
<path fill="#f8da2b" d="M878 128h8v4h-8zM894 128h4v4h-4zM874 132h4v4h-4zM874 136h4v4h-4zM874 140h4v4h-4zM874 144h4v4h-4zM906 144h4v4h-4zM878 148h4v4h-4zM882 152h4v4h-4zM902 152h4v4h-4zM890 156h8v4h-8z"/>
<path fill="#f6df29" d="M886 128h8v4h-8zM878 132h8v4h-8zM898 132h4v4h-4zM878 136h4v4h-4zM902 136h4v4h-4zM878 140h4v4h-4zM878 144h4v4h-4zM902 148h4v4h-4z"/>
<path fill="#f5e327" d="M886 132h12v4h-12zM882 136h4v4h-4zM898 136h4v4h-4zM882 140h4v4h-4zM902 140h4v4h-4zM882 144h4v4h-4zM902 144h4v4h-4zM882 148h4v4h-4zM886 152h4v4h-4zM898 152h4v4h-4z"/>
<path fill="#f5e725" d="M886 136h12v4h-12zM898 140h4v4h-4zM886 148h4v4h-4zM898 148h4v4h-4zM890 152h8v4h-8z"/>
<path fill="#f5eb23" d="M886 140h12v4h-12zM886 144h4v4h-4zM898 144h4v4h-4zM890 148h8v4h-8z"/>
<path fill="#f6ef20" d="M890 144h8v4h-8z"/>
</g></g>
<circle cx="952.0" cy="326.1" r="230.0" fill="none" stroke="#000" stroke-width="8.4"/>
<g stroke="#000" stroke-width="3.2">
<circle cx="895.3" cy="151.4" r="8.5" fill="#f8f61a"/>
<circle cx="1009.2" cy="151.4" r="8.5" fill="#422ebf"/>
<circle cx="894.4" cy="190.3" r="8.5" fill="#44ca8a"/>
<circle cx="1010.1" cy="190.3" r="8.5" fill="#3c72ff"/>
<circle cx="803.5" cy="218.4" r="8.5" fill="#22c1b0"/>
<circle cx="876.8" cy="233.5" r="8.5" fill="#0db3d3"/>
<circle cx="952.3" cy="234.6" r="8.5" fill="#01b8c8"/>
<circle cx="1027.4" cy="233.5" r="8.5" fill="#3c72ff"/>
<circle cx="1101.0" cy="218.4" r="8.5" fill="#4367fd"/>
<circle cx="819.8" cy="275.7" r="8.5" fill="#2895ec"/>
<circle cx="907.0" cy="280.8" r="8.5" fill="#09b4d1"/>
<circle cx="997.5" cy="280.8" r="8.5" fill="#1ea8e0"/>
<circle cx="1084.5" cy="275.7" r="8.5" fill="#3c72ff"/>
<circle cx="768.4" cy="326.8" r="8.5" fill="#2e86f7"/>
<circle cx="859.8" cy="326.8" r="8.5" fill="#04b6cd"/>
<circle cx="952.3" cy="326.8" r="8.5" fill="#01b8c8"/>
<circle cx="1044.5" cy="326.8" r="8.5" fill="#2797eb"/>
<circle cx="1136.0" cy="326.8" r="8.5" fill="#3c72ff"/>
<circle cx="819.8" cy="377.3" r="8.5" fill="#25c2ad"/>
<circle cx="907.0" cy="371.5" r="8.5" fill="#2bc3a8"/>
<circle cx="997.5" cy="371.5" r="8.5" fill="#13b0d7"/>
<circle cx="1084.5" cy="377.3" r="8.5" fill="#2895ec"/>
<circle cx="803.3" cy="434.7" r="8.5" fill="#2c90f0"/>
<circle cx="876.8" cy="419.5" r="8.5" fill="#15afd9"/>
<circle cx="952.3" cy="418.3" r="8.5" fill="#06b5cf"/>
<circle cx="1027.4" cy="419.5" r="8.5" fill="#23a0e5"/>
<circle cx="1101.0" cy="434.7" r="8.5" fill="#3c72ff"/>
<circle cx="894.4" cy="462.8" r="8.5" fill="#20a4e3"/>
<circle cx="1009.8" cy="462.8" r="8.5" fill="#2d8af4"/>
<circle cx="895.3" cy="501.7" r="8.5" fill="#3c72ff"/>
<circle cx="952.3" cy="510.5" r="8.5" fill="#2994ed"/>
<circle cx="1009.2" cy="501.7" r="8.5" fill="#475dfa"/>
</g>
<path d="M1415.6 319.6L1415.6 322.3L1415.5 324.8L1415.4 327.2L1415.2 329.5L1415.0 331.8L1414.8 334.0L1414.5 336.2L1414.2 338.3L1413.9 340.3L1413.5 342.3L1413.1 344.3L1412.6 346.2L1412.1 348.1L1411.6 349.9L1411.0 351.6L1410.4 353.3L1409.8 355.0L1409.1 356.5L1408.4 358.1L1407.7 359.5L1407.0 360.9L1406.2 362.2L1405.4 363.5L1404.5 364.7L1403.7 365.8L1402.8 366.9L1401.8 367.9L1400.9 368.8L1399.9 369.6L1398.9 370.4L1397.9 371.1L1396.8 371.7L1395.8 372.3L1394.7 372.7L1393.5 373.1L1392.4 373.4L1391.2 373.7L1389.9 373.8L1388.6 373.9L1387.0 373.9L1385.7 373.8L1384.4 373.7L1383.2 373.4L1382.1 373.1L1380.9 372.7L1379.8 372.3L1378.8 371.7L1377.7 371.1L1376.7 370.4L1375.7 369.6L1374.7 368.8L1373.8 367.9L1372.8 366.9L1371.9 365.8L1371.1 364.7L1370.2 363.5L1369.4 362.2L1368.6 360.9L1367.9 359.5L1367.2 358.1L1366.5 356.5L1365.8 355.0L1365.2 353.3L1364.6 351.6L1364.0 349.9L1363.5 348.1L1363.0 346.2L1362.5 344.3L1362.1 342.3L1361.7 340.3L1361.4 338.3L1361.1 336.2L1360.8 334.0L1360.6 331.8L1360.4 329.5L1360.2 327.2L1360.1 324.8L1360.0 322.3L1360.0 319.6L1360.0 316.4L1360.0 313.7L1360.1 311.2L1360.2 308.8L1360.4 306.5L1360.6 304.2L1360.8 302.0L1361.1 299.8L1361.4 297.7L1361.7 295.7L1362.1 293.7L1362.5 291.7L1363.0 289.8L1363.5 287.9L1364.0 286.1L1364.6 284.4L1365.2 282.7L1365.8 281.0L1366.5 279.5L1367.2 277.9L1367.9 276.5L1368.6 275.1L1369.4 273.8L1370.2 272.5L1371.1 271.3L1371.9 270.2L1372.8 269.1L1373.8 268.1L1374.7 267.2L1375.7 266.4L1376.7 265.6L1377.7 264.9L1378.8 264.3L1379.8 263.7L1380.9 263.3L1382.1 262.9L1383.2 262.6L1384.4 262.3L1385.7 262.2L1387.0 262.1L1388.6 262.1L1389.9 262.2L1391.2 262.3L1392.4 262.6L1393.5 262.9L1394.7 263.3L1395.8 263.7L1396.8 264.3L1397.9 264.9L1398.9 265.6L1399.9 266.4L1400.9 267.2L1401.8 268.1L1402.8 269.1L1403.7 270.2L1404.5 271.3L1405.4 272.5L1406.2 273.8L1407.0 275.1L1407.7 276.5L1408.4 277.9L1409.1 279.5L1409.8 281.0L1410.4 282.7L1411.0 284.4L1411.6 286.1L1412.1 287.9L1412.6 289.8L1413.1 291.7L1413.5 293.7L1413.9 295.7L1414.2 297.7L1414.5 299.8L1414.8 302.0L1415.0 304.2L1415.2 306.5L1415.4 308.8L1415.5 311.2L1415.6 313.7L1415.6 316.4Z" fill="#fff" stroke="#000" stroke-width="8.3" stroke-linejoin="round"/>
<path d="M1886.6 319.6L1886.6 322.3L1886.5 324.8L1886.4 327.2L1886.2 329.5L1886.0 331.8L1885.8 334.0L1885.5 336.2L1885.2 338.3L1884.9 340.3L1884.5 342.3L1884.1 344.3L1883.6 346.2L1883.1 348.1L1882.6 349.9L1882.1 351.6L1881.5 353.3L1880.8 355.0L1880.2 356.5L1879.5 358.1L1878.8 359.5L1878.0 360.9L1877.2 362.2L1876.4 363.5L1875.6 364.7L1874.7 365.8L1873.8 366.9L1872.9 367.9L1872.0 368.8L1871.0 369.6L1870.0 370.4L1869.0 371.1L1868.0 371.7L1866.9 372.3L1865.8 372.7L1864.7 373.1L1863.5 373.4L1862.3 373.7L1861.1 373.8L1859.8 373.9L1858.2 373.9L1856.9 373.8L1855.7 373.7L1854.5 373.4L1853.3 373.1L1852.2 372.7L1851.1 372.3L1850.0 371.7L1849.0 371.1L1848.0 370.4L1847.0 369.6L1846.0 368.8L1845.1 367.9L1844.2 366.9L1843.3 365.8L1842.4 364.7L1841.6 363.5L1840.8 362.2L1840.0 360.9L1839.2 359.5L1838.5 358.1L1837.8 356.5L1837.2 355.0L1836.5 353.3L1835.9 351.6L1835.4 349.9L1834.9 348.1L1834.4 346.2L1833.9 344.3L1833.5 342.3L1833.1 340.3L1832.8 338.3L1832.5 336.2L1832.2 334.0L1832.0 331.8L1831.8 329.5L1831.6 327.2L1831.5 324.8L1831.4 322.3L1831.4 319.6L1831.4 316.4L1831.4 313.7L1831.5 311.2L1831.6 308.8L1831.8 306.5L1832.0 304.2L1832.2 302.0L1832.5 299.8L1832.8 297.7L1833.1 295.7L1833.5 293.7L1833.9 291.7L1834.4 289.8L1834.9 287.9L1835.4 286.1L1835.9 284.4L1836.5 282.7L1837.2 281.0L1837.8 279.5L1838.5 277.9L1839.2 276.5L1840.0 275.1L1840.8 273.8L1841.6 272.5L1842.4 271.3L1843.3 270.2L1844.2 269.1L1845.1 268.1L1846.0 267.2L1847.0 266.4L1848.0 265.6L1849.0 264.9L1850.0 264.3L1851.1 263.7L1852.2 263.3L1853.3 262.9L1854.5 262.6L1855.7 262.3L1856.9 262.2L1858.2 262.1L1859.8 262.1L1861.1 262.2L1862.3 262.3L1863.5 262.6L1864.7 262.9L1865.8 263.3L1866.9 263.7L1868.0 264.3L1869.0 264.9L1870.0 265.6L1871.0 266.4L1872.0 267.2L1872.9 268.1L1873.8 269.1L1874.7 270.2L1875.6 271.3L1876.4 272.5L1877.2 273.8L1878.0 275.1L1878.8 276.5L1879.5 277.9L1880.2 279.5L1880.8 281.0L1881.5 282.7L1882.1 284.4L1882.6 286.1L1883.1 287.9L1883.6 289.8L1884.1 291.7L1884.5 293.7L1884.9 295.7L1885.2 297.7L1885.5 299.8L1885.8 302.0L1886.0 304.2L1886.2 306.5L1886.4 308.8L1886.5 311.2L1886.6 313.7L1886.6 316.4Z" fill="#fff" stroke="#000" stroke-width="8.3" stroke-linejoin="round"/>
<path d="M1572.5 100.0L1623.0 44.6L1674.5 100.0" fill="none" stroke="#000" stroke-width="8.3" stroke-linejoin="round" stroke-linecap="butt"/>
<clipPath id="hc1"><circle cx="1623.4" cy="318.1" r="224.4"/></clipPath>
<circle cx="1623.4" cy="318.1" r="224.4" fill="#22a1e4"/>
<g clip-path="url(#hc1)"><g filter="url(#bl)" shape-rendering="crispEdges">
<path fill="#3e26a8" d="M1515 473h8v4h-8zM1507 477h28v4h-28zM1711 477h16v4h-16zM1507 481h36v4h-36zM1699 481h32v4h-32zM1507 485h56v4h-56zM1683 485h48v4h-48zM1507 489h64v4h-64zM1675 489h56v4h-56zM1511 493h60v4h-60zM1675 493h56v4h-56zM1515 497h60v4h-60zM1675 497h52v4h-52zM1523 501h52v4h-52zM1675 501h48v4h-48zM1527 505h44v4h-44zM1675 505h44v4h-44zM1535 509h36v4h-36zM1675 509h40v4h-40zM1539 513h32v4h-32zM1679 513h28v4h-28zM1547 517h20v4h-20zM1679 517h24v4h-24zM1555 521h4v4h-4zM1683 521h12v4h-12z"/>
<path fill="#3f29b0" d="M1495 469h32v4h-32zM1491 473h24v4h-24zM1523 473h12v4h-12zM1711 473h24v4h-24zM1491 477h16v4h-16zM1535 477h8v4h-8zM1703 477h8v4h-8zM1727 477h12v4h-12zM1491 481h16v4h-16zM1543 481h12v4h-12zM1687 481h12v4h-12zM1731 481h8v4h-8zM1495 485h12v4h-12zM1563 485h8v4h-8zM1679 485h4v4h-4zM1731 485h8v4h-8zM1495 489h12v4h-12zM1571 489h4v4h-4zM1731 489h8v4h-8zM1499 493h12v4h-12zM1571 493h4v4h-4zM1671 493h4v4h-4zM1731 493h8v4h-8zM1503 497h12v4h-12zM1671 497h4v4h-4zM1727 497h8v4h-8zM1511 501h12v4h-12zM1671 501h4v4h-4zM1723 501h8v4h-8zM1515 505h12v4h-12zM1571 505h4v4h-4zM1671 505h4v4h-4zM1719 505h8v4h-8zM1527 509h8v4h-8zM1571 509h4v4h-4zM1671 509h4v4h-4zM1715 509h8v4h-8zM1531 513h8v4h-8zM1571 513h4v4h-4zM1671 513h8v4h-8zM1707 513h8v4h-8zM1539 517h8v4h-8zM1567 517h4v4h-4zM1675 517h4v4h-4zM1703 517h8v4h-8zM1543 521h12v4h-12zM1559 521h12v4h-12zM1675 521h8v4h-8zM1695 521h12v4h-12zM1547 525h20v4h-20zM1679 525h20v4h-20z"/>
<path fill="#402bb8" d="M1483 461h24v4h-24zM1479 465h44v4h-44zM1475 469h20v4h-20zM1527 469h4v4h-4zM1711 469h28v4h-28zM1479 473h12v4h-12zM1535 473h4v4h-4zM1703 473h8v4h-8zM1735 473h8v4h-8zM1479 477h12v4h-12zM1543 477h4v4h-4zM1695 477h8v4h-8zM1739 477h8v4h-8zM1479 481h12v4h-12zM1555 481h8v4h-8zM1683 481h4v4h-4zM1739 481h8v4h-8zM1483 485h12v4h-12zM1675 485h4v4h-4zM1739 485h8v4h-8zM1487 489h8v4h-8zM1671 489h4v4h-4zM1739 489h8v4h-8zM1487 493h12v4h-12zM1575 493h4v4h-4zM1739 493h8v4h-8zM1491 497h12v4h-12zM1575 497h4v4h-4zM1667 497h4v4h-4zM1735 497h8v4h-8zM1495 501h16v4h-16zM1575 501h4v4h-4zM1667 501h4v4h-4zM1731 501h8v4h-8zM1503 505h12v4h-12zM1575 505h4v4h-4zM1667 505h4v4h-4zM1727 505h8v4h-8zM1511 509h16v4h-16zM1575 509h4v4h-4zM1667 509h4v4h-4zM1723 509h8v4h-8zM1519 513h12v4h-12zM1575 513h4v4h-4zM1715 513h8v4h-8zM1531 517h8v4h-8zM1571 517h4v4h-4zM1671 517h4v4h-4zM1711 517h8v4h-8zM1535 521h8v4h-8zM1571 521h4v4h-4zM1671 521h4v4h-4zM1707 521h8v4h-8zM1539 525h8v4h-8zM1567 525h8v4h-8zM1671 525h8v4h-8zM1699 525h8v4h-8zM1543 529h28v4h-28zM1675 529h28v4h-28zM1547 533h24v4h-24zM1679 533h16v4h-16z"/>
<path fill="#422ebf" d="M1475 453h20v4h-20zM1467 457h40v4h-40zM1463 461h20v4h-20zM1507 461h12v4h-12zM1463 465h16v4h-16zM1523 465h8v4h-8zM1715 465h28v4h-28zM1463 469h12v4h-12zM1531 469h4v4h-4zM1707 469h4v4h-4zM1739 469h12v4h-12zM1463 473h16v4h-16zM1539 473h4v4h-4zM1699 473h4v4h-4zM1743 473h12v4h-12zM1463 477h16v4h-16zM1547 477h8v4h-8zM1687 477h8v4h-8zM1747 477h8v4h-8zM1463 481h16v4h-16zM1563 481h8v4h-8zM1675 481h8v4h-8zM1747 481h8v4h-8zM1467 485h16v4h-16zM1571 485h4v4h-4zM1671 485h4v4h-4zM1747 485h8v4h-8zM1471 489h16v4h-16zM1575 489h4v4h-4zM1667 489h4v4h-4zM1747 489h8v4h-8zM1475 493h12v4h-12zM1667 493h4v4h-4zM1747 493h4v4h-4zM1479 497h12v4h-12zM1743 497h8v4h-8zM1487 501h8v4h-8zM1579 501h4v4h-4zM1739 501h8v4h-8zM1491 505h12v4h-12zM1579 505h4v4h-4zM1735 505h8v4h-8zM1499 509h12v4h-12zM1579 509h4v4h-4zM1731 509h8v4h-8zM1503 513h16v4h-16zM1667 513h4v4h-4zM1723 513h12v4h-12zM1511 517h20v4h-20zM1575 517h4v4h-4zM1667 517h4v4h-4zM1719 517h8v4h-8zM1523 521h12v4h-12zM1575 521h4v4h-4zM1667 521h4v4h-4zM1715 521h4v4h-4zM1531 525h8v4h-8zM1575 525h4v4h-4zM1667 525h4v4h-4zM1707 525h8v4h-8zM1535 529h8v4h-8zM1571 529h8v4h-8zM1667 529h8v4h-8zM1703 529h8v4h-8zM1571 533h8v4h-8zM1671 533h8v4h-8zM1695 533h8v4h-8zM1559 537h16v4h-16zM1671 537h16v4h-16z"/>
<path fill="#4331c7" d="M1467 449h28v4h-28zM1459 453h16v4h-16zM1495 453h12v4h-12zM1455 457h12v4h-12zM1507 457h12v4h-12zM1455 461h8v4h-8zM1519 461h8v4h-8zM1719 461h28v4h-28zM1451 465h12v4h-12zM1531 465h4v4h-4zM1711 465h4v4h-4zM1743 465h16v4h-16zM1451 469h12v4h-12zM1535 469h4v4h-4zM1703 469h4v4h-4zM1751 469h12v4h-12zM1455 473h8v4h-8zM1543 473h4v4h-4zM1695 473h4v4h-4zM1755 473h8v4h-8zM1459 477h4v4h-4zM1555 477h8v4h-8zM1683 477h4v4h-4zM1755 477h12v4h-12zM1755 481h8v4h-8zM1575 485h4v4h-4zM1667 485h4v4h-4zM1755 485h8v4h-8zM1755 489h8v4h-8zM1579 493h4v4h-4zM1663 493h4v4h-4zM1751 493h8v4h-8zM1579 497h4v4h-4zM1663 497h4v4h-4zM1751 497h8v4h-8zM1663 501h4v4h-4zM1747 501h8v4h-8zM1663 505h4v4h-4zM1743 505h8v4h-8zM1663 509h4v4h-4zM1739 509h8v4h-8zM1579 513h4v4h-4zM1663 513h4v4h-4zM1735 513h8v4h-8zM1579 517h4v4h-4zM1663 517h4v4h-4zM1727 517h8v4h-8zM1519 521h4v4h-4zM1579 521h4v4h-4zM1663 521h4v4h-4zM1719 521h8v4h-8zM1527 525h4v4h-4zM1579 525h4v4h-4zM1663 525h4v4h-4zM1715 525h4v4h-4zM1579 529h4v4h-4zM1663 529h4v4h-4zM1579 533h4v4h-4zM1663 533h8v4h-8zM1575 537h8v4h-8zM1663 537h8v4h-8zM1575 541h8v4h-8zM1663 541h12v4h-12z"/>
<path fill="#4434ce" d="M1471 441h12v4h-12zM1463 445h32v4h-32zM1455 449h12v4h-12zM1495 449h12v4h-12zM1451 453h8v4h-8zM1507 453h8v4h-8zM1447 457h8v4h-8zM1519 457h4v4h-4zM1727 457h28v4h-28zM1443 461h12v4h-12zM1527 461h4v4h-4zM1715 461h4v4h-4zM1747 461h24v4h-24zM1447 465h4v4h-4zM1535 465h4v4h-4zM1707 465h4v4h-4zM1759 465h16v4h-16zM1539 469h4v4h-4zM1699 469h4v4h-4zM1763 469h16v4h-16zM1547 473h8v4h-8zM1691 473h4v4h-4zM1763 473h16v4h-16zM1563 477h4v4h-4zM1679 477h4v4h-4zM1767 477h8v4h-8zM1571 481h4v4h-4zM1671 481h4v4h-4zM1763 481h12v4h-12zM1763 485h8v4h-8zM1579 489h4v4h-4zM1663 489h4v4h-4zM1763 489h8v4h-8zM1759 493h8v4h-8zM1583 497h4v4h-4zM1759 497h8v4h-8zM1583 501h4v4h-4zM1755 501h4v4h-4zM1583 505h4v4h-4zM1751 505h4v4h-4zM1583 509h4v4h-4zM1747 509h4v4h-4zM1583 513h4v4h-4zM1659 513h4v4h-4zM1583 517h4v4h-4zM1659 517h4v4h-4zM1583 521h4v4h-4zM1659 521h4v4h-4zM1583 525h4v4h-4zM1659 525h4v4h-4zM1583 529h4v4h-4zM1659 529h4v4h-4zM1583 533h4v4h-4zM1659 533h4v4h-4zM1583 537h8v4h-8zM1659 537h4v4h-4zM1583 541h8v4h-8zM1655 541h8v4h-8z"/>
<path fill="#4537d5" d="M1467 437h20v4h-20zM1459 441h12v4h-12zM1483 441h12v4h-12zM1451 445h12v4h-12zM1495 445h8v4h-8zM1447 449h8v4h-8zM1507 449h4v4h-4zM1443 453h8v4h-8zM1515 453h4v4h-4zM1735 453h52v4h-52zM1443 457h4v4h-4zM1523 457h4v4h-4zM1719 457h8v4h-8zM1755 457h40v4h-40zM1531 461h4v4h-4zM1711 461h4v4h-4zM1771 461h24v4h-24zM1703 465h4v4h-4zM1775 465h20v4h-20zM1543 469h4v4h-4zM1695 469h4v4h-4zM1779 469h12v4h-12zM1555 473h4v4h-4zM1683 473h8v4h-8zM1779 473h12v4h-12zM1567 477h4v4h-4zM1675 477h4v4h-4zM1775 477h12v4h-12zM1575 481h4v4h-4zM1667 481h4v4h-4zM1775 481h8v4h-8zM1579 485h4v4h-4zM1663 485h4v4h-4zM1771 485h8v4h-8zM1583 489h4v4h-4zM1771 489h4v4h-4zM1583 493h4v4h-4zM1659 493h4v4h-4zM1767 493h4v4h-4zM1659 497h4v4h-4zM1659 501h4v4h-4zM1659 505h4v4h-4zM1659 509h4v4h-4zM1587 521h4v4h-4zM1587 525h4v4h-4zM1655 525h4v4h-4zM1587 529h4v4h-4zM1655 529h4v4h-4zM1587 533h4v4h-4zM1655 533h4v4h-4zM1591 537h4v4h-4zM1651 537h8v4h-8zM1591 541h8v4h-8zM1651 541h4v4h-4zM1647 545h4v4h-4z"/>
<path fill="#463adb" d="M1467 433h16v4h-16zM1459 437h8v4h-8zM1487 437h8v4h-8zM1451 441h8v4h-8zM1495 441h8v4h-8zM1791 441h16v4h-16zM1447 445h4v4h-4zM1503 445h8v4h-8zM1775 445h36v4h-36zM1439 449h8v4h-8zM1511 449h8v4h-8zM1739 449h72v4h-72zM1439 453h4v4h-4zM1519 453h4v4h-4zM1723 453h12v4h-12zM1787 453h20v4h-20zM1527 457h4v4h-4zM1715 457h4v4h-4zM1795 457h12v4h-12zM1535 461h4v4h-4zM1707 461h4v4h-4zM1795 461h8v4h-8zM1539 465h4v4h-4zM1699 465h4v4h-4zM1795 465h4v4h-4zM1547 469h4v4h-4zM1691 469h4v4h-4zM1791 469h4v4h-4zM1559 473h4v4h-4zM1679 473h4v4h-4zM1571 477h4v4h-4zM1671 477h4v4h-4zM1579 481h4v4h-4zM1663 481h4v4h-4zM1583 485h4v4h-4zM1659 489h4v4h-4zM1587 501h4v4h-4zM1587 505h4v4h-4zM1587 509h4v4h-4zM1655 509h4v4h-4zM1587 513h4v4h-4zM1655 513h4v4h-4zM1587 517h4v4h-4zM1655 517h4v4h-4zM1655 521h4v4h-4zM1591 525h4v4h-4zM1591 529h4v4h-4zM1651 529h4v4h-4zM1591 533h8v4h-8zM1647 533h8v4h-8zM1595 537h4v4h-4zM1647 537h4v4h-4zM1599 541h8v4h-8zM1643 541h8v4h-8zM1599 545h48v4h-48z"/>
<path fill="#463de0" d="M1471 429h8v4h-8zM1459 433h8v4h-8zM1483 433h8v4h-8zM1791 433h24v4h-24zM1451 437h8v4h-8zM1495 437h4v4h-4zM1783 437h36v4h-36zM1443 441h8v4h-8zM1503 441h4v4h-4zM1767 441h24v4h-24zM1807 441h12v4h-12zM1439 445h8v4h-8zM1511 445h4v4h-4zM1743 445h32v4h-32zM1811 445h4v4h-4zM1435 449h4v4h-4zM1519 449h4v4h-4zM1727 449h12v4h-12zM1523 453h4v4h-4zM1719 453h4v4h-4zM1531 457h4v4h-4zM1711 457h4v4h-4zM1703 461h4v4h-4zM1543 465h4v4h-4zM1695 465h4v4h-4zM1551 469h4v4h-4zM1687 469h4v4h-4zM1563 473h4v4h-4zM1675 473h4v4h-4zM1575 477h4v4h-4zM1667 477h4v4h-4zM1659 485h4v4h-4zM1587 489h4v4h-4zM1587 493h4v4h-4zM1655 493h4v4h-4zM1587 497h4v4h-4zM1655 497h4v4h-4zM1655 501h4v4h-4zM1655 505h4v4h-4zM1591 517h4v4h-4zM1651 517h4v4h-4zM1591 521h4v4h-4zM1651 521h4v4h-4zM1651 525h4v4h-4zM1595 529h4v4h-4zM1647 529h4v4h-4zM1599 533h4v4h-4zM1643 533h4v4h-4zM1599 537h8v4h-8zM1639 537h8v4h-8zM1607 541h36v4h-36z"/>
<path fill="#4741e5" d="M1795 425h24v4h-24zM1459 429h12v4h-12zM1479 429h12v4h-12zM1787 429h36v4h-36zM1451 433h8v4h-8zM1491 433h8v4h-8zM1779 433h12v4h-12zM1815 433h8v4h-8zM1443 437h8v4h-8zM1499 437h8v4h-8zM1763 437h20v4h-20zM1439 441h4v4h-4zM1507 441h4v4h-4zM1747 441h20v4h-20zM1431 445h8v4h-8zM1515 445h4v4h-4zM1731 445h12v4h-12zM1523 449h4v4h-4zM1723 449h4v4h-4zM1527 453h4v4h-4zM1715 453h4v4h-4zM1535 457h4v4h-4zM1707 457h4v4h-4zM1539 461h4v4h-4zM1699 461h4v4h-4zM1547 465h4v4h-4zM1691 465h4v4h-4zM1555 469h4v4h-4zM1683 469h4v4h-4zM1567 473h4v4h-4zM1671 473h4v4h-4zM1579 477h4v4h-4zM1663 477h4v4h-4zM1583 481h4v4h-4zM1659 481h4v4h-4zM1587 485h4v4h-4zM1655 485h4v4h-4zM1655 489h4v4h-4zM1591 505h4v4h-4zM1591 509h4v4h-4zM1651 509h4v4h-4zM1591 513h4v4h-4zM1651 513h4v4h-4zM1595 521h4v4h-4zM1647 521h4v4h-4zM1595 525h4v4h-4zM1647 525h4v4h-4zM1599 529h4v4h-4zM1643 529h4v4h-4zM1603 533h4v4h-4zM1639 533h4v4h-4zM1607 537h32v4h-32z"/>
<path fill="#4745e9" d="M1799 417h24v4h-24zM1791 421h36v4h-36zM1463 425h24v4h-24zM1783 425h12v4h-12zM1819 425h8v4h-8zM1455 429h4v4h-4zM1491 429h4v4h-4zM1775 429h12v4h-12zM1447 433h4v4h-4zM1499 433h4v4h-4zM1763 433h16v4h-16zM1439 437h4v4h-4zM1507 437h4v4h-4zM1747 437h16v4h-16zM1431 441h8v4h-8zM1511 441h4v4h-4zM1735 441h12v4h-12zM1519 445h4v4h-4zM1723 445h8v4h-8zM1715 449h8v4h-8zM1531 453h4v4h-4zM1711 453h4v4h-4zM1703 457h4v4h-4zM1543 461h4v4h-4zM1559 469h4v4h-4zM1679 469h4v4h-4zM1571 473h4v4h-4zM1667 473h4v4h-4zM1587 481h4v4h-4zM1655 481h4v4h-4zM1591 493h4v4h-4zM1591 497h4v4h-4zM1651 497h4v4h-4zM1591 501h4v4h-4zM1651 501h4v4h-4zM1651 505h4v4h-4zM1595 513h4v4h-4zM1595 517h4v4h-4zM1647 517h4v4h-4zM1599 525h4v4h-4zM1643 525h4v4h-4zM1603 529h4v4h-4zM1639 529h4v4h-4zM1607 533h32v4h-32z"/>
<path fill="#4849ed" d="M1803 409h24v4h-24zM1795 413h36v4h-36zM1787 417h12v4h-12zM1823 417h8v4h-8zM1471 421h8v4h-8zM1779 421h12v4h-12zM1455 425h8v4h-8zM1487 425h4v4h-4zM1771 425h12v4h-12zM1447 429h8v4h-8zM1495 429h4v4h-4zM1763 429h12v4h-12zM1439 433h8v4h-8zM1503 433h4v4h-4zM1751 433h12v4h-12zM1431 437h8v4h-8zM1511 437h4v4h-4zM1739 437h8v4h-8zM1515 441h4v4h-4zM1727 441h8v4h-8zM1523 445h4v4h-4zM1719 445h4v4h-4zM1527 449h4v4h-4zM1711 449h4v4h-4zM1707 453h4v4h-4zM1539 457h4v4h-4zM1699 457h4v4h-4zM1695 461h4v4h-4zM1551 465h4v4h-4zM1687 465h4v4h-4zM1563 469h4v4h-4zM1675 469h4v4h-4zM1575 473h4v4h-4zM1663 473h4v4h-4zM1583 477h4v4h-4zM1659 477h4v4h-4zM1591 485h4v4h-4zM1651 485h4v4h-4zM1591 489h4v4h-4zM1651 489h4v4h-4zM1651 493h4v4h-4zM1595 509h4v4h-4zM1647 509h4v4h-4zM1647 513h4v4h-4zM1599 521h4v4h-4zM1643 521h4v4h-4zM1603 525h4v4h-4zM1639 525h4v4h-4zM1607 529h8v4h-8zM1631 529h8v4h-8z"/>
<path fill="#484cf0" d="M1811 401h20v4h-20zM1799 405h36v4h-36zM1791 409h12v4h-12zM1827 409h8v4h-8zM1783 413h12v4h-12zM1779 417h8v4h-8zM1459 421h12v4h-12zM1479 421h8v4h-8zM1771 421h8v4h-8zM1451 425h4v4h-4zM1491 425h4v4h-4zM1763 425h8v4h-8zM1439 429h8v4h-8zM1499 429h4v4h-4zM1751 429h12v4h-12zM1431 433h8v4h-8zM1507 433h4v4h-4zM1739 433h12v4h-12zM1427 437h4v4h-4zM1515 437h4v4h-4zM1731 437h8v4h-8zM1519 441h4v4h-4zM1723 441h4v4h-4zM1715 445h4v4h-4zM1531 449h4v4h-4zM1535 453h4v4h-4zM1703 453h4v4h-4zM1547 461h4v4h-4zM1691 461h4v4h-4zM1555 465h4v4h-4zM1683 465h4v4h-4zM1567 469h4v4h-4zM1671 469h4v4h-4zM1579 473h4v4h-4zM1659 473h4v4h-4zM1587 477h4v4h-4zM1655 477h4v4h-4zM1591 481h4v4h-4zM1651 481h4v4h-4zM1595 497h4v4h-4zM1595 501h4v4h-4zM1647 501h4v4h-4zM1595 505h4v4h-4zM1647 505h4v4h-4zM1599 513h4v4h-4zM1599 517h4v4h-4zM1643 517h4v4h-4zM1603 521h4v4h-4zM1639 521h4v4h-4zM1607 525h4v4h-4zM1635 525h4v4h-4zM1615 529h16v4h-16z"/>
<path fill="#4850f3" d="M1819 393h12v4h-12zM1803 397h36v4h-36zM1795 401h16v4h-16zM1831 401h8v4h-8zM1787 405h12v4h-12zM1783 409h8v4h-8zM1775 413h8v4h-8zM1467 417h12v4h-12zM1771 417h8v4h-8zM1451 421h8v4h-8zM1487 421h8v4h-8zM1763 421h8v4h-8zM1443 425h8v4h-8zM1495 425h8v4h-8zM1751 425h12v4h-12zM1435 429h4v4h-4zM1503 429h4v4h-4zM1743 429h8v4h-8zM1427 433h4v4h-4zM1511 433h4v4h-4zM1731 433h8v4h-8zM1727 437h4v4h-4zM1523 441h4v4h-4zM1719 441h4v4h-4zM1527 445h4v4h-4zM1711 445h4v4h-4zM1707 449h4v4h-4zM1539 453h4v4h-4zM1543 457h4v4h-4zM1695 457h4v4h-4zM1551 461h4v4h-4zM1687 461h4v4h-4zM1559 465h4v4h-4zM1679 465h4v4h-4zM1571 469h4v4h-4zM1667 469h4v4h-4zM1583 473h4v4h-4zM1591 477h4v4h-4zM1651 477h4v4h-4zM1595 485h4v4h-4zM1647 485h4v4h-4zM1595 489h4v4h-4zM1647 489h4v4h-4zM1595 493h4v4h-4zM1647 493h4v4h-4zM1647 497h4v4h-4zM1599 509h4v4h-4zM1643 509h4v4h-4zM1643 513h4v4h-4zM1603 517h4v4h-4zM1639 517h4v4h-4zM1607 521h4v4h-4zM1635 521h4v4h-4zM1611 525h24v4h-24z"/>
<path fill="#4854f5" d="M1699 213h8v4h-8zM1695 217h16v4h-16zM1691 221h20v4h-20zM1691 225h20v4h-20zM1695 229h12v4h-12zM1811 389h28v4h-28zM1799 393h20v4h-20zM1831 393h8v4h-8zM1791 397h12v4h-12zM1787 401h8v4h-8zM1779 405h8v4h-8zM1775 409h8v4h-8zM1767 413h8v4h-8zM1459 417h8v4h-8zM1479 417h8v4h-8zM1759 417h12v4h-12zM1447 421h4v4h-4zM1495 421h4v4h-4zM1751 421h12v4h-12zM1435 425h8v4h-8zM1503 425h4v4h-4zM1743 425h8v4h-8zM1427 429h8v4h-8zM1507 429h4v4h-4zM1735 429h8v4h-8zM1423 433h4v4h-4zM1515 433h4v4h-4zM1727 433h4v4h-4zM1519 437h4v4h-4zM1719 437h8v4h-8zM1527 441h4v4h-4zM1715 441h4v4h-4zM1531 445h4v4h-4zM1535 449h4v4h-4zM1703 449h4v4h-4zM1699 453h4v4h-4zM1547 457h4v4h-4zM1563 465h4v4h-4zM1675 465h4v4h-4zM1575 469h4v4h-4zM1663 469h4v4h-4zM1587 473h4v4h-4zM1655 473h4v4h-4zM1595 481h4v4h-4zM1647 481h4v4h-4zM1599 501h4v4h-4zM1599 505h4v4h-4zM1643 505h4v4h-4zM1603 513h4v4h-4zM1639 513h4v4h-4zM1607 517h4v4h-4zM1611 521h4v4h-4zM1631 521h4v4h-4z"/>
<path fill="#4758f8" d="M1695 209h16v4h-16zM1691 213h8v4h-8zM1707 213h8v4h-8zM1691 217h4v4h-4zM1711 217h4v4h-4zM1687 221h4v4h-4zM1711 221h4v4h-4zM1687 225h4v4h-4zM1711 225h4v4h-4zM1691 229h4v4h-4zM1707 229h4v4h-4zM1695 233h12v4h-12zM1819 381h20v4h-20zM1807 385h36v4h-36zM1799 389h12v4h-12zM1839 389h4v4h-4zM1791 393h8v4h-8zM1783 397h8v4h-8zM1779 401h8v4h-8zM1771 405h8v4h-8zM1767 409h8v4h-8zM1467 413h12v4h-12zM1759 413h8v4h-8zM1451 417h8v4h-8zM1487 417h8v4h-8zM1751 417h8v4h-8zM1439 421h8v4h-8zM1499 421h4v4h-4zM1743 421h8v4h-8zM1431 425h4v4h-4zM1507 425h4v4h-4zM1735 425h8v4h-8zM1423 429h4v4h-4zM1511 429h4v4h-4zM1731 429h4v4h-4zM1519 433h4v4h-4zM1723 433h4v4h-4zM1523 437h4v4h-4zM1715 437h4v4h-4zM1711 441h4v4h-4zM1707 445h4v4h-4zM1539 449h4v4h-4zM1543 453h4v4h-4zM1695 453h4v4h-4zM1691 457h4v4h-4zM1555 461h4v4h-4zM1683 461h4v4h-4zM1567 465h4v4h-4zM1671 465h4v4h-4zM1579 469h8v4h-8zM1659 469h4v4h-4zM1591 473h4v4h-4zM1651 473h4v4h-4zM1595 477h4v4h-4zM1647 477h4v4h-4zM1599 489h4v4h-4zM1599 493h4v4h-4zM1643 493h4v4h-4zM1599 497h4v4h-4zM1643 497h4v4h-4zM1643 501h4v4h-4zM1603 509h4v4h-4zM1639 509h4v4h-4zM1635 517h4v4h-4zM1615 521h16v4h-16z"/>
<path fill="#475bfa" d="M1699 201h8v4h-8zM1695 205h20v4h-20zM1691 209h4v4h-4zM1711 209h4v4h-4zM1687 213h4v4h-4zM1715 213h4v4h-4zM1687 217h4v4h-4zM1715 217h4v4h-4zM1715 221h4v4h-4zM1715 225h4v4h-4zM1687 229h4v4h-4zM1711 229h4v4h-4zM1691 233h4v4h-4zM1707 233h8v4h-8zM1695 237h16v4h-16zM1811 377h36v4h-36zM1803 381h16v4h-16zM1839 381h4v4h-4zM1795 385h12v4h-12zM1787 389h12v4h-12zM1783 393h8v4h-8zM1775 397h8v4h-8zM1771 401h8v4h-8zM1767 405h4v4h-4zM1759 409h8v4h-8zM1455 413h12v4h-12zM1479 413h8v4h-8zM1751 413h8v4h-8zM1443 417h8v4h-8zM1495 417h4v4h-4zM1743 417h8v4h-8zM1431 421h8v4h-8zM1503 421h4v4h-4zM1735 421h8v4h-8zM1423 425h8v4h-8zM1511 425h4v4h-4zM1731 425h4v4h-4zM1515 429h4v4h-4zM1723 429h8v4h-8zM1719 433h4v4h-4zM1527 437h4v4h-4zM1531 441h4v4h-4zM1707 441h4v4h-4zM1535 445h4v4h-4zM1703 445h4v4h-4zM1699 449h4v4h-4zM1551 457h4v4h-4zM1687 457h4v4h-4zM1559 461h4v4h-4zM1679 461h4v4h-4zM1571 465h4v4h-4zM1663 465h8v4h-8zM1587 469h4v4h-4zM1655 469h4v4h-4zM1647 473h4v4h-4zM1599 481h4v4h-4zM1643 481h4v4h-4zM1599 485h4v4h-4zM1643 485h4v4h-4zM1643 489h4v4h-4zM1603 505h4v4h-4zM1639 505h4v4h-4zM1607 513h4v4h-4zM1635 513h4v4h-4zM1611 517h8v4h-8zM1631 517h4v4h-4z"/>
<path fill="#465ffb" d="M1699 197h16v4h-16zM1691 201h8v4h-8zM1707 201h12v4h-12zM1687 205h8v4h-8zM1715 205h4v4h-4zM1687 209h4v4h-4zM1715 209h8v4h-8zM1683 213h4v4h-4zM1719 213h4v4h-4zM1683 217h4v4h-4zM1719 217h4v4h-4zM1683 221h4v4h-4zM1719 221h4v4h-4zM1683 225h4v4h-4zM1719 225h4v4h-4zM1683 229h4v4h-4zM1715 229h4v4h-4zM1687 233h4v4h-4zM1715 233h4v4h-4zM1691 237h4v4h-4zM1711 237h4v4h-4zM1695 241h16v4h-16zM1819 369h28v4h-28zM1811 373h36v4h-36zM1799 377h12v4h-12zM1795 381h8v4h-8zM1787 385h8v4h-8zM1779 389h8v4h-8zM1775 393h8v4h-8zM1771 397h4v4h-4zM1763 401h8v4h-8zM1759 405h8v4h-8zM1751 409h8v4h-8zM1447 413h8v4h-8zM1487 413h4v4h-4zM1743 413h8v4h-8zM1435 417h8v4h-8zM1499 417h4v4h-4zM1739 417h4v4h-4zM1427 421h4v4h-4zM1507 421h4v4h-4zM1731 421h4v4h-4zM1419 425h4v4h-4zM1515 425h4v4h-4zM1727 425h4v4h-4zM1519 429h4v4h-4zM1719 429h4v4h-4zM1523 433h4v4h-4zM1715 433h4v4h-4zM1711 437h4v4h-4zM1539 445h4v4h-4zM1543 449h4v4h-4zM1695 449h4v4h-4zM1547 453h4v4h-4zM1691 453h4v4h-4zM1675 461h4v4h-4zM1575 465h8v4h-8zM1659 465h4v4h-4zM1591 469h4v4h-4zM1651 469h4v4h-4zM1595 473h4v4h-4zM1599 477h4v4h-4zM1643 477h4v4h-4zM1603 497h4v4h-4zM1603 501h4v4h-4zM1639 501h4v4h-4zM1607 509h4v4h-4zM1635 509h4v4h-4zM1611 513h4v4h-4zM1631 513h4v4h-4zM1619 517h12v4h-12z"/>
<path fill="#4563fc" d="M1699 193h20v4h-20zM1691 197h8v4h-8zM1715 197h4v4h-4zM1687 201h4v4h-4zM1719 201h4v4h-4zM1719 205h4v4h-4zM1683 209h4v4h-4zM1723 209h4v4h-4zM1723 213h4v4h-4zM1679 217h4v4h-4zM1723 217h4v4h-4zM1679 221h4v4h-4zM1723 221h4v4h-4zM1679 225h4v4h-4zM1723 225h4v4h-4zM1719 229h4v4h-4zM1683 233h4v4h-4zM1719 233h4v4h-4zM1687 237h4v4h-4zM1715 237h4v4h-4zM1691 241h4v4h-4zM1711 241h4v4h-4zM1699 245h8v4h-8zM1827 361h24v4h-24zM1815 365h32v4h-32zM1807 369h12v4h-12zM1799 373h12v4h-12zM1791 377h8v4h-8zM1787 381h8v4h-8zM1779 385h8v4h-8zM1775 389h4v4h-4zM1767 393h8v4h-8zM1763 397h8v4h-8zM1755 401h8v4h-8zM1751 405h8v4h-8zM1455 409h28v4h-28zM1743 409h8v4h-8zM1439 413h8v4h-8zM1491 413h8v4h-8zM1739 413h4v4h-4zM1427 417h8v4h-8zM1503 417h4v4h-4zM1731 417h8v4h-8zM1419 421h8v4h-8zM1511 421h4v4h-4zM1727 421h4v4h-4zM1719 425h8v4h-8zM1523 429h4v4h-4zM1715 429h4v4h-4zM1527 433h4v4h-4zM1711 433h4v4h-4zM1531 437h4v4h-4zM1707 437h4v4h-4zM1535 441h4v4h-4zM1703 441h4v4h-4zM1699 445h4v4h-4zM1555 457h4v4h-4zM1683 457h4v4h-4zM1563 461h4v4h-4zM1667 461h8v4h-8zM1583 465h4v4h-4zM1655 465h4v4h-4zM1647 469h4v4h-4zM1599 473h4v4h-4zM1643 473h4v4h-4zM1603 481h4v4h-4zM1639 481h4v4h-4zM1603 485h4v4h-4zM1639 485h4v4h-4zM1603 489h4v4h-4zM1639 489h4v4h-4zM1603 493h4v4h-4zM1639 493h4v4h-4zM1639 497h4v4h-4zM1607 505h4v4h-4zM1635 505h4v4h-4zM1615 513h4v4h-4zM1627 513h4v4h-4z"/>
<path fill="#4367fd" d="M1703 185h12v4h-12zM1695 189h24v4h-24zM1691 193h8v4h-8zM1719 193h4v4h-4zM1687 197h4v4h-4zM1719 197h8v4h-8zM1683 201h4v4h-4zM1723 201h4v4h-4zM1683 205h4v4h-4zM1723 205h4v4h-4zM1679 209h4v4h-4zM1727 209h4v4h-4zM1679 213h4v4h-4zM1727 213h4v4h-4zM1727 217h4v4h-4zM1727 221h4v4h-4zM1679 229h4v4h-4zM1723 229h4v4h-4zM1679 233h4v4h-4zM1723 233h4v4h-4zM1683 237h4v4h-4zM1719 237h4v4h-4zM1687 241h4v4h-4zM1715 241h4v4h-4zM1691 245h8v4h-8zM1707 245h8v4h-8zM1703 249h4v4h-4zM1835 353h16v4h-16zM1819 357h32v4h-32zM1811 361h16v4h-16zM1803 365h12v4h-12zM1795 369h12v4h-12zM1791 373h8v4h-8zM1783 377h8v4h-8zM1779 381h8v4h-8zM1771 385h8v4h-8zM1767 389h8v4h-8zM1759 393h8v4h-8zM1755 397h8v4h-8zM1751 401h4v4h-4zM1743 405h8v4h-8zM1447 409h8v4h-8zM1483 409h8v4h-8zM1739 409h4v4h-4zM1431 413h8v4h-8zM1499 413h4v4h-4zM1731 413h8v4h-8zM1419 417h8v4h-8zM1507 417h4v4h-4zM1727 417h4v4h-4zM1515 421h4v4h-4zM1723 421h4v4h-4zM1519 425h4v4h-4zM1715 425h4v4h-4zM1711 429h4v4h-4zM1531 433h4v4h-4zM1707 433h4v4h-4zM1535 437h4v4h-4zM1703 437h4v4h-4zM1539 441h4v4h-4zM1699 441h4v4h-4zM1543 445h4v4h-4zM1695 445h4v4h-4zM1547 449h4v4h-4zM1691 449h4v4h-4zM1551 453h4v4h-4zM1687 453h4v4h-4zM1679 457h4v4h-4zM1567 461h8v4h-8zM1659 461h8v4h-8zM1587 465h4v4h-4zM1651 465h4v4h-4zM1595 469h4v4h-4zM1643 469h4v4h-4zM1603 477h4v4h-4zM1639 477h4v4h-4zM1607 501h4v4h-4zM1635 501h4v4h-4zM1611 509h4v4h-4zM1631 509h4v4h-4zM1619 513h8v4h-8z"/>
<path fill="#416bfe" d="M1699 181h20v4h-20zM1695 185h8v4h-8zM1715 185h8v4h-8zM1691 189h4v4h-4zM1719 189h8v4h-8zM1687 193h4v4h-4zM1723 193h8v4h-8zM1683 197h4v4h-4zM1727 197h4v4h-4zM1727 201h4v4h-4zM1679 205h4v4h-4zM1727 205h4v4h-4zM1675 213h4v4h-4zM1731 213h4v4h-4zM1675 217h4v4h-4zM1731 217h4v4h-4zM1675 221h4v4h-4zM1675 225h4v4h-4zM1727 225h4v4h-4zM1675 229h4v4h-4zM1727 229h4v4h-4zM1727 233h4v4h-4zM1679 237h4v4h-4zM1723 237h4v4h-4zM1683 241h4v4h-4zM1719 241h8v4h-8zM1687 245h4v4h-4zM1715 245h8v4h-8zM1691 249h12v4h-12zM1707 249h8v4h-8zM1839 345h12v4h-12zM1827 349h24v4h-24zM1815 353h20v4h-20zM1807 357h12v4h-12zM1799 361h12v4h-12zM1795 365h8v4h-8zM1787 369h8v4h-8zM1783 373h8v4h-8zM1775 377h8v4h-8zM1771 381h8v4h-8zM1763 385h8v4h-8zM1759 389h8v4h-8zM1755 393h4v4h-4zM1747 397h8v4h-8zM1743 401h8v4h-8zM1455 405h28v4h-28zM1735 405h8v4h-8zM1435 409h12v4h-12zM1491 409h8v4h-8zM1731 409h8v4h-8zM1423 413h8v4h-8zM1503 413h4v4h-4zM1727 413h4v4h-4zM1415 417h4v4h-4zM1511 417h4v4h-4zM1723 417h4v4h-4zM1519 421h4v4h-4zM1719 421h4v4h-4zM1523 425h4v4h-4zM1527 429h4v4h-4zM1683 453h4v4h-4zM1559 457h4v4h-4zM1671 457h8v4h-8zM1575 461h8v4h-8zM1655 461h4v4h-4zM1591 465h8v4h-8zM1647 465h4v4h-4zM1599 469h4v4h-4zM1603 473h4v4h-4zM1639 473h4v4h-4zM1607 481h4v4h-4zM1635 481h4v4h-4zM1607 485h4v4h-4zM1635 485h4v4h-4zM1607 489h4v4h-4zM1635 489h4v4h-4zM1607 493h4v4h-4zM1635 493h4v4h-4zM1607 497h4v4h-4zM1635 497h4v4h-4zM1611 505h4v4h-4zM1631 505h4v4h-4zM1615 509h4v4h-4zM1627 509h4v4h-4z"/>
<path fill="#3f6fff" d="M1703 173h16v4h-16zM1699 177h28v4h-28zM1695 181h4v4h-4zM1719 181h12v4h-12zM1691 185h4v4h-4zM1723 185h8v4h-8zM1687 189h4v4h-4zM1727 189h8v4h-8zM1683 193h4v4h-4zM1731 193h4v4h-4zM1679 197h4v4h-4zM1731 197h4v4h-4zM1679 201h4v4h-4zM1731 201h4v4h-4zM1675 205h4v4h-4zM1731 205h4v4h-4zM1675 209h4v4h-4zM1731 209h4v4h-4zM1671 221h4v4h-4zM1731 221h4v4h-4zM1731 225h4v4h-4zM1731 229h4v4h-4zM1675 233h4v4h-4zM1731 233h4v4h-4zM1675 237h4v4h-4zM1727 237h4v4h-4zM1679 241h4v4h-4zM1727 241h4v4h-4zM1683 245h4v4h-4zM1723 245h4v4h-4zM1687 249h4v4h-4zM1715 249h8v4h-8zM1695 253h20v4h-20zM1839 337h12v4h-12zM1827 341h24v4h-24zM1819 345h20v4h-20zM1811 349h16v4h-16zM1803 353h12v4h-12zM1799 357h8v4h-8zM1791 361h8v4h-8zM1787 365h8v4h-8zM1779 369h8v4h-8zM1775 373h8v4h-8zM1767 377h8v4h-8zM1763 381h8v4h-8zM1759 385h4v4h-4zM1751 389h8v4h-8zM1747 393h8v4h-8zM1739 397h8v4h-8zM1735 401h8v4h-8zM1443 405h12v4h-12zM1483 405h8v4h-8zM1731 405h4v4h-4zM1427 409h8v4h-8zM1499 409h4v4h-4zM1727 409h4v4h-4zM1415 413h8v4h-8zM1507 413h4v4h-4zM1723 413h4v4h-4zM1515 417h4v4h-4zM1719 417h4v4h-4zM1523 421h4v4h-4zM1715 421h4v4h-4zM1527 425h4v4h-4zM1711 425h4v4h-4zM1531 429h4v4h-4zM1707 429h4v4h-4zM1535 433h4v4h-4zM1703 433h4v4h-4zM1539 437h4v4h-4zM1699 437h4v4h-4zM1543 441h4v4h-4zM1695 441h4v4h-4zM1547 445h4v4h-4zM1691 445h4v4h-4zM1551 449h4v4h-4zM1687 449h4v4h-4zM1555 453h4v4h-4zM1563 457h4v4h-4zM1663 457h8v4h-8zM1583 461h8v4h-8zM1647 461h8v4h-8zM1599 465h4v4h-4zM1643 465h4v4h-4zM1603 469h4v4h-4zM1639 469h4v4h-4zM1607 473h4v4h-4zM1635 473h4v4h-4zM1607 477h4v4h-4zM1635 477h4v4h-4zM1611 501h4v4h-4zM1631 501h4v4h-4zM1619 509h8v4h-8z"/>
<path fill="#3b73fe" d="M1707 165h16v4h-16zM1699 169h28v4h-28zM1695 173h8v4h-8zM1719 173h12v4h-12zM1691 177h8v4h-8zM1727 177h8v4h-8zM1687 181h8v4h-8zM1731 181h4v4h-4zM1687 185h4v4h-4zM1731 185h8v4h-8zM1683 189h4v4h-4zM1735 189h4v4h-4zM1679 193h4v4h-4zM1735 193h4v4h-4zM1735 197h4v4h-4zM1675 201h4v4h-4zM1735 201h4v4h-4zM1735 205h4v4h-4zM1671 209h4v4h-4zM1735 209h4v4h-4zM1671 213h4v4h-4zM1735 213h4v4h-4zM1671 217h4v4h-4zM1735 217h4v4h-4zM1735 221h4v4h-4zM1671 225h4v4h-4zM1735 225h4v4h-4zM1671 229h4v4h-4zM1735 229h4v4h-4zM1671 233h4v4h-4zM1731 237h4v4h-4zM1675 241h4v4h-4zM1679 245h4v4h-4zM1727 245h4v4h-4zM1683 249h4v4h-4zM1723 249h4v4h-4zM1687 253h8v4h-8zM1715 253h8v4h-8zM1695 257h20v4h-20zM1847 325h8v4h-8zM1835 329h20v4h-20zM1827 333h28v4h-28zM1823 337h16v4h-16zM1815 341h12v4h-12zM1807 345h12v4h-12zM1803 349h8v4h-8zM1795 353h8v4h-8zM1787 357h12v4h-12zM1783 361h8v4h-8zM1779 365h8v4h-8zM1771 369h8v4h-8zM1767 373h8v4h-8zM1763 377h4v4h-4zM1755 381h8v4h-8zM1751 385h8v4h-8zM1743 389h8v4h-8zM1739 393h8v4h-8zM1735 397h4v4h-4zM1451 401h28v4h-28zM1727 401h8v4h-8zM1431 405h12v4h-12zM1491 405h4v4h-4zM1723 405h8v4h-8zM1419 409h8v4h-8zM1503 409h4v4h-4zM1719 409h8v4h-8zM1511 413h4v4h-4zM1715 413h8v4h-8zM1519 417h4v4h-4zM1715 417h4v4h-4zM1711 421h4v4h-4zM1531 425h4v4h-4zM1707 425h4v4h-4zM1535 429h4v4h-4zM1703 429h4v4h-4zM1699 433h4v4h-4zM1695 437h4v4h-4zM1679 453h4v4h-4zM1567 457h4v4h-4zM1655 457h8v4h-8zM1591 461h8v4h-8zM1643 461h4v4h-4zM1603 465h4v4h-4zM1639 465h4v4h-4zM1607 469h4v4h-4zM1635 469h4v4h-4zM1631 473h4v4h-4zM1611 477h4v4h-4zM1631 477h4v4h-4zM1611 481h4v4h-4zM1631 481h4v4h-4zM1611 485h4v4h-4zM1631 485h4v4h-4zM1611 489h4v4h-4zM1631 489h4v4h-4zM1611 493h4v4h-4zM1631 493h4v4h-4zM1611 497h4v4h-4zM1631 497h4v4h-4zM1615 505h16v4h-16z"/>
<path fill="#3777fe" d="M1707 157h16v4h-16zM1699 161h32v4h-32zM1695 165h12v4h-12zM1723 165h12v4h-12zM1691 169h8v4h-8zM1727 169h12v4h-12zM1691 173h4v4h-4zM1731 173h8v4h-8zM1687 177h4v4h-4zM1735 177h8v4h-8zM1683 181h4v4h-4zM1735 181h8v4h-8zM1683 185h4v4h-4zM1739 185h4v4h-4zM1679 189h4v4h-4zM1739 189h4v4h-4zM1675 193h4v4h-4zM1739 193h4v4h-4zM1675 197h4v4h-4zM1739 197h4v4h-4zM1671 201h4v4h-4zM1739 201h4v4h-4zM1671 205h4v4h-4zM1739 205h4v4h-4zM1739 209h4v4h-4zM1667 213h4v4h-4zM1739 213h4v4h-4zM1667 217h4v4h-4zM1739 217h4v4h-4zM1667 221h4v4h-4zM1739 221h4v4h-4zM1667 225h4v4h-4zM1739 225h4v4h-4zM1735 233h4v4h-4zM1671 237h4v4h-4zM1735 237h4v4h-4zM1731 241h4v4h-4zM1675 245h4v4h-4zM1731 245h4v4h-4zM1679 249h4v4h-4zM1727 249h4v4h-4zM1683 253h4v4h-4zM1723 253h4v4h-4zM1687 257h8v4h-8zM1715 257h8v4h-8zM1695 261h20v4h-20zM1851 313h4v4h-4zM1839 317h16v4h-16zM1835 321h20v4h-20zM1827 325h20v4h-20zM1823 329h12v4h-12zM1815 333h12v4h-12zM1811 337h12v4h-12zM1803 341h12v4h-12zM1799 345h8v4h-8zM1791 349h12v4h-12zM1787 353h8v4h-8zM1779 357h8v4h-8zM1775 361h8v4h-8zM1771 365h8v4h-8zM1763 369h8v4h-8zM1759 373h8v4h-8zM1755 377h8v4h-8zM1747 381h8v4h-8zM1743 385h8v4h-8zM1735 389h8v4h-8zM1731 393h8v4h-8zM1727 397h8v4h-8zM1439 401h12v4h-12zM1479 401h8v4h-8zM1723 401h4v4h-4zM1423 405h8v4h-8zM1495 405h8v4h-8zM1719 405h4v4h-4zM1411 409h8v4h-8zM1507 409h4v4h-4zM1715 409h4v4h-4zM1515 413h4v4h-4zM1711 413h4v4h-4zM1523 417h4v4h-4zM1711 417h4v4h-4zM1527 421h4v4h-4zM1707 421h4v4h-4zM1703 425h4v4h-4zM1699 429h4v4h-4zM1539 433h4v4h-4zM1543 437h4v4h-4zM1547 441h4v4h-4zM1691 441h4v4h-4zM1551 445h4v4h-4zM1687 445h4v4h-4zM1555 449h4v4h-4zM1683 449h4v4h-4zM1559 453h4v4h-4zM1667 453h12v4h-12zM1571 457h16v4h-16zM1647 457h8v4h-8zM1599 461h4v4h-4zM1639 461h4v4h-4zM1607 465h4v4h-4zM1635 465h4v4h-4zM1611 469h4v4h-4zM1631 469h4v4h-4zM1611 473h8v4h-8zM1627 473h4v4h-4zM1615 477h4v4h-4zM1627 477h4v4h-4zM1615 481h4v4h-4zM1627 481h4v4h-4zM1615 501h4v4h-4zM1627 501h4v4h-4z"/>
<path fill="#337bfc" d="M1711 149h16v4h-16zM1703 153h32v4h-32zM1695 157h12v4h-12zM1723 157h20v4h-20zM1695 161h4v4h-4zM1731 161h12v4h-12zM1691 165h4v4h-4zM1735 165h12v4h-12zM1687 169h4v4h-4zM1739 169h8v4h-8zM1687 173h4v4h-4zM1739 173h8v4h-8zM1683 177h4v4h-4zM1743 177h4v4h-4zM1743 181h4v4h-4zM1679 185h4v4h-4zM1743 185h4v4h-4zM1675 189h4v4h-4zM1743 189h4v4h-4zM1743 193h4v4h-4zM1671 197h4v4h-4zM1743 197h4v4h-4zM1743 201h4v4h-4zM1667 205h4v4h-4zM1743 205h4v4h-4zM1667 209h4v4h-4zM1743 209h4v4h-4zM1743 213h4v4h-4zM1743 217h4v4h-4zM1743 221h4v4h-4zM1743 225h4v4h-4zM1667 229h4v4h-4zM1739 229h4v4h-4zM1667 233h4v4h-4zM1739 233h4v4h-4zM1739 237h4v4h-4zM1671 241h4v4h-4zM1735 241h4v4h-4zM1735 245h4v4h-4zM1675 249h4v4h-4zM1731 249h4v4h-4zM1679 253h4v4h-4zM1727 253h4v4h-4zM1683 257h4v4h-4zM1723 257h8v4h-8zM1691 261h4v4h-4zM1715 261h8v4h-8zM1699 265h20v4h-20zM1851 301h4v4h-4zM1843 305h12v4h-12zM1835 309h20v4h-20zM1831 313h20v4h-20zM1827 317h12v4h-12zM1823 321h12v4h-12zM1819 325h8v4h-8zM1811 329h12v4h-12zM1807 333h8v4h-8zM1799 337h12v4h-12zM1795 341h8v4h-8zM1787 345h12v4h-12zM1783 349h8v4h-8zM1775 353h12v4h-12zM1771 357h8v4h-8zM1767 361h8v4h-8zM1763 365h8v4h-8zM1755 369h8v4h-8zM1751 373h8v4h-8zM1743 377h12v4h-12zM1739 381h8v4h-8zM1735 385h8v4h-8zM1727 389h8v4h-8zM1723 393h8v4h-8zM1447 397h28v4h-28zM1719 397h8v4h-8zM1427 401h12v4h-12zM1487 401h8v4h-8zM1719 401h4v4h-4zM1411 405h12v4h-12zM1503 405h4v4h-4zM1715 405h4v4h-4zM1511 409h8v4h-8zM1711 409h4v4h-4zM1519 413h4v4h-4zM1707 413h4v4h-4zM1527 417h4v4h-4zM1707 417h4v4h-4zM1531 421h4v4h-4zM1703 421h4v4h-4zM1535 425h4v4h-4zM1699 425h4v4h-4zM1539 429h4v4h-4zM1543 433h4v4h-4zM1695 433h4v4h-4zM1691 437h4v4h-4zM1687 441h4v4h-4zM1683 445h4v4h-4zM1679 449h4v4h-4zM1563 453h4v4h-4zM1651 453h16v4h-16zM1587 457h12v4h-12zM1639 457h8v4h-8zM1603 461h8v4h-8zM1631 461h8v4h-8zM1611 465h8v4h-8zM1627 465h8v4h-8zM1615 469h16v4h-16zM1619 473h8v4h-8zM1619 477h8v4h-8zM1619 481h8v4h-8zM1615 485h4v4h-4zM1627 485h4v4h-4zM1615 489h4v4h-4zM1627 489h4v4h-4zM1615 493h4v4h-4zM1627 493h4v4h-4zM1615 497h4v4h-4zM1627 497h4v4h-4zM1619 501h8v4h-8z"/>
<path fill="#307ffb" d="M1711 141h24v4h-24zM1703 145h44v4h-44zM1699 149h12v4h-12zM1727 149h24v4h-24zM1695 153h8v4h-8zM1735 153h20v4h-20zM1691 157h4v4h-4zM1743 157h12v4h-12zM1687 161h8v4h-8zM1743 161h16v4h-16zM1687 165h4v4h-4zM1747 165h12v4h-12zM1683 169h4v4h-4zM1747 169h8v4h-8zM1683 173h4v4h-4zM1747 173h8v4h-8zM1679 177h4v4h-4zM1747 177h8v4h-8zM1679 181h4v4h-4zM1747 181h8v4h-8zM1675 185h4v4h-4zM1747 185h8v4h-8zM1747 189h8v4h-8zM1671 193h4v4h-4zM1747 193h4v4h-4zM1747 197h4v4h-4zM1667 201h4v4h-4zM1747 201h4v4h-4zM1747 205h4v4h-4zM1747 209h4v4h-4zM1663 213h4v4h-4zM1747 213h4v4h-4zM1663 217h4v4h-4zM1747 217h4v4h-4zM1663 221h4v4h-4zM1663 225h4v4h-4zM1663 229h4v4h-4zM1743 229h4v4h-4zM1743 233h4v4h-4zM1667 237h4v4h-4zM1743 237h4v4h-4zM1667 241h4v4h-4zM1739 241h4v4h-4zM1671 245h4v4h-4zM1739 245h4v4h-4zM1735 249h4v4h-4zM1675 253h4v4h-4zM1731 253h8v4h-8zM1679 257h4v4h-4zM1731 257h4v4h-4zM1683 261h8v4h-8zM1723 261h8v4h-8zM1691 265h8v4h-8zM1719 265h8v4h-8zM1699 269h20v4h-20zM1847 285h4v4h-4zM1843 289h8v4h-8zM1839 293h12v4h-12zM1835 297h20v4h-20zM1831 301h20v4h-20zM1827 305h16v4h-16zM1823 309h12v4h-12zM1819 313h12v4h-12zM1815 317h12v4h-12zM1811 321h12v4h-12zM1807 325h12v4h-12zM1803 329h8v4h-8zM1795 333h12v4h-12zM1791 337h8v4h-8zM1783 341h12v4h-12zM1779 345h8v4h-8zM1771 349h12v4h-12zM1767 353h8v4h-8zM1763 357h8v4h-8zM1759 361h8v4h-8zM1751 365h12v4h-12zM1747 369h8v4h-8zM1739 373h12v4h-12zM1735 377h8v4h-8zM1731 381h8v4h-8zM1723 385h12v4h-12zM1719 389h8v4h-8zM1719 393h4v4h-4zM1431 397h16v4h-16zM1475 397h8v4h-8zM1715 397h4v4h-4zM1411 401h16v4h-16zM1495 401h4v4h-4zM1711 401h8v4h-8zM1507 405h8v4h-8zM1707 405h8v4h-8zM1519 409h4v4h-4zM1707 409h4v4h-4zM1523 413h4v4h-4zM1703 413h4v4h-4zM1531 417h4v4h-4zM1703 417h4v4h-4zM1535 421h4v4h-4zM1699 421h4v4h-4zM1539 425h4v4h-4zM1695 425h4v4h-4zM1695 429h4v4h-4zM1691 433h4v4h-4zM1547 437h4v4h-4zM1687 437h4v4h-4zM1551 441h4v4h-4zM1555 445h4v4h-4zM1559 449h4v4h-4zM1667 449h12v4h-12zM1567 453h8v4h-8zM1643 453h8v4h-8zM1599 457h12v4h-12zM1631 457h8v4h-8zM1611 461h20v4h-20zM1619 465h8v4h-8zM1619 485h8v4h-8zM1619 489h8v4h-8zM1619 493h8v4h-8zM1619 497h8v4h-8z"/>
<path fill="#2e83f9" d="M1739 129h20v4h-20zM1711 133h52v4h-52zM1703 137h64v4h-64zM1699 141h12v4h-12zM1735 141h40v4h-40zM1695 145h8v4h-8zM1747 145h32v4h-32zM1691 149h8v4h-8zM1751 149h32v4h-32zM1687 153h8v4h-8zM1755 153h32v4h-32zM1687 157h4v4h-4zM1755 157h36v4h-36zM1683 161h4v4h-4zM1759 161h24v4h-24zM1683 165h4v4h-4zM1759 165h16v4h-16zM1679 169h4v4h-4zM1755 169h16v4h-16zM1679 173h4v4h-4zM1755 173h12v4h-12zM1675 177h4v4h-4zM1755 177h8v4h-8zM1675 181h4v4h-4zM1755 181h8v4h-8zM1671 185h4v4h-4zM1755 185h4v4h-4zM1671 189h4v4h-4zM1755 189h4v4h-4zM1667 193h4v4h-4zM1751 193h8v4h-8zM1667 197h4v4h-4zM1751 197h4v4h-4zM1751 201h4v4h-4zM1663 205h4v4h-4zM1751 205h4v4h-4zM1663 209h4v4h-4zM1751 209h4v4h-4zM1751 213h4v4h-4zM1747 221h4v4h-4zM1747 225h4v4h-4zM1747 229h4v4h-4zM1663 233h4v4h-4zM1747 233h4v4h-4zM1663 237h4v4h-4zM1747 237h4v4h-4zM1743 241h4v4h-4zM1667 245h4v4h-4zM1743 245h4v4h-4zM1671 249h4v4h-4zM1739 249h4v4h-4zM1739 253h4v4h-4zM1675 257h4v4h-4zM1735 257h4v4h-4zM1843 257h4v4h-4zM1679 261h4v4h-4zM1731 261h4v4h-4zM1843 261h4v4h-4zM1687 265h4v4h-4zM1727 265h4v4h-4zM1839 265h8v4h-8zM1691 269h8v4h-8zM1719 269h8v4h-8zM1839 269h8v4h-8zM1699 273h24v4h-24zM1835 273h16v4h-16zM1835 277h16v4h-16zM1831 281h20v4h-20zM1831 285h16v4h-16zM1827 289h16v4h-16zM1827 293h12v4h-12zM1823 297h12v4h-12zM1819 301h12v4h-12zM1819 305h8v4h-8zM1815 309h8v4h-8zM1811 313h8v4h-8zM1807 317h8v4h-8zM1803 321h8v4h-8zM1795 325h12v4h-12zM1791 329h12v4h-12zM1783 333h12v4h-12zM1779 337h12v4h-12zM1771 341h12v4h-12zM1767 345h12v4h-12zM1763 349h8v4h-8zM1755 353h12v4h-12zM1751 357h12v4h-12zM1747 361h12v4h-12zM1739 365h12v4h-12zM1735 369h12v4h-12zM1727 373h12v4h-12zM1723 377h12v4h-12zM1719 381h12v4h-12zM1715 385h8v4h-8zM1715 389h4v4h-4zM1435 393h36v4h-36zM1711 393h8v4h-8zM1407 397h24v4h-24zM1483 397h8v4h-8zM1707 397h8v4h-8zM1499 401h8v4h-8zM1707 401h4v4h-4zM1515 405h4v4h-4zM1703 405h4v4h-4zM1523 409h4v4h-4zM1703 409h4v4h-4zM1527 413h4v4h-4zM1699 413h4v4h-4zM1535 417h4v4h-4zM1699 417h4v4h-4zM1539 421h4v4h-4zM1695 421h4v4h-4zM1543 429h4v4h-4zM1691 429h4v4h-4zM1547 433h4v4h-4zM1687 433h4v4h-4zM1551 437h4v4h-4zM1683 441h4v4h-4zM1679 445h4v4h-4zM1643 449h24v4h-24zM1575 453h32v4h-32zM1631 453h12v4h-12zM1611 457h20v4h-20z"/>
<path fill="#2e86f7" d="M1727 117h12v4h-12zM1719 121h28v4h-28zM1711 125h40v4h-40zM1703 129h36v4h-36zM1699 133h12v4h-12zM1695 137h8v4h-8zM1691 141h8v4h-8zM1687 145h8v4h-8zM1687 149h4v4h-4zM1683 153h4v4h-4zM1683 157h4v4h-4zM1679 161h4v4h-4zM1783 161h12v4h-12zM1679 165h4v4h-4zM1775 165h24v4h-24zM1675 169h4v4h-4zM1771 169h28v4h-28zM1675 173h4v4h-4zM1767 173h36v4h-36zM1763 177h44v4h-44zM1671 181h4v4h-4zM1763 181h12v4h-12zM1759 185h12v4h-12zM1667 189h4v4h-4zM1759 189h8v4h-8zM1759 193h4v4h-4zM1663 197h4v4h-4zM1755 197h8v4h-8zM1663 201h4v4h-4zM1755 201h4v4h-4zM1755 205h4v4h-4zM1659 209h4v4h-4zM1755 209h4v4h-4zM1659 213h4v4h-4zM1755 213h4v4h-4zM1659 217h4v4h-4zM1751 217h4v4h-4zM1659 221h4v4h-4zM1751 221h4v4h-4zM1831 221h4v4h-4zM1659 225h4v4h-4zM1751 225h4v4h-4zM1831 225h4v4h-4zM1659 229h4v4h-4zM1751 229h4v4h-4zM1831 229h4v4h-4zM1659 233h4v4h-4zM1751 233h4v4h-4zM1831 233h8v4h-8zM1751 237h4v4h-4zM1827 237h12v4h-12zM1663 241h4v4h-4zM1747 241h4v4h-4zM1827 241h16v4h-16zM1663 245h4v4h-4zM1747 245h4v4h-4zM1827 245h16v4h-16zM1667 249h4v4h-4zM1743 249h8v4h-8zM1827 249h16v4h-16zM1671 253h4v4h-4zM1743 253h4v4h-4zM1827 253h16v4h-16zM1739 257h4v4h-4zM1827 257h16v4h-16zM1675 261h4v4h-4zM1735 261h8v4h-8zM1827 261h16v4h-16zM1679 265h8v4h-8zM1731 265h8v4h-8zM1827 265h12v4h-12zM1683 269h8v4h-8zM1727 269h8v4h-8zM1823 269h16v4h-16zM1691 273h8v4h-8zM1723 273h8v4h-8zM1823 273h12v4h-12zM1695 277h32v4h-32zM1823 277h12v4h-12zM1703 281h16v4h-16zM1819 281h12v4h-12zM1819 285h12v4h-12zM1819 289h8v4h-8zM1815 293h12v4h-12zM1811 297h12v4h-12zM1811 301h8v4h-8zM1807 305h12v4h-12zM1803 309h12v4h-12zM1799 313h12v4h-12zM1795 317h12v4h-12zM1791 321h12v4h-12zM1783 325h12v4h-12zM1779 329h12v4h-12zM1771 333h12v4h-12zM1767 337h12v4h-12zM1759 341h12v4h-12zM1755 345h12v4h-12zM1747 349h16v4h-16zM1743 353h12v4h-12zM1735 357h16v4h-16zM1731 361h16v4h-16zM1727 365h12v4h-12zM1719 369h16v4h-16zM1715 373h12v4h-12zM1711 377h12v4h-12zM1711 381h8v4h-8zM1707 385h8v4h-8zM1707 389h8v4h-8zM1407 393h28v4h-28zM1471 393h8v4h-8zM1703 393h8v4h-8zM1491 397h8v4h-8zM1703 397h4v4h-4zM1507 401h8v4h-8zM1699 401h8v4h-8zM1519 405h4v4h-4zM1699 405h4v4h-4zM1527 409h4v4h-4zM1695 409h8v4h-8zM1531 413h8v4h-8zM1695 413h4v4h-4zM1539 417h4v4h-4zM1695 417h4v4h-4zM1691 421h4v4h-4zM1543 425h4v4h-4zM1691 425h4v4h-4zM1547 429h4v4h-4zM1687 429h4v4h-4zM1683 433h4v4h-4zM1683 437h4v4h-4zM1555 441h4v4h-4zM1679 441h4v4h-4zM1559 445h4v4h-4zM1647 445h32v4h-32zM1563 449h4v4h-4zM1631 449h12v4h-12zM1607 453h24v4h-24z"/>
<path fill="#2d8af5" d="M1715 109h8v4h-8zM1715 113h16v4h-16zM1711 117h16v4h-16zM1703 121h16v4h-16zM1699 125h12v4h-12zM1695 129h8v4h-8zM1691 133h8v4h-8zM1691 137h4v4h-4zM1687 141h4v4h-4zM1683 145h4v4h-4zM1683 149h4v4h-4zM1679 153h4v4h-4zM1679 157h4v4h-4zM1675 161h4v4h-4zM1675 165h4v4h-4zM1671 173h4v4h-4zM1671 177h4v4h-4zM1667 181h4v4h-4zM1775 181h36v4h-36zM1667 185h4v4h-4zM1771 185h40v4h-40zM1663 189h4v4h-4zM1767 189h16v4h-16zM1791 189h24v4h-24zM1663 193h4v4h-4zM1763 193h8v4h-8zM1803 193h16v4h-16zM1763 197h4v4h-4zM1807 197h12v4h-12zM1659 201h4v4h-4zM1759 201h8v4h-8zM1811 201h12v4h-12zM1659 205h4v4h-4zM1759 205h4v4h-4zM1815 205h12v4h-12zM1759 209h4v4h-4zM1815 209h12v4h-12zM1759 213h4v4h-4zM1819 213h12v4h-12zM1755 217h8v4h-8zM1819 217h12v4h-12zM1655 221h4v4h-4zM1755 221h4v4h-4zM1819 221h12v4h-12zM1755 225h4v4h-4zM1819 225h12v4h-12zM1755 229h4v4h-4zM1819 229h12v4h-12zM1755 233h4v4h-4zM1819 233h12v4h-12zM1659 237h4v4h-4zM1755 237h4v4h-4zM1815 237h12v4h-12zM1659 241h4v4h-4zM1751 241h8v4h-8zM1815 241h12v4h-12zM1751 245h4v4h-4zM1815 245h12v4h-12zM1663 249h4v4h-4zM1751 249h4v4h-4zM1815 249h12v4h-12zM1667 253h4v4h-4zM1747 253h4v4h-4zM1815 253h12v4h-12zM1671 257h4v4h-4zM1743 257h8v4h-8zM1815 257h12v4h-12zM1743 261h4v4h-4zM1815 261h12v4h-12zM1675 265h4v4h-4zM1739 265h4v4h-4zM1815 265h12v4h-12zM1679 269h4v4h-4zM1735 269h8v4h-8zM1815 269h8v4h-8zM1683 273h8v4h-8zM1731 273h8v4h-8zM1811 273h12v4h-12zM1687 277h8v4h-8zM1727 277h8v4h-8zM1811 277h12v4h-12zM1691 281h12v4h-12zM1719 281h16v4h-16zM1811 281h8v4h-8zM1699 285h28v4h-28zM1807 285h12v4h-12zM1707 289h16v4h-16zM1807 289h12v4h-12zM1803 293h12v4h-12zM1803 297h8v4h-8zM1799 301h12v4h-12zM1795 305h12v4h-12zM1791 309h12v4h-12zM1787 313h12v4h-12zM1783 317h12v4h-12zM1775 321h16v4h-16zM1767 325h16v4h-16zM1763 329h16v4h-16zM1755 333h16v4h-16zM1747 337h20v4h-20zM1743 341h16v4h-16zM1735 345h20v4h-20zM1727 349h20v4h-20zM1723 353h20v4h-20zM1715 357h20v4h-20zM1711 361h20v4h-20zM1707 365h20v4h-20zM1703 369h16v4h-16zM1699 373h16v4h-16zM1699 377h12v4h-12zM1699 381h12v4h-12zM1699 385h8v4h-8zM1403 389h68v4h-68zM1695 389h12v4h-12zM1479 393h12v4h-12zM1695 393h8v4h-8zM1499 397h8v4h-8zM1695 397h8v4h-8zM1515 401h8v4h-8zM1695 401h4v4h-4zM1523 405h8v4h-8zM1691 405h8v4h-8zM1531 409h4v4h-4zM1691 409h4v4h-4zM1539 413h4v4h-4zM1691 413h4v4h-4zM1687 417h8v4h-8zM1543 421h4v4h-4zM1687 421h4v4h-4zM1547 425h4v4h-4zM1687 425h4v4h-4zM1683 429h4v4h-4zM1551 433h4v4h-4zM1679 433h4v4h-4zM1555 437h4v4h-4zM1679 437h4v4h-4zM1559 441h4v4h-4zM1667 441h12v4h-12zM1563 445h4v4h-4zM1627 445h20v4h-20zM1567 449h64v4h-64z"/>
<path fill="#2d8df2" d="M1707 105h8v4h-8zM1707 109h8v4h-8zM1703 113h12v4h-12zM1699 117h12v4h-12zM1699 121h4v4h-4zM1695 125h4v4h-4zM1691 129h4v4h-4zM1687 133h4v4h-4zM1683 137h8v4h-8zM1683 141h4v4h-4zM1679 145h4v4h-4zM1679 149h4v4h-4zM1675 153h4v4h-4zM1675 157h4v4h-4zM1671 165h4v4h-4zM1671 169h4v4h-4zM1667 177h4v4h-4zM1663 185h4v4h-4zM1783 189h8v4h-8zM1659 193h4v4h-4zM1771 193h32v4h-32zM1659 197h4v4h-4zM1767 197h40v4h-40zM1767 201h8v4h-8zM1791 201h20v4h-20zM1655 205h4v4h-4zM1763 205h8v4h-8zM1799 205h16v4h-16zM1655 209h4v4h-4zM1763 209h4v4h-4zM1803 209h12v4h-12zM1655 213h4v4h-4zM1763 213h4v4h-4zM1803 213h16v4h-16zM1655 217h4v4h-4zM1763 217h4v4h-4zM1803 217h16v4h-16zM1759 221h8v4h-8zM1807 221h12v4h-12zM1655 225h4v4h-4zM1759 225h8v4h-8zM1807 225h12v4h-12zM1655 229h4v4h-4zM1759 229h8v4h-8zM1807 229h12v4h-12zM1655 233h4v4h-4zM1759 233h8v4h-8zM1807 233h12v4h-12zM1655 237h4v4h-4zM1759 237h8v4h-8zM1807 237h8v4h-8zM1759 241h4v4h-4zM1807 241h8v4h-8zM1659 245h4v4h-4zM1755 245h8v4h-8zM1807 245h8v4h-8zM1755 249h8v4h-8zM1803 249h12v4h-12zM1663 253h4v4h-4zM1751 253h8v4h-8zM1803 253h12v4h-12zM1667 257h4v4h-4zM1751 257h8v4h-8zM1803 257h12v4h-12zM1671 261h4v4h-4zM1747 261h8v4h-8zM1803 261h12v4h-12zM1671 265h4v4h-4zM1743 265h8v4h-8zM1803 265h12v4h-12zM1675 269h4v4h-4zM1743 269h8v4h-8zM1803 269h12v4h-12zM1679 273h4v4h-4zM1739 273h8v4h-8zM1799 273h12v4h-12zM1683 277h4v4h-4zM1735 277h12v4h-12zM1799 277h12v4h-12zM1687 281h4v4h-4zM1735 281h8v4h-8zM1799 281h12v4h-12zM1691 285h8v4h-8zM1727 285h16v4h-16zM1795 285h12v4h-12zM1691 289h16v4h-16zM1723 289h16v4h-16zM1795 289h12v4h-12zM1699 293h36v4h-36zM1791 293h12v4h-12zM1703 297h32v4h-32zM1787 297h16v4h-16zM1707 301h24v4h-24zM1787 301h12v4h-12zM1715 305h8v4h-8zM1779 305h16v4h-16zM1775 309h16v4h-16zM1767 313h20v4h-20zM1755 317h28v4h-28zM1743 321h32v4h-32zM1727 325h40v4h-40zM1719 329h44v4h-44zM1715 333h40v4h-40zM1711 337h36v4h-36zM1703 341h40v4h-40zM1699 345h36v4h-36zM1691 349h36v4h-36zM1683 353h40v4h-40zM1679 357h36v4h-36zM1675 361h36v4h-36zM1675 365h32v4h-32zM1675 369h28v4h-28zM1679 373h20v4h-20zM1683 377h16v4h-16zM1403 381h4v4h-4zM1683 381h16v4h-16zM1403 385h56v4h-56zM1683 385h16v4h-16zM1471 389h8v4h-8zM1687 389h8v4h-8zM1491 393h8v4h-8zM1687 393h8v4h-8zM1507 397h8v4h-8zM1687 397h8v4h-8zM1523 401h4v4h-4zM1687 401h8v4h-8zM1531 405h4v4h-4zM1687 405h4v4h-4zM1535 409h8v4h-8zM1687 409h4v4h-4zM1543 413h4v4h-4zM1683 413h8v4h-8zM1543 417h4v4h-4zM1683 417h4v4h-4zM1547 421h4v4h-4zM1683 421h4v4h-4zM1551 425h4v4h-4zM1679 425h8v4h-8zM1551 429h4v4h-4zM1679 429h4v4h-4zM1555 433h4v4h-4zM1675 433h4v4h-4zM1559 437h4v4h-4zM1667 437h12v4h-12zM1619 441h48v4h-48zM1567 445h4v4h-4zM1583 445h44v4h-44z"/>
<path fill="#2b91ef" d="M1703 101h4v4h-4zM1703 105h4v4h-4zM1699 109h8v4h-8zM1695 113h8v4h-8zM1695 117h4v4h-4zM1691 121h8v4h-8zM1687 125h8v4h-8zM1687 129h4v4h-4zM1683 133h4v4h-4zM1679 141h4v4h-4zM1675 145h4v4h-4zM1675 149h4v4h-4zM1671 157h4v4h-4zM1671 161h4v4h-4zM1667 169h4v4h-4zM1667 173h4v4h-4zM1663 181h4v4h-4zM1659 189h4v4h-4zM1655 197h4v4h-4zM1655 201h4v4h-4zM1775 201h16v4h-16zM1771 205h28v4h-28zM1767 209h36v4h-36zM1651 213h4v4h-4zM1767 213h36v4h-36zM1651 217h4v4h-4zM1767 217h12v4h-12zM1787 217h16v4h-16zM1651 221h4v4h-4zM1767 221h8v4h-8zM1791 221h16v4h-16zM1651 225h4v4h-4zM1767 225h8v4h-8zM1791 225h16v4h-16zM1651 229h4v4h-4zM1767 229h8v4h-8zM1791 229h16v4h-16zM1767 233h8v4h-8zM1791 233h16v4h-16zM1767 237h8v4h-8zM1791 237h16v4h-16zM1655 241h4v4h-4zM1763 241h12v4h-12zM1791 241h16v4h-16zM1655 245h4v4h-4zM1763 245h12v4h-12zM1791 245h16v4h-16zM1659 249h4v4h-4zM1763 249h12v4h-12zM1791 249h12v4h-12zM1659 253h4v4h-4zM1759 253h12v4h-12zM1791 253h12v4h-12zM1663 257h4v4h-4zM1759 257h8v4h-8zM1791 257h12v4h-12zM1667 261h4v4h-4zM1755 261h12v4h-12zM1787 261h16v4h-16zM1667 265h4v4h-4zM1751 265h12v4h-12zM1787 265h16v4h-16zM1671 269h4v4h-4zM1751 269h8v4h-8zM1787 269h16v4h-16zM1675 273h4v4h-4zM1747 273h12v4h-12zM1787 273h12v4h-12zM1679 277h4v4h-4zM1747 277h12v4h-12zM1783 277h16v4h-16zM1679 281h8v4h-8zM1743 281h16v4h-16zM1783 281h16v4h-16zM1683 285h8v4h-8zM1743 285h16v4h-16zM1779 285h16v4h-16zM1687 289h4v4h-4zM1739 289h20v4h-20zM1775 289h20v4h-20zM1687 293h12v4h-12zM1735 293h56v4h-56zM1691 297h12v4h-12zM1735 297h52v4h-52zM1691 301h16v4h-16zM1731 301h56v4h-56zM1691 305h24v4h-24zM1723 305h56v4h-56zM1695 309h80v4h-80zM1695 313h72v4h-72zM1695 317h60v4h-60zM1691 321h52v4h-52zM1691 325h36v4h-36zM1687 329h32v4h-32zM1683 333h32v4h-32zM1679 337h32v4h-32zM1675 341h28v4h-28zM1667 345h32v4h-32zM1663 349h28v4h-28zM1659 353h24v4h-24zM1655 357h24v4h-24zM1655 361h20v4h-20zM1655 365h20v4h-20zM1655 369h20v4h-20zM1399 373h4v4h-4zM1655 373h24v4h-24zM1403 377h12v4h-12zM1659 377h24v4h-24zM1407 381h40v4h-40zM1663 381h20v4h-20zM1459 385h12v4h-12zM1667 385h16v4h-16zM1479 389h8v4h-8zM1671 389h16v4h-16zM1499 393h8v4h-8zM1675 393h12v4h-12zM1515 397h12v4h-12zM1675 397h12v4h-12zM1527 401h8v4h-8zM1679 401h8v4h-8zM1535 405h8v4h-8zM1679 405h8v4h-8zM1543 409h4v4h-4zM1679 409h8v4h-8zM1547 413h4v4h-4zM1679 413h4v4h-4zM1547 417h4v4h-4zM1679 417h4v4h-4zM1551 421h4v4h-4zM1675 421h8v4h-8zM1675 425h4v4h-4zM1555 429h4v4h-4zM1671 429h8v4h-8zM1559 433h4v4h-4zM1627 433h48v4h-48zM1611 437h56v4h-56zM1563 441h4v4h-4zM1591 441h28v4h-28zM1571 445h12v4h-12z"/>
<path fill="#2994ed" d="M1695 101h8v4h-8zM1695 105h8v4h-8zM1695 109h4v4h-4zM1691 113h4v4h-4zM1691 117h4v4h-4zM1687 121h4v4h-4zM1683 125h4v4h-4zM1683 129h4v4h-4zM1679 133h4v4h-4zM1679 137h4v4h-4zM1675 141h4v4h-4zM1671 149h4v4h-4zM1671 153h4v4h-4zM1667 161h4v4h-4zM1667 165h4v4h-4zM1663 173h4v4h-4zM1663 177h4v4h-4zM1659 181h4v4h-4zM1659 185h4v4h-4zM1655 193h4v4h-4zM1651 201h4v4h-4zM1651 205h4v4h-4zM1651 209h4v4h-4zM1779 217h8v4h-8zM1775 221h16v4h-16zM1775 225h16v4h-16zM1775 229h16v4h-16zM1651 233h4v4h-4zM1775 233h16v4h-16zM1651 237h4v4h-4zM1775 237h16v4h-16zM1651 241h4v4h-4zM1775 241h16v4h-16zM1775 245h16v4h-16zM1655 249h4v4h-4zM1775 249h16v4h-16zM1655 253h4v4h-4zM1771 253h20v4h-20zM1659 257h4v4h-4zM1767 257h24v4h-24zM1663 261h4v4h-4zM1767 261h20v4h-20zM1663 265h4v4h-4zM1763 265h24v4h-24zM1667 269h4v4h-4zM1759 269h28v4h-28zM1671 273h4v4h-4zM1759 273h28v4h-28zM1671 277h8v4h-8zM1759 277h24v4h-24zM1675 281h4v4h-4zM1759 281h24v4h-24zM1675 285h8v4h-8zM1759 285h20v4h-20zM1679 289h8v4h-8zM1759 289h16v4h-16zM1679 293h8v4h-8zM1679 297h12v4h-12zM1683 301h8v4h-8zM1683 305h8v4h-8zM1683 309h12v4h-12zM1683 313h12v4h-12zM1679 317h16v4h-16zM1679 321h12v4h-12zM1675 325h16v4h-16zM1671 329h16v4h-16zM1667 333h16v4h-16zM1663 337h16v4h-16zM1659 341h16v4h-16zM1655 345h12v4h-12zM1651 349h12v4h-12zM1647 353h12v4h-12zM1643 357h12v4h-12zM1639 361h16v4h-16zM1399 365h4v4h-4zM1639 365h16v4h-16zM1399 369h12v4h-12zM1635 369h20v4h-20zM1403 373h20v4h-20zM1635 373h20v4h-20zM1415 377h28v4h-28zM1635 377h24v4h-24zM1447 381h16v4h-16zM1635 381h28v4h-28zM1471 385h8v4h-8zM1635 385h32v4h-32zM1487 389h8v4h-8zM1639 389h32v4h-32zM1507 393h16v4h-16zM1643 393h32v4h-32zM1527 397h8v4h-8zM1651 397h24v4h-24zM1535 401h8v4h-8zM1659 401h20v4h-20zM1543 405h4v4h-4zM1663 405h16v4h-16zM1547 409h4v4h-4zM1667 409h12v4h-12zM1551 413h4v4h-4zM1667 413h12v4h-12zM1551 417h4v4h-4zM1667 417h12v4h-12zM1555 421h4v4h-4zM1631 421h12v4h-12zM1663 421h12v4h-12zM1555 425h4v4h-4zM1619 425h56v4h-56zM1559 429h4v4h-4zM1615 429h56v4h-56zM1563 433h4v4h-4zM1603 433h24v4h-24zM1563 437h8v4h-8zM1591 437h20v4h-20zM1567 441h24v4h-24z"/>
<path fill="#2798ea" d="M1691 97h4v4h-4zM1691 101h4v4h-4zM1691 105h4v4h-4zM1687 109h8v4h-8zM1687 113h4v4h-4zM1687 117h4v4h-4zM1683 121h4v4h-4zM1679 129h4v4h-4zM1675 133h4v4h-4zM1675 137h4v4h-4zM1671 145h4v4h-4zM1667 157h4v4h-4zM1663 165h4v4h-4zM1663 169h4v4h-4zM1659 177h4v4h-4zM1655 185h4v4h-4zM1655 189h4v4h-4zM1651 197h4v4h-4zM1647 209h4v4h-4zM1647 213h4v4h-4zM1647 217h4v4h-4zM1647 221h4v4h-4zM1647 225h4v4h-4zM1647 229h4v4h-4zM1647 233h4v4h-4zM1647 237h4v4h-4zM1651 245h4v4h-4zM1651 249h4v4h-4zM1655 257h4v4h-4zM1659 261h4v4h-4zM1659 265h4v4h-4zM1663 269h4v4h-4zM1667 273h4v4h-4zM1667 277h4v4h-4zM1671 281h4v4h-4zM1671 285h4v4h-4zM1671 289h8v4h-8zM1671 293h8v4h-8zM1675 297h4v4h-4zM1675 301h8v4h-8zM1675 305h8v4h-8zM1671 309h12v4h-12zM1671 313h12v4h-12zM1667 317h12v4h-12zM1667 321h12v4h-12zM1663 325h12v4h-12zM1659 329h12v4h-12zM1655 333h12v4h-12zM1647 337h16v4h-16zM1643 341h16v4h-16zM1639 345h16v4h-16zM1395 349h4v4h-4zM1631 349h20v4h-20zM1395 353h8v4h-8zM1627 353h20v4h-20zM1395 357h12v4h-12zM1619 357h24v4h-24zM1399 361h12v4h-12zM1611 361h28v4h-28zM1403 365h16v4h-16zM1603 365h36v4h-36zM1411 369h16v4h-16zM1603 369h32v4h-32zM1423 373h20v4h-20zM1603 373h32v4h-32zM1443 377h16v4h-16zM1603 377h32v4h-32zM1463 381h8v4h-8zM1607 381h28v4h-28zM1479 385h8v4h-8zM1607 385h28v4h-28zM1495 389h16v4h-16zM1607 389h32v4h-32zM1523 393h12v4h-12zM1611 393h32v4h-32zM1535 397h12v4h-12zM1611 397h40v4h-40zM1543 401h8v4h-8zM1611 401h48v4h-48zM1547 405h8v4h-8zM1611 405h52v4h-52zM1551 409h8v4h-8zM1611 409h56v4h-56zM1555 413h4v4h-4zM1611 413h56v4h-56zM1555 417h8v4h-8zM1611 417h56v4h-56zM1559 421h4v4h-4zM1607 421h24v4h-24zM1643 421h20v4h-20zM1559 425h8v4h-8zM1603 425h16v4h-16zM1563 429h4v4h-4zM1599 429h16v4h-16zM1567 433h4v4h-4zM1591 433h12v4h-12zM1571 437h20v4h-20z"/>
<path fill="#259be8" d="M1687 97h4v4h-4zM1687 101h4v4h-4zM1687 105h4v4h-4zM1683 109h4v4h-4zM1683 113h4v4h-4zM1683 117h4v4h-4zM1679 121h4v4h-4zM1679 125h4v4h-4zM1675 129h4v4h-4zM1671 137h4v4h-4zM1671 141h4v4h-4zM1667 149h4v4h-4zM1667 153h4v4h-4zM1663 161h4v4h-4zM1659 173h4v4h-4zM1655 181h4v4h-4zM1651 189h4v4h-4zM1651 193h4v4h-4zM1647 201h4v4h-4zM1647 205h4v4h-4zM1643 217h4v4h-4zM1643 221h4v4h-4zM1643 225h4v4h-4zM1643 229h4v4h-4zM1647 241h4v4h-4zM1647 245h4v4h-4zM1647 249h4v4h-4zM1651 253h4v4h-4zM1651 257h4v4h-4zM1655 261h4v4h-4zM1655 265h4v4h-4zM1659 269h4v4h-4zM1659 273h8v4h-8zM1663 277h4v4h-4zM1663 281h8v4h-8zM1663 285h8v4h-8zM1667 289h4v4h-4zM1667 293h4v4h-4zM1667 297h8v4h-8zM1667 301h8v4h-8zM1663 305h12v4h-12zM1663 309h8v4h-8zM1659 313h12v4h-12zM1659 317h8v4h-8zM1655 321h12v4h-12zM1651 325h12v4h-12zM1395 329h4v4h-4zM1647 329h12v4h-12zM1395 333h4v4h-4zM1639 333h16v4h-16zM1395 337h8v4h-8zM1635 337h12v4h-12zM1395 341h8v4h-8zM1623 341h20v4h-20zM1395 345h12v4h-12zM1583 345h56v4h-56zM1399 349h12v4h-12zM1575 349h56v4h-56zM1403 353h12v4h-12zM1571 353h56v4h-56zM1407 357h12v4h-12zM1571 357h48v4h-48zM1411 361h16v4h-16zM1571 361h40v4h-40zM1419 365h16v4h-16zM1571 365h32v4h-32zM1427 369h16v4h-16zM1571 369h32v4h-32zM1443 373h12v4h-12zM1571 373h32v4h-32zM1459 377h8v4h-8zM1575 377h28v4h-28zM1471 381h8v4h-8zM1575 381h32v4h-32zM1487 385h8v4h-8zM1579 385h28v4h-28zM1511 389h32v4h-32zM1587 389h20v4h-20zM1535 393h20v4h-20zM1591 393h20v4h-20zM1547 397h12v4h-12zM1595 397h16v4h-16zM1551 401h12v4h-12zM1595 401h16v4h-16zM1555 405h8v4h-8zM1599 405h12v4h-12zM1559 409h8v4h-8zM1599 409h12v4h-12zM1559 413h8v4h-8zM1599 413h12v4h-12zM1563 417h4v4h-4zM1595 417h16v4h-16zM1563 421h8v4h-8zM1595 421h12v4h-12zM1567 425h8v4h-8zM1591 425h12v4h-12zM1567 429h32v4h-32zM1571 433h20v4h-20z"/>
<path fill="#249ee6" d="M1683 97h4v4h-4zM1683 101h4v4h-4zM1683 105h4v4h-4zM1679 113h4v4h-4zM1679 117h4v4h-4zM1675 121h4v4h-4zM1675 125h4v4h-4zM1671 133h4v4h-4zM1667 141h4v4h-4zM1667 145h4v4h-4zM1663 153h4v4h-4zM1663 157h4v4h-4zM1659 165h4v4h-4zM1659 169h4v4h-4zM1655 177h4v4h-4zM1651 185h4v4h-4zM1647 193h4v4h-4zM1647 197h4v4h-4zM1643 201h4v4h-4zM1643 205h4v4h-4zM1643 209h4v4h-4zM1643 213h4v4h-4zM1643 233h4v4h-4zM1643 237h4v4h-4zM1643 241h4v4h-4zM1643 245h4v4h-4zM1643 249h4v4h-4zM1647 253h4v4h-4zM1647 257h4v4h-4zM1647 261h8v4h-8zM1651 265h4v4h-4zM1651 269h8v4h-8zM1655 273h4v4h-4zM1395 277h4v4h-4zM1655 277h8v4h-8zM1395 281h4v4h-4zM1659 281h4v4h-4zM1395 285h8v4h-8zM1659 285h4v4h-4zM1395 289h8v4h-8zM1659 289h8v4h-8zM1395 293h12v4h-12zM1659 293h8v4h-8zM1395 297h12v4h-12zM1659 297h8v4h-8zM1395 301h12v4h-12zM1655 301h12v4h-12zM1395 305h16v4h-16zM1655 305h8v4h-8zM1395 309h16v4h-16zM1651 309h12v4h-12zM1395 313h16v4h-16zM1651 313h8v4h-8zM1395 317h20v4h-20zM1647 317h12v4h-12zM1395 321h20v4h-20zM1643 321h12v4h-12zM1395 325h20v4h-20zM1635 325h16v4h-16zM1399 329h20v4h-20zM1631 329h16v4h-16zM1399 333h20v4h-20zM1575 333h28v4h-28zM1611 333h28v4h-28zM1403 337h16v4h-16zM1567 337h68v4h-68zM1403 341h20v4h-20zM1563 341h60v4h-60zM1407 345h16v4h-16zM1563 345h20v4h-20zM1411 349h16v4h-16zM1563 349h12v4h-12zM1415 353h16v4h-16zM1559 353h12v4h-12zM1419 357h16v4h-16zM1559 357h12v4h-12zM1427 361h12v4h-12zM1559 361h12v4h-12zM1435 365h12v4h-12zM1559 365h12v4h-12zM1443 369h12v4h-12zM1559 369h12v4h-12zM1455 373h8v4h-8zM1555 373h16v4h-16zM1467 377h8v4h-8zM1555 377h20v4h-20zM1479 381h8v4h-8zM1547 381h28v4h-28zM1495 385h84v4h-84zM1543 389h44v4h-44zM1555 393h36v4h-36zM1559 397h36v4h-36zM1563 401h32v4h-32zM1563 405h36v4h-36zM1567 409h32v4h-32zM1567 413h32v4h-32zM1567 417h28v4h-28zM1571 421h24v4h-24zM1575 425h16v4h-16z"/>
<path fill="#22a1e4" d="M1679 97h4v4h-4zM1679 101h4v4h-4zM1679 105h4v4h-4zM1679 109h4v4h-4zM1675 113h4v4h-4zM1675 117h4v4h-4zM1671 125h4v4h-4zM1671 129h4v4h-4zM1667 137h4v4h-4zM1663 145h4v4h-4zM1663 149h4v4h-4zM1659 157h4v4h-4zM1659 161h4v4h-4zM1655 169h4v4h-4zM1655 173h4v4h-4zM1651 177h4v4h-4zM1651 181h4v4h-4zM1647 189h4v4h-4zM1643 197h4v4h-4zM1639 205h4v4h-4zM1639 209h4v4h-4zM1639 213h4v4h-4zM1639 217h4v4h-4zM1639 221h4v4h-4zM1639 225h4v4h-4zM1639 229h4v4h-4zM1639 233h4v4h-4zM1639 237h4v4h-4zM1639 241h4v4h-4zM1639 245h4v4h-4zM1639 249h4v4h-4zM1643 253h4v4h-4zM1643 257h4v4h-4zM1399 261h4v4h-4zM1643 261h4v4h-4zM1399 265h4v4h-4zM1647 265h4v4h-4zM1399 269h8v4h-8zM1647 269h4v4h-4zM1399 273h16v4h-16zM1647 273h8v4h-8zM1399 277h20v4h-20zM1651 277h4v4h-4zM1399 281h28v4h-28zM1651 281h8v4h-8zM1403 285h36v4h-36zM1651 285h8v4h-8zM1403 289h40v4h-40zM1651 289h8v4h-8zM1407 293h40v4h-40zM1651 293h8v4h-8zM1407 297h44v4h-44zM1647 297h12v4h-12zM1407 301h44v4h-44zM1647 301h8v4h-8zM1411 305h40v4h-40zM1643 305h12v4h-12zM1411 309h40v4h-40zM1643 309h8v4h-8zM1411 313h40v4h-40zM1639 313h12v4h-12zM1415 317h32v4h-32zM1559 317h8v4h-8zM1635 317h12v4h-12zM1415 321h32v4h-32zM1551 321h40v4h-40zM1627 321h16v4h-16zM1415 325h28v4h-28zM1551 325h84v4h-84zM1419 329h24v4h-24zM1551 329h80v4h-80zM1419 333h20v4h-20zM1551 333h24v4h-24zM1603 333h8v4h-8zM1419 337h20v4h-20zM1551 337h16v4h-16zM1423 341h16v4h-16zM1551 341h12v4h-12zM1423 345h16v4h-16zM1551 345h12v4h-12zM1427 349h12v4h-12zM1551 349h12v4h-12zM1431 353h12v4h-12zM1551 353h8v4h-8zM1435 357h12v4h-12zM1551 357h8v4h-8zM1439 361h12v4h-12zM1551 361h8v4h-8zM1447 365h8v4h-8zM1547 365h12v4h-12zM1455 369h8v4h-8zM1547 369h12v4h-12zM1463 373h8v4h-8zM1543 373h12v4h-12zM1475 377h4v4h-4zM1539 377h16v4h-16zM1487 381h8v4h-8zM1519 381h28v4h-28z"/>
<path fill="#20a4e3" d="M1675 97h4v4h-4zM1675 101h4v4h-4zM1675 105h4v4h-4zM1675 109h4v4h-4zM1671 117h4v4h-4zM1671 121h4v4h-4zM1667 129h4v4h-4zM1667 133h4v4h-4zM1663 141h4v4h-4zM1659 153h4v4h-4zM1655 165h4v4h-4zM1651 173h4v4h-4zM1647 181h4v4h-4zM1647 185h4v4h-4zM1643 189h4v4h-4zM1643 193h4v4h-4zM1639 197h4v4h-4zM1639 201h4v4h-4zM1635 209h4v4h-4zM1635 213h4v4h-4zM1635 217h4v4h-4zM1635 221h4v4h-4zM1635 225h4v4h-4zM1635 229h4v4h-4zM1635 233h4v4h-4zM1635 237h4v4h-4zM1635 241h4v4h-4zM1635 245h4v4h-4zM1635 249h4v4h-4zM1403 253h4v4h-4zM1639 253h4v4h-4zM1399 257h12v4h-12zM1639 257h4v4h-4zM1403 261h16v4h-16zM1639 261h4v4h-4zM1403 265h24v4h-24zM1639 265h8v4h-8zM1407 269h36v4h-36zM1639 269h8v4h-8zM1415 273h40v4h-40zM1643 273h4v4h-4zM1419 277h40v4h-40zM1643 277h8v4h-8zM1427 281h36v4h-36zM1643 281h8v4h-8zM1439 285h28v4h-28zM1643 285h8v4h-8zM1443 289h24v4h-24zM1643 289h8v4h-8zM1447 293h20v4h-20zM1639 293h12v4h-12zM1451 297h16v4h-16zM1535 297h20v4h-20zM1639 297h8v4h-8zM1451 301h12v4h-12zM1531 301h36v4h-36zM1635 301h12v4h-12zM1451 305h12v4h-12zM1527 305h48v4h-48zM1631 305h12v4h-12zM1451 309h12v4h-12zM1527 309h64v4h-64zM1627 309h16v4h-16zM1451 313h8v4h-8zM1527 313h112v4h-112zM1447 317h12v4h-12zM1531 317h28v4h-28zM1567 317h68v4h-68zM1447 321h8v4h-8zM1531 321h20v4h-20zM1591 321h36v4h-36zM1443 325h12v4h-12zM1535 325h16v4h-16zM1443 329h8v4h-8zM1539 329h12v4h-12zM1439 333h12v4h-12zM1539 333h12v4h-12zM1439 337h8v4h-8zM1539 337h12v4h-12zM1439 341h8v4h-8zM1543 341h8v4h-8zM1439 345h8v4h-8zM1543 345h8v4h-8zM1439 349h8v4h-8zM1543 349h8v4h-8zM1443 353h8v4h-8zM1543 353h8v4h-8zM1447 357h8v4h-8zM1543 357h8v4h-8zM1451 361h8v4h-8zM1543 361h8v4h-8zM1455 365h8v4h-8zM1539 365h8v4h-8zM1463 369h4v4h-4zM1535 369h12v4h-12zM1471 373h4v4h-4zM1531 373h12v4h-12zM1479 377h8v4h-8zM1523 377h16v4h-16zM1495 381h24v4h-24z"/>
<path fill="#1ea7e1" d="M1675 93h4v4h-4zM1671 105h4v4h-4zM1671 109h4v4h-4zM1671 113h4v4h-4zM1667 121h4v4h-4zM1667 125h4v4h-4zM1663 133h4v4h-4zM1663 137h4v4h-4zM1659 145h4v4h-4zM1659 149h4v4h-4zM1655 157h4v4h-4zM1655 161h4v4h-4zM1651 169h4v4h-4zM1647 177h4v4h-4zM1643 185h4v4h-4zM1639 193h4v4h-4zM1567 201h12v4h-12zM1635 201h4v4h-4zM1563 205h20v4h-20zM1635 205h4v4h-4zM1563 209h24v4h-24zM1563 213h24v4h-24zM1631 213h4v4h-4zM1567 217h20v4h-20zM1631 217h4v4h-4zM1567 221h20v4h-20zM1631 221h4v4h-4zM1575 225h8v4h-8zM1631 225h4v4h-4zM1631 229h4v4h-4zM1631 233h4v4h-4zM1631 237h4v4h-4zM1631 241h4v4h-4zM1403 245h4v4h-4zM1631 245h4v4h-4zM1403 249h12v4h-12zM1631 249h4v4h-4zM1407 253h16v4h-16zM1631 253h8v4h-8zM1411 257h60v4h-60zM1631 257h8v4h-8zM1419 261h60v4h-60zM1631 261h8v4h-8zM1427 265h56v4h-56zM1631 265h8v4h-8zM1443 269h44v4h-44zM1631 269h8v4h-8zM1455 273h36v4h-36zM1631 273h12v4h-12zM1459 277h36v4h-36zM1631 277h12v4h-12zM1463 281h36v4h-36zM1507 281h44v4h-44zM1631 281h12v4h-12zM1467 285h96v4h-96zM1631 285h12v4h-12zM1467 289h104v4h-104zM1631 289h12v4h-12zM1467 293h24v4h-24zM1503 293h76v4h-76zM1627 293h12v4h-12zM1467 297h16v4h-16zM1507 297h28v4h-28zM1555 297h36v4h-36zM1623 297h16v4h-16zM1463 301h16v4h-16zM1511 301h20v4h-20zM1567 301h68v4h-68zM1463 305h12v4h-12zM1511 305h16v4h-16zM1575 305h56v4h-56zM1463 309h8v4h-8zM1515 309h12v4h-12zM1591 309h36v4h-36zM1459 313h12v4h-12zM1515 313h12v4h-12zM1459 317h8v4h-8zM1519 317h12v4h-12zM1455 321h8v4h-8zM1523 321h8v4h-8zM1455 325h8v4h-8zM1523 325h12v4h-12zM1451 329h8v4h-8zM1527 329h12v4h-12zM1451 333h8v4h-8zM1531 333h8v4h-8zM1447 337h8v4h-8zM1531 337h8v4h-8zM1447 341h8v4h-8zM1535 341h8v4h-8zM1447 345h8v4h-8zM1535 345h8v4h-8zM1447 349h8v4h-8zM1535 349h8v4h-8zM1451 353h8v4h-8zM1535 353h8v4h-8zM1455 357h4v4h-4zM1535 357h8v4h-8zM1459 361h4v4h-4zM1535 361h8v4h-8zM1463 365h4v4h-4zM1531 365h8v4h-8zM1467 369h8v4h-8zM1527 369h8v4h-8zM1475 373h8v4h-8zM1523 373h8v4h-8zM1487 377h36v4h-36z"/>
<path fill="#1caadf" d="M1671 93h4v4h-4zM1671 97h4v4h-4zM1671 101h4v4h-4zM1667 113h4v4h-4zM1667 117h4v4h-4zM1663 125h4v4h-4zM1663 129h4v4h-4zM1659 141h4v4h-4zM1655 153h4v4h-4zM1651 165h4v4h-4zM1647 173h4v4h-4zM1643 181h4v4h-4zM1639 189h4v4h-4zM1635 193h4v4h-4zM1563 197h16v4h-16zM1635 197h4v4h-4zM1563 201h4v4h-4zM1579 201h4v4h-4zM1631 201h4v4h-4zM1559 205h4v4h-4zM1583 205h8v4h-8zM1631 205h4v4h-4zM1559 209h4v4h-4zM1587 209h4v4h-4zM1631 209h4v4h-4zM1559 213h4v4h-4zM1587 213h8v4h-8zM1627 213h4v4h-4zM1559 217h8v4h-8zM1587 217h8v4h-8zM1627 217h4v4h-4zM1559 221h8v4h-8zM1587 221h8v4h-8zM1627 221h4v4h-4zM1563 225h12v4h-12zM1583 225h12v4h-12zM1627 225h4v4h-4zM1563 229h32v4h-32zM1627 229h4v4h-4zM1567 233h24v4h-24zM1627 233h4v4h-4zM1571 237h16v4h-16zM1627 237h4v4h-4zM1407 241h8v4h-8zM1471 241h8v4h-8zM1627 241h4v4h-4zM1407 245h16v4h-16zM1451 245h40v4h-40zM1627 245h4v4h-4zM1415 249h84v4h-84zM1623 249h8v4h-8zM1423 253h80v4h-80zM1623 253h8v4h-8zM1471 257h44v4h-44zM1623 257h8v4h-8zM1479 261h52v4h-52zM1623 261h8v4h-8zM1483 265h72v4h-72zM1623 265h8v4h-8zM1487 269h76v4h-76zM1623 269h8v4h-8zM1491 273h80v4h-80zM1619 273h12v4h-12zM1495 277h84v4h-84zM1619 277h12v4h-12zM1499 281h8v4h-8zM1551 281h36v4h-36zM1615 281h16v4h-16zM1563 285h68v4h-68zM1571 289h60v4h-60zM1491 293h12v4h-12zM1579 293h48v4h-48zM1483 297h24v4h-24zM1591 297h32v4h-32zM1479 301h32v4h-32zM1475 305h36v4h-36zM1471 309h44v4h-44zM1471 313h12v4h-12zM1503 313h12v4h-12zM1467 317h12v4h-12zM1507 317h12v4h-12zM1463 321h12v4h-12zM1511 321h12v4h-12zM1463 325h8v4h-8zM1515 325h8v4h-8zM1459 329h8v4h-8zM1519 329h8v4h-8zM1459 333h8v4h-8zM1523 333h8v4h-8zM1455 337h8v4h-8zM1523 337h8v4h-8zM1455 341h8v4h-8zM1527 341h8v4h-8zM1455 345h8v4h-8zM1527 345h8v4h-8zM1455 349h8v4h-8zM1527 349h8v4h-8zM1459 353h4v4h-4zM1527 353h8v4h-8zM1459 357h8v4h-8zM1527 357h8v4h-8zM1463 361h8v4h-8zM1527 361h8v4h-8zM1467 365h8v4h-8zM1523 365h8v4h-8zM1475 369h4v4h-4zM1519 369h8v4h-8zM1483 373h4v4h-4zM1511 373h12v4h-12z"/>
<path fill="#19addc" d="M1667 93h4v4h-4zM1667 97h4v4h-4zM1667 101h4v4h-4zM1667 105h4v4h-4zM1667 109h4v4h-4zM1663 117h4v4h-4zM1663 121h4v4h-4zM1659 133h4v4h-4zM1659 137h4v4h-4zM1655 145h4v4h-4zM1655 149h4v4h-4zM1651 157h4v4h-4zM1651 161h4v4h-4zM1647 169h4v4h-4zM1643 177h4v4h-4zM1639 185h4v4h-4zM1635 189h4v4h-4zM1567 193h8v4h-8zM1559 197h4v4h-4zM1579 197h4v4h-4zM1631 197h4v4h-4zM1559 201h4v4h-4zM1583 201h8v4h-8zM1627 201h4v4h-4zM1555 205h4v4h-4zM1591 205h4v4h-4zM1627 205h4v4h-4zM1555 209h4v4h-4zM1591 209h8v4h-8zM1623 209h8v4h-8zM1555 213h4v4h-4zM1595 213h8v4h-8zM1623 213h4v4h-4zM1555 217h4v4h-4zM1595 217h12v4h-12zM1623 217h4v4h-4zM1555 221h4v4h-4zM1595 221h12v4h-12zM1623 221h4v4h-4zM1555 225h8v4h-8zM1595 225h12v4h-12zM1623 225h4v4h-4zM1555 229h8v4h-8zM1595 229h12v4h-12zM1619 229h8v4h-8zM1407 233h8v4h-8zM1463 233h28v4h-28zM1555 233h12v4h-12zM1591 233h16v4h-16zM1619 233h8v4h-8zM1407 237h16v4h-16zM1451 237h48v4h-48zM1555 237h16v4h-16zM1587 237h20v4h-20zM1615 237h12v4h-12zM1415 241h56v4h-56zM1479 241h28v4h-28zM1555 241h72v4h-72zM1423 245h28v4h-28zM1491 245h28v4h-28zM1551 245h76v4h-76zM1499 249h124v4h-124zM1503 253h120v4h-120zM1515 257h108v4h-108zM1531 261h92v4h-92zM1555 265h68v4h-68zM1563 269h60v4h-60zM1571 273h48v4h-48zM1579 277h40v4h-40zM1587 281h28v4h-28zM1483 313h20v4h-20zM1479 317h28v4h-28zM1475 321h36v4h-36zM1471 325h12v4h-12zM1507 325h8v4h-8zM1467 329h8v4h-8zM1511 329h8v4h-8zM1467 333h8v4h-8zM1515 333h8v4h-8zM1463 337h8v4h-8zM1519 337h4v4h-4zM1463 341h8v4h-8zM1519 341h8v4h-8zM1463 345h4v4h-4zM1523 345h4v4h-4zM1463 349h8v4h-8zM1523 349h4v4h-4zM1463 353h8v4h-8zM1523 353h4v4h-4zM1467 357h4v4h-4zM1523 357h4v4h-4zM1471 361h4v4h-4zM1519 361h8v4h-8zM1475 365h4v4h-4zM1515 365h8v4h-8zM1479 369h8v4h-8zM1511 369h8v4h-8zM1487 373h24v4h-24z"/>
<path fill="#15afd9" d="M1663 93h4v4h-4zM1663 97h4v4h-4zM1663 101h4v4h-4zM1663 105h4v4h-4zM1663 109h4v4h-4zM1663 113h4v4h-4zM1659 125h4v4h-4zM1659 129h4v4h-4zM1655 141h4v4h-4zM1651 153h4v4h-4zM1647 165h4v4h-4zM1643 173h4v4h-4zM1639 181h4v4h-4zM1635 185h4v4h-4zM1563 193h4v4h-4zM1575 193h4v4h-4zM1631 193h4v4h-4zM1583 197h4v4h-4zM1627 197h4v4h-4zM1555 201h4v4h-4zM1591 201h4v4h-4zM1623 201h4v4h-4zM1551 205h4v4h-4zM1595 205h8v4h-8zM1619 205h8v4h-8zM1551 209h4v4h-4zM1599 209h24v4h-24zM1551 213h4v4h-4zM1603 213h20v4h-20zM1547 217h8v4h-8zM1607 217h16v4h-16zM1547 221h8v4h-8zM1607 221h16v4h-16zM1467 225h20v4h-20zM1547 225h8v4h-8zM1607 225h16v4h-16zM1411 229h8v4h-8zM1455 229h44v4h-44zM1547 229h8v4h-8zM1607 229h12v4h-12zM1415 233h48v4h-48zM1491 233h20v4h-20zM1543 233h12v4h-12zM1607 233h12v4h-12zM1423 237h28v4h-28zM1499 237h56v4h-56zM1607 237h8v4h-8zM1507 241h48v4h-48zM1519 245h32v4h-32zM1483 325h24v4h-24zM1475 329h36v4h-36zM1475 333h8v4h-8zM1503 333h12v4h-12zM1471 337h8v4h-8zM1507 337h12v4h-12zM1471 341h8v4h-8zM1511 341h8v4h-8zM1467 345h8v4h-8zM1515 345h8v4h-8zM1471 349h4v4h-4zM1515 349h8v4h-8zM1471 353h4v4h-4zM1515 353h8v4h-8zM1471 357h8v4h-8zM1515 357h8v4h-8zM1475 361h4v4h-4zM1511 361h8v4h-8zM1479 365h8v4h-8zM1507 365h8v4h-8zM1487 369h24v4h-24z"/>
<path fill="#10b2d5" d="M1659 113h4v4h-4zM1659 117h4v4h-4zM1659 121h4v4h-4zM1655 133h4v4h-4zM1655 137h4v4h-4zM1651 149h4v4h-4zM1647 157h4v4h-4zM1647 161h4v4h-4zM1643 169h4v4h-4zM1639 177h4v4h-4zM1635 181h4v4h-4zM1567 189h8v4h-8zM1631 189h4v4h-4zM1559 193h4v4h-4zM1579 193h8v4h-8zM1627 193h4v4h-4zM1555 197h4v4h-4zM1587 197h8v4h-8zM1623 197h4v4h-4zM1551 201h4v4h-4zM1595 201h12v4h-12zM1611 201h12v4h-12zM1547 205h4v4h-4zM1603 205h16v4h-16zM1547 209h4v4h-4zM1543 213h8v4h-8zM1475 217h4v4h-4zM1543 217h4v4h-4zM1459 221h32v4h-32zM1539 221h8v4h-8zM1411 225h12v4h-12zM1447 225h20v4h-20zM1487 225h20v4h-20zM1535 225h12v4h-12zM1419 229h36v4h-36zM1499 229h48v4h-48zM1511 233h32v4h-32zM1483 333h20v4h-20zM1479 337h28v4h-28zM1479 341h8v4h-8zM1499 341h12v4h-12zM1475 345h8v4h-8zM1507 345h8v4h-8zM1475 349h8v4h-8zM1507 349h8v4h-8zM1475 353h8v4h-8zM1507 353h8v4h-8zM1479 357h4v4h-4zM1507 357h8v4h-8zM1479 361h8v4h-8zM1503 361h8v4h-8zM1487 365h20v4h-20z"/>
<path fill="#09b4d1" d="M1659 89h4v4h-4zM1659 93h4v4h-4zM1659 97h4v4h-4zM1659 101h4v4h-4zM1659 105h4v4h-4zM1659 109h4v4h-4zM1655 125h4v4h-4zM1655 129h4v4h-4zM1651 141h4v4h-4zM1651 145h4v4h-4zM1647 153h4v4h-4zM1643 165h4v4h-4zM1639 173h4v4h-4zM1635 177h4v4h-4zM1631 185h4v4h-4zM1563 189h4v4h-4zM1575 189h4v4h-4zM1627 189h4v4h-4zM1555 193h4v4h-4zM1587 193h4v4h-4zM1623 193h4v4h-4zM1551 197h4v4h-4zM1595 197h12v4h-12zM1611 197h12v4h-12zM1547 201h4v4h-4zM1607 201h4v4h-4zM1543 209h4v4h-4zM1471 213h12v4h-12zM1539 213h4v4h-4zM1415 217h4v4h-4zM1455 217h20v4h-20zM1479 217h16v4h-16zM1535 217h8v4h-8zM1415 221h16v4h-16zM1439 221h20v4h-20zM1491 221h20v4h-20zM1527 221h12v4h-12zM1423 225h24v4h-24zM1507 225h28v4h-28zM1487 341h12v4h-12zM1483 345h24v4h-24zM1483 349h24v4h-24zM1483 353h24v4h-24zM1483 357h24v4h-24zM1487 361h16v4h-16z"/>
<path fill="#04b6cd" d="M1655 89h4v4h-4zM1655 93h4v4h-4zM1655 97h4v4h-4zM1655 109h4v4h-4zM1655 113h4v4h-4zM1655 117h4v4h-4zM1655 121h4v4h-4zM1651 133h4v4h-4zM1651 137h4v4h-4zM1647 149h4v4h-4zM1643 161h4v4h-4zM1639 169h4v4h-4zM1635 173h4v4h-4zM1631 181h4v4h-4zM1627 185h4v4h-4zM1559 189h4v4h-4zM1579 189h4v4h-4zM1623 189h4v4h-4zM1591 193h8v4h-8zM1615 193h8v4h-8zM1607 197h4v4h-4zM1543 205h4v4h-4zM1475 209h4v4h-4zM1539 209h4v4h-4zM1419 213h4v4h-4zM1455 213h16v4h-16zM1483 213h12v4h-12zM1531 213h8v4h-8zM1419 217h36v4h-36zM1495 217h16v4h-16zM1519 217h16v4h-16zM1431 221h8v4h-8zM1511 221h16v4h-16z"/>
<path fill="#01b8c9" d="M1655 101h4v4h-4zM1655 105h4v4h-4zM1651 125h4v4h-4zM1651 129h4v4h-4zM1647 141h4v4h-4zM1647 145h4v4h-4zM1643 153h4v4h-4zM1643 157h4v4h-4zM1639 165h4v4h-4zM1635 169h4v4h-4zM1631 177h4v4h-4zM1627 181h4v4h-4zM1567 185h4v4h-4zM1623 185h4v4h-4zM1583 189h8v4h-8zM1615 189h8v4h-8zM1551 193h4v4h-4zM1599 193h16v4h-16zM1547 197h4v4h-4zM1543 201h4v4h-4zM1539 205h4v4h-4zM1419 209h8v4h-8zM1455 209h20v4h-20zM1479 209h12v4h-12zM1531 209h8v4h-8zM1423 213h32v4h-32zM1495 213h12v4h-12zM1519 213h12v4h-12zM1511 217h8v4h-8z"/>
<path fill="#02bac4" d="M1651 89h4v4h-4zM1651 93h4v4h-4zM1651 97h4v4h-4zM1651 101h4v4h-4zM1651 105h4v4h-4zM1651 109h4v4h-4zM1651 113h4v4h-4zM1651 117h4v4h-4zM1651 121h4v4h-4zM1647 137h4v4h-4zM1643 149h4v4h-4zM1639 161h4v4h-4zM1631 173h4v4h-4zM1627 177h4v4h-4zM1623 181h4v4h-4zM1563 185h4v4h-4zM1571 185h8v4h-8zM1619 185h4v4h-4zM1555 189h4v4h-4zM1591 189h8v4h-8zM1607 189h8v4h-8zM1543 197h4v4h-4zM1539 201h4v4h-4zM1423 205h4v4h-4zM1455 205h32v4h-32zM1535 205h4v4h-4zM1427 209h28v4h-28zM1491 209h12v4h-12zM1523 209h8v4h-8zM1507 213h12v4h-12z"/>
<path fill="#06bcc0" d="M1647 89h4v4h-4zM1647 93h4v4h-4zM1647 125h4v4h-4zM1647 129h4v4h-4zM1647 133h4v4h-4zM1643 145h4v4h-4zM1639 157h4v4h-4zM1635 165h4v4h-4zM1631 169h4v4h-4zM1559 185h4v4h-4zM1579 185h4v4h-4zM1615 185h4v4h-4zM1551 189h4v4h-4zM1599 189h8v4h-8zM1547 193h4v4h-4zM1423 201h12v4h-12zM1459 201h20v4h-20zM1535 201h4v4h-4zM1427 205h28v4h-28zM1487 205h12v4h-12zM1527 205h8v4h-8zM1503 209h20v4h-20z"/>
<path fill="#0dbdbb" d="M1643 89h4v4h-4zM1647 97h4v4h-4zM1647 101h4v4h-4zM1647 105h4v4h-4zM1647 109h4v4h-4zM1647 113h4v4h-4zM1647 117h4v4h-4zM1647 121h4v4h-4zM1643 137h4v4h-4zM1643 141h4v4h-4zM1639 149h4v4h-4zM1639 153h4v4h-4zM1635 161h4v4h-4zM1627 173h4v4h-4zM1623 177h4v4h-4zM1619 181h4v4h-4zM1583 185h8v4h-8zM1607 185h8v4h-8zM1427 193h4v4h-4zM1543 193h4v4h-4zM1427 197h12v4h-12zM1539 197h4v4h-4zM1435 201h24v4h-24zM1479 201h12v4h-12zM1531 201h4v4h-4zM1499 205h28v4h-28z"/>
<path fill="#16bfb7" d="M1643 93h4v4h-4zM1643 97h4v4h-4zM1643 129h4v4h-4zM1643 133h4v4h-4zM1639 145h4v4h-4zM1635 157h4v4h-4zM1631 165h4v4h-4zM1627 169h4v4h-4zM1623 173h4v4h-4zM1619 177h4v4h-4zM1615 181h4v4h-4zM1555 185h4v4h-4zM1591 185h16v4h-16zM1431 189h4v4h-4zM1547 189h4v4h-4zM1431 193h12v4h-12zM1439 197h44v4h-44zM1535 197h4v4h-4zM1491 201h12v4h-12zM1523 201h8v4h-8z"/>
<path fill="#1ec0b2" d="M1639 89h4v4h-4zM1643 101h4v4h-4zM1643 105h4v4h-4zM1643 109h4v4h-4zM1643 113h4v4h-4zM1643 117h4v4h-4zM1643 121h4v4h-4zM1643 125h4v4h-4zM1639 141h4v4h-4zM1635 153h4v4h-4zM1631 161h4v4h-4zM1615 177h4v4h-4zM1563 181h16v4h-16zM1607 181h8v4h-8zM1435 189h12v4h-12zM1443 193h32v4h-32zM1539 193h4v4h-4zM1483 197h12v4h-12zM1527 197h8v4h-8zM1503 201h20v4h-20z"/>
<path fill="#25c2ad" d="M1639 93h4v4h-4zM1639 97h4v4h-4zM1639 101h4v4h-4zM1639 133h4v4h-4zM1639 137h4v4h-4zM1635 149h4v4h-4zM1631 157h4v4h-4zM1627 165h4v4h-4zM1623 169h4v4h-4zM1619 173h4v4h-4zM1435 181h4v4h-4zM1579 181h8v4h-8zM1599 181h8v4h-8zM1435 185h12v4h-12zM1551 185h4v4h-4zM1447 189h20v4h-20zM1543 189h4v4h-4zM1475 193h12v4h-12zM1535 193h4v4h-4zM1495 197h12v4h-12zM1519 197h8v4h-8z"/>
<path fill="#2ac3a8" d="M1635 89h4v4h-4zM1635 93h4v4h-4zM1639 105h4v4h-4zM1639 109h4v4h-4zM1639 113h4v4h-4zM1639 117h4v4h-4zM1639 121h4v4h-4zM1639 125h4v4h-4zM1639 129h4v4h-4zM1635 141h4v4h-4zM1635 145h4v4h-4zM1631 153h4v4h-4zM1627 161h4v4h-4zM1623 165h4v4h-4zM1615 173h4v4h-4zM1439 177h4v4h-4zM1611 177h4v4h-4zM1439 181h8v4h-8zM1559 181h4v4h-4zM1587 181h12v4h-12zM1447 185h16v4h-16zM1547 185h4v4h-4zM1467 189h12v4h-12zM1539 189h4v4h-4zM1487 193h8v4h-8zM1531 193h4v4h-4zM1507 197h12v4h-12z"/>
<path fill="#2fc5a3" d="M1631 89h4v4h-4zM1635 97h4v4h-4zM1635 101h4v4h-4zM1635 133h4v4h-4zM1635 137h4v4h-4zM1631 149h4v4h-4zM1627 157h4v4h-4zM1619 169h4v4h-4zM1443 177h8v4h-8zM1603 177h8v4h-8zM1447 181h12v4h-12zM1555 181h4v4h-4zM1463 185h12v4h-12zM1479 189h12v4h-12zM1535 189h4v4h-4zM1495 193h12v4h-12zM1519 193h12v4h-12z"/>
<path fill="#32c69e" d="M1631 93h4v4h-4zM1631 97h4v4h-4zM1635 105h4v4h-4zM1635 109h4v4h-4zM1635 113h4v4h-4zM1635 117h4v4h-4zM1635 121h4v4h-4zM1635 125h4v4h-4zM1635 129h4v4h-4zM1631 145h4v4h-4zM1627 153h4v4h-4zM1623 161h4v4h-4zM1619 165h4v4h-4zM1615 169h4v4h-4zM1443 173h8v4h-8zM1611 173h4v4h-4zM1451 177h8v4h-8zM1599 177h4v4h-4zM1459 181h12v4h-12zM1475 185h8v4h-8zM1543 185h4v4h-4zM1491 189h8v4h-8zM1531 189h4v4h-4zM1507 193h12v4h-12z"/>
<path fill="#36c899" d="M1627 89h4v4h-4zM1627 93h4v4h-4zM1631 101h4v4h-4zM1631 137h4v4h-4zM1631 141h4v4h-4zM1627 149h4v4h-4zM1623 157h4v4h-4zM1447 169h8v4h-8zM1451 173h8v4h-8zM1607 173h4v4h-4zM1459 177h8v4h-8zM1587 177h12v4h-12zM1471 181h8v4h-8zM1551 181h4v4h-4zM1483 185h8v4h-8zM1539 185h4v4h-4zM1499 189h8v4h-8zM1523 189h8v4h-8z"/>
<path fill="#3bc993" d="M1623 89h4v4h-4zM1627 97h4v4h-4zM1631 105h4v4h-4zM1631 109h4v4h-4zM1631 113h4v4h-4zM1631 117h4v4h-4zM1631 125h4v4h-4zM1631 129h4v4h-4zM1631 133h4v4h-4zM1627 145h4v4h-4zM1619 161h4v4h-4zM1451 165h4v4h-4zM1615 165h4v4h-4zM1455 169h4v4h-4zM1611 169h4v4h-4zM1459 173h8v4h-8zM1603 173h4v4h-4zM1467 177h8v4h-8zM1563 177h24v4h-24zM1479 181h8v4h-8zM1547 181h4v4h-4zM1491 185h8v4h-8zM1535 185h4v4h-4zM1507 189h16v4h-16z"/>
<path fill="#41ca8d" d="M1623 93h4v4h-4zM1627 101h4v4h-4zM1631 121h4v4h-4zM1627 141h4v4h-4zM1623 153h4v4h-4zM1455 161h4v4h-4zM1455 165h8v4h-8zM1459 169h8v4h-8zM1607 169h4v4h-4zM1467 173h4v4h-4zM1599 173h4v4h-4zM1475 177h8v4h-8zM1559 177h4v4h-4zM1487 181h4v4h-4zM1499 185h8v4h-8zM1531 185h4v4h-4z"/>
<path fill="#48cb86" d="M1619 89h4v4h-4zM1623 97h4v4h-4zM1627 105h4v4h-4zM1627 109h4v4h-4zM1627 113h4v4h-4zM1627 133h4v4h-4zM1627 137h4v4h-4zM1623 149h4v4h-4zM1455 157h4v4h-4zM1619 157h4v4h-4zM1459 161h4v4h-4zM1615 161h4v4h-4zM1463 165h4v4h-4zM1611 165h4v4h-4zM1467 169h4v4h-4zM1471 173h8v4h-8zM1595 173h4v4h-4zM1483 177h4v4h-4zM1491 181h8v4h-8zM1543 181h4v4h-4zM1507 185h24v4h-24z"/>
<path fill="#50cc80" d="M1615 89h4v4h-4zM1619 93h4v4h-4zM1623 101h4v4h-4zM1623 105h4v4h-4zM1627 117h4v4h-4zM1627 121h4v4h-4zM1627 125h4v4h-4zM1627 129h4v4h-4zM1623 145h4v4h-4zM1459 153h4v4h-4zM1619 153h4v4h-4zM1459 157h8v4h-8zM1463 161h4v4h-4zM1467 165h4v4h-4zM1471 169h8v4h-8zM1603 169h4v4h-4zM1479 173h4v4h-4zM1587 173h8v4h-8zM1487 177h4v4h-4zM1555 177h4v4h-4zM1499 181h4v4h-4zM1535 181h8v4h-8z"/>
<path fill="#58cc79" d="M1615 93h4v4h-4zM1619 97h4v4h-4zM1623 109h4v4h-4zM1623 137h4v4h-4zM1623 141h4v4h-4zM1463 149h4v4h-4zM1619 149h4v4h-4zM1463 153h4v4h-4zM1467 157h4v4h-4zM1615 157h4v4h-4zM1467 161h4v4h-4zM1611 161h4v4h-4zM1471 165h4v4h-4zM1607 165h4v4h-4zM1479 169h4v4h-4zM1599 169h4v4h-4zM1483 173h8v4h-8zM1583 173h4v4h-4zM1491 177h8v4h-8zM1551 177h4v4h-4zM1503 181h12v4h-12zM1527 181h8v4h-8z"/>
<path fill="#61cd71" d="M1611 89h4v4h-4zM1619 101h4v4h-4zM1623 113h4v4h-4zM1623 117h4v4h-4zM1623 121h4v4h-4zM1623 125h4v4h-4zM1623 129h4v4h-4zM1623 133h4v4h-4zM1619 145h4v4h-4zM1467 149h4v4h-4zM1467 153h4v4h-4zM1615 153h4v4h-4zM1471 157h4v4h-4zM1471 161h4v4h-4zM1475 165h8v4h-8zM1603 165h4v4h-4zM1483 169h4v4h-4zM1595 169h4v4h-4zM1491 173h4v4h-4zM1575 173h8v4h-8zM1499 177h4v4h-4zM1547 177h4v4h-4zM1515 181h12v4h-12z"/>
<path fill="#6acd6a" d="M1607 89h4v4h-4zM1611 93h4v4h-4zM1615 97h4v4h-4zM1619 105h4v4h-4zM1619 109h4v4h-4zM1619 141h4v4h-4zM1471 149h4v4h-4zM1471 153h4v4h-4zM1475 157h4v4h-4zM1611 157h4v4h-4zM1475 161h8v4h-8zM1607 161h4v4h-4zM1483 165h4v4h-4zM1487 169h4v4h-4zM1495 173h4v4h-4zM1567 173h8v4h-8zM1503 177h8v4h-8zM1539 177h8v4h-8z"/>
<path fill="#73cd62" d="M1611 97h4v4h-4zM1615 101h4v4h-4zM1619 113h4v4h-4zM1619 117h4v4h-4zM1619 137h4v4h-4zM1471 145h4v4h-4zM1475 149h4v4h-4zM1615 149h4v4h-4zM1475 153h4v4h-4zM1479 157h4v4h-4zM1487 165h4v4h-4zM1599 165h4v4h-4zM1491 169h4v4h-4zM1591 169h4v4h-4zM1499 173h4v4h-4zM1563 173h4v4h-4zM1511 177h28v4h-28z"/>
<path fill="#7dcc5b" d="M1603 89h4v4h-4zM1607 93h4v4h-4zM1611 101h4v4h-4zM1615 105h4v4h-4zM1615 109h4v4h-4zM1619 121h4v4h-4zM1619 125h4v4h-4zM1619 129h4v4h-4zM1619 133h4v4h-4zM1475 141h4v4h-4zM1475 145h4v4h-4zM1615 145h4v4h-4zM1479 153h4v4h-4zM1611 153h4v4h-4zM1483 157h4v4h-4zM1607 157h4v4h-4zM1483 161h4v4h-4zM1603 161h4v4h-4zM1491 165h4v4h-4zM1495 169h4v4h-4zM1587 169h4v4h-4zM1503 173h8v4h-8zM1555 173h8v4h-8z"/>
<path fill="#87cb54" d="M1599 89h4v4h-4zM1603 93h4v4h-4zM1607 97h4v4h-4zM1615 113h4v4h-4zM1479 137h4v4h-4zM1479 141h4v4h-4zM1615 141h4v4h-4zM1479 145h4v4h-4zM1479 149h4v4h-4zM1611 149h4v4h-4zM1483 153h4v4h-4zM1487 161h4v4h-4zM1495 165h4v4h-4zM1595 165h4v4h-4zM1499 169h4v4h-4zM1583 169h4v4h-4zM1511 173h8v4h-8zM1547 173h8v4h-8z"/>
<path fill="#91ca4c" d="M1607 101h4v4h-4zM1611 105h4v4h-4zM1611 109h4v4h-4zM1615 117h4v4h-4zM1615 121h4v4h-4zM1615 125h4v4h-4zM1615 129h4v4h-4zM1483 133h4v4h-4zM1615 133h4v4h-4zM1483 137h4v4h-4zM1615 137h4v4h-4zM1483 141h4v4h-4zM1483 145h4v4h-4zM1483 149h4v4h-4zM1487 153h4v4h-4zM1607 153h4v4h-4zM1487 157h4v4h-4zM1603 157h4v4h-4zM1491 161h4v4h-4zM1599 161h4v4h-4zM1591 165h4v4h-4zM1503 169h4v4h-4zM1579 169h4v4h-4zM1519 173h28v4h-28z"/>
<path fill="#9ac945" d="M1595 89h4v4h-4zM1599 93h4v4h-4zM1603 97h4v4h-4zM1607 105h4v4h-4zM1611 113h4v4h-4zM1487 129h4v4h-4zM1487 145h4v4h-4zM1611 145h4v4h-4zM1487 149h4v4h-4zM1491 157h4v4h-4zM1495 161h4v4h-4zM1499 165h4v4h-4zM1507 169h8v4h-8zM1575 169h4v4h-4z"/>
<path fill="#a3c83e" d="M1591 89h4v4h-4zM1595 93h4v4h-4zM1599 97h4v4h-4zM1603 101h4v4h-4zM1611 117h4v4h-4zM1487 133h4v4h-4zM1487 137h4v4h-4zM1611 137h4v4h-4zM1487 141h4v4h-4zM1611 141h4v4h-4zM1491 149h4v4h-4zM1607 149h4v4h-4zM1491 153h4v4h-4zM1495 157h4v4h-4zM1499 161h4v4h-4zM1595 161h4v4h-4zM1503 165h8v4h-8zM1587 165h4v4h-4zM1515 169h8v4h-8zM1571 169h4v4h-4z"/>
<path fill="#adc638" d="M1583 89h8v4h-8zM1591 93h4v4h-4zM1603 105h4v4h-4zM1607 109h4v4h-4zM1611 121h4v4h-4zM1611 125h4v4h-4zM1491 129h4v4h-4zM1611 129h4v4h-4zM1491 133h4v4h-4zM1611 133h4v4h-4zM1491 137h4v4h-4zM1491 141h4v4h-4zM1491 145h4v4h-4zM1607 145h4v4h-4zM1495 153h4v4h-4zM1603 153h4v4h-4zM1499 157h4v4h-4zM1599 157h4v4h-4zM1503 161h4v4h-4zM1511 165h4v4h-4zM1583 165h4v4h-4zM1523 169h12v4h-12zM1567 169h4v4h-4z"/>
<path fill="#b5c533" d="M1587 93h4v4h-4zM1595 97h4v4h-4zM1599 101h4v4h-4zM1607 113h4v4h-4zM1607 117h4v4h-4zM1499 121h4v4h-4zM1495 125h4v4h-4zM1495 129h4v4h-4zM1495 133h4v4h-4zM1495 137h4v4h-4zM1495 141h4v4h-4zM1607 141h4v4h-4zM1495 145h4v4h-4zM1495 149h4v4h-4zM1603 149h4v4h-4zM1499 153h4v4h-4zM1507 161h4v4h-4zM1591 161h4v4h-4zM1515 165h4v4h-4zM1535 169h32v4h-32z"/>
<path fill="#bec32e" d="M1583 93h4v4h-4zM1591 97h4v4h-4zM1595 101h4v4h-4zM1599 105h4v4h-4zM1603 109h4v4h-4zM1503 121h4v4h-4zM1607 121h4v4h-4zM1499 125h4v4h-4zM1607 125h4v4h-4zM1499 129h4v4h-4zM1607 133h4v4h-4zM1607 137h4v4h-4zM1499 149h4v4h-4zM1599 153h4v4h-4zM1503 157h4v4h-4zM1595 157h4v4h-4zM1511 161h4v4h-4zM1519 165h8v4h-8zM1579 165h4v4h-4z"/>
<path fill="#c6c22a" d="M1579 93h4v4h-4zM1587 97h4v4h-4zM1599 109h4v4h-4zM1603 113h4v4h-4zM1507 117h4v4h-4zM1503 125h4v4h-4zM1607 129h4v4h-4zM1499 133h4v4h-4zM1499 137h4v4h-4zM1499 141h4v4h-4zM1499 145h4v4h-4zM1603 145h4v4h-4zM1503 149h4v4h-4zM1503 153h4v4h-4zM1507 157h4v4h-4zM1515 161h4v4h-4zM1587 161h4v4h-4zM1527 165h8v4h-8zM1575 165h4v4h-4z"/>
<path fill="#cec028" d="M1567 93h12v4h-12zM1583 97h4v4h-4zM1591 101h4v4h-4zM1595 105h4v4h-4zM1515 113h4v4h-4zM1511 117h4v4h-4zM1603 117h4v4h-4zM1507 121h4v4h-4zM1603 121h4v4h-4zM1507 125h4v4h-4zM1503 129h4v4h-4zM1503 133h4v4h-4zM1503 137h4v4h-4zM1503 141h4v4h-4zM1603 141h4v4h-4zM1503 145h4v4h-4zM1599 149h4v4h-4zM1507 153h4v4h-4zM1595 153h4v4h-4zM1511 157h4v4h-4zM1591 157h4v4h-4zM1519 161h4v4h-4zM1535 165h8v4h-8z"/>
<path fill="#d6be28" d="M1551 97h4v4h-4zM1579 97h4v4h-4zM1539 101h4v4h-4zM1587 101h4v4h-4zM1531 105h4v4h-4zM1591 105h4v4h-4zM1523 109h4v4h-4zM1595 109h4v4h-4zM1519 113h4v4h-4zM1599 113h4v4h-4zM1515 117h4v4h-4zM1511 121h4v4h-4zM1603 125h4v4h-4zM1507 129h4v4h-4zM1603 129h4v4h-4zM1507 133h4v4h-4zM1603 133h4v4h-4zM1603 137h4v4h-4zM1507 145h4v4h-4zM1599 145h4v4h-4zM1507 149h4v4h-4zM1511 153h4v4h-4zM1515 157h4v4h-4zM1523 161h4v4h-4zM1583 161h4v4h-4zM1543 165h8v4h-8zM1571 165h4v4h-4z"/>
<path fill="#ddbd29" d="M1555 97h24v4h-24zM1543 101h8v4h-8zM1583 101h4v4h-4zM1535 105h4v4h-4zM1527 109h4v4h-4zM1523 113h4v4h-4zM1519 117h4v4h-4zM1599 117h4v4h-4zM1515 121h4v4h-4zM1511 125h4v4h-4zM1511 129h4v4h-4zM1507 137h4v4h-4zM1507 141h4v4h-4zM1511 149h4v4h-4zM1595 149h4v4h-4zM1515 153h4v4h-4zM1519 157h4v4h-4zM1587 157h4v4h-4zM1527 161h8v4h-8zM1579 161h4v4h-4zM1551 165h4v4h-4zM1567 165h4v4h-4z"/>
<path fill="#e4bb2c" d="M1551 101h8v4h-8zM1579 101h4v4h-4zM1539 105h8v4h-8zM1587 105h4v4h-4zM1531 109h4v4h-4zM1591 109h4v4h-4zM1527 113h4v4h-4zM1595 113h4v4h-4zM1523 117h4v4h-4zM1519 121h4v4h-4zM1599 121h4v4h-4zM1515 125h4v4h-4zM1599 125h4v4h-4zM1511 133h4v4h-4zM1511 137h4v4h-4zM1599 137h4v4h-4zM1511 141h4v4h-4zM1599 141h4v4h-4zM1511 145h4v4h-4zM1515 149h4v4h-4zM1591 153h4v4h-4zM1523 157h4v4h-4zM1535 161h4v4h-4zM1555 165h12v4h-12z"/>
<path fill="#eaba31" d="M1559 101h20v4h-20zM1547 105h4v4h-4zM1583 105h4v4h-4zM1535 109h8v4h-8zM1587 109h4v4h-4zM1531 113h4v4h-4zM1591 113h4v4h-4zM1595 117h4v4h-4zM1519 125h4v4h-4zM1515 129h4v4h-4zM1599 129h4v4h-4zM1515 133h4v4h-4zM1599 133h4v4h-4zM1515 145h4v4h-4zM1595 145h4v4h-4zM1519 153h4v4h-4zM1527 157h4v4h-4zM1583 157h4v4h-4zM1539 161h8v4h-8zM1575 161h4v4h-4z"/>
<path fill="#f0ba36" d="M1551 105h8v4h-8zM1579 105h4v4h-4zM1543 109h4v4h-4zM1535 113h4v4h-4zM1527 117h4v4h-4zM1523 121h4v4h-4zM1595 121h4v4h-4zM1519 129h4v4h-4zM1515 137h4v4h-4zM1515 141h4v4h-4zM1595 141h4v4h-4zM1519 149h4v4h-4zM1591 149h4v4h-4zM1523 153h4v4h-4zM1587 153h4v4h-4zM1531 157h8v4h-8zM1547 161h4v4h-4z"/>
<path fill="#f6ba3b" d="M1559 105h20v4h-20zM1547 109h4v4h-4zM1583 109h4v4h-4zM1539 113h4v4h-4zM1587 113h4v4h-4zM1531 117h4v4h-4zM1591 117h4v4h-4zM1527 121h4v4h-4zM1523 125h4v4h-4zM1595 125h4v4h-4zM1523 129h4v4h-4zM1595 129h4v4h-4zM1519 133h4v4h-4zM1595 133h4v4h-4zM1519 137h4v4h-4zM1595 137h4v4h-4zM1519 141h4v4h-4zM1519 145h4v4h-4zM1523 149h4v4h-4zM1527 153h4v4h-4zM1539 157h4v4h-4zM1579 157h4v4h-4zM1551 161h4v4h-4zM1571 161h4v4h-4z"/>
<path fill="#fabb3d" d="M1551 109h8v4h-8zM1579 109h4v4h-4zM1543 113h4v4h-4zM1583 113h4v4h-4zM1535 117h4v4h-4zM1531 121h4v4h-4zM1591 121h4v4h-4zM1527 125h4v4h-4zM1523 133h4v4h-4zM1523 137h4v4h-4zM1523 141h4v4h-4zM1523 145h4v4h-4zM1591 145h4v4h-4zM1527 149h4v4h-4zM1531 153h8v4h-8zM1583 153h4v4h-4zM1543 157h4v4h-4zM1555 161h4v4h-4zM1567 161h4v4h-4z"/>
<path fill="#febe3c" d="M1559 109h20v4h-20zM1547 113h4v4h-4zM1539 117h4v4h-4zM1587 117h4v4h-4zM1535 121h4v4h-4zM1531 125h4v4h-4zM1591 125h4v4h-4zM1527 129h4v4h-4zM1591 129h4v4h-4zM1527 133h4v4h-4zM1527 137h4v4h-4zM1527 141h4v4h-4zM1591 141h4v4h-4zM1527 145h4v4h-4zM1531 149h4v4h-4zM1587 149h4v4h-4zM1539 153h4v4h-4zM1547 157h4v4h-4zM1575 157h4v4h-4zM1559 161h8v4h-8z"/>
<path fill="#fec239" d="M1551 113h8v4h-8zM1575 113h8v4h-8zM1543 117h4v4h-4zM1583 117h4v4h-4zM1539 121h4v4h-4zM1587 121h4v4h-4zM1535 125h4v4h-4zM1531 129h4v4h-4zM1531 133h4v4h-4zM1591 133h4v4h-4zM1591 137h4v4h-4zM1531 145h4v4h-4zM1587 145h4v4h-4zM1535 149h4v4h-4zM1543 153h4v4h-4zM1551 157h4v4h-4z"/>
<path fill="#fec636" d="M1559 113h16v4h-16zM1547 117h8v4h-8zM1579 117h4v4h-4zM1543 121h4v4h-4zM1539 125h4v4h-4zM1587 125h4v4h-4zM1535 129h4v4h-4zM1531 137h4v4h-4zM1531 141h4v4h-4zM1587 141h4v4h-4zM1535 145h4v4h-4zM1539 149h4v4h-4zM1583 149h4v4h-4zM1579 153h4v4h-4zM1555 157h4v4h-4zM1571 157h4v4h-4z"/>
<path fill="#feca34" d="M1555 117h4v4h-4zM1575 117h4v4h-4zM1547 121h4v4h-4zM1583 121h4v4h-4zM1543 125h4v4h-4zM1539 129h4v4h-4zM1587 129h4v4h-4zM1535 133h4v4h-4zM1587 133h4v4h-4zM1535 137h4v4h-4zM1587 137h4v4h-4zM1535 141h4v4h-4zM1539 145h4v4h-4zM1543 149h4v4h-4zM1547 153h4v4h-4zM1559 157h4v4h-4zM1567 157h4v4h-4z"/>
<path fill="#fdce31" d="M1559 117h16v4h-16zM1551 121h4v4h-4zM1579 121h4v4h-4zM1583 125h4v4h-4zM1543 129h4v4h-4zM1539 133h4v4h-4zM1539 137h4v4h-4zM1539 141h4v4h-4zM1543 145h4v4h-4zM1583 145h4v4h-4zM1547 149h4v4h-4zM1579 149h4v4h-4zM1551 153h4v4h-4zM1575 153h4v4h-4zM1563 157h4v4h-4z"/>
<path fill="#fbd22f" d="M1555 121h4v4h-4zM1575 121h4v4h-4zM1547 125h4v4h-4zM1579 125h4v4h-4zM1583 129h4v4h-4zM1543 133h4v4h-4zM1583 133h4v4h-4zM1543 137h4v4h-4zM1583 137h4v4h-4zM1543 141h4v4h-4zM1583 141h4v4h-4zM1547 145h4v4h-4zM1555 153h4v4h-4zM1571 153h4v4h-4z"/>
<path fill="#f9d62d" d="M1559 121h16v4h-16zM1551 125h4v4h-4zM1547 129h4v4h-4zM1579 129h4v4h-4zM1547 133h4v4h-4zM1547 137h4v4h-4zM1547 141h4v4h-4zM1579 145h4v4h-4zM1551 149h4v4h-4zM1575 149h4v4h-4zM1559 153h4v4h-4z"/>
<path fill="#f8da2b" d="M1555 125h8v4h-8zM1571 125h8v4h-8zM1551 129h4v4h-4zM1551 133h4v4h-4zM1579 133h4v4h-4zM1579 137h4v4h-4zM1579 141h4v4h-4zM1551 145h4v4h-4zM1555 149h4v4h-4zM1563 153h8v4h-8z"/>
<path fill="#f6df29" d="M1563 125h8v4h-8zM1555 129h4v4h-4zM1575 129h4v4h-4zM1551 137h4v4h-4zM1551 141h4v4h-4zM1555 145h4v4h-4zM1575 145h4v4h-4zM1559 149h4v4h-4zM1571 149h4v4h-4z"/>
<path fill="#f5e327" d="M1559 129h16v4h-16zM1555 133h4v4h-4zM1575 133h4v4h-4zM1555 137h4v4h-4zM1575 137h4v4h-4zM1555 141h4v4h-4zM1575 141h4v4h-4zM1563 149h8v4h-8z"/>
<path fill="#f5e725" d="M1559 133h16v4h-16zM1559 137h4v4h-4zM1559 141h4v4h-4zM1559 145h4v4h-4zM1571 145h4v4h-4z"/>
<path fill="#f5eb23" d="M1563 137h12v4h-12zM1563 141h4v4h-4zM1571 141h4v4h-4zM1563 145h8v4h-8z"/>
<path fill="#f6ef20" d="M1567 141h4v4h-4z"/>
</g></g>
<circle cx="1623.4" cy="318.1" r="224.4" fill="none" stroke="#000" stroke-width="8.3"/>
<g stroke="#000" stroke-width="3.2">
<circle cx="1568.0" cy="146.8" r="8.3" fill="#f8f61a"/>
<circle cx="1679.3" cy="146.8" r="8.3" fill="#2c90f0"/>
<circle cx="1566.8" cy="185.4" r="8.3" fill="#20a4e3"/>
<circle cx="1680.1" cy="185.4" r="8.3" fill="#327dfc"/>
<circle cx="1478.2" cy="212.3" r="8.3" fill="#04b6cd"/>
<circle cx="1549.5" cy="227.0" r="8.3" fill="#13b0d7"/>
<circle cx="1623.0" cy="228.5" r="8.3" fill="#18aedb"/>
<circle cx="1697.0" cy="227.0" r="8.3" fill="#4853f5"/>
<circle cx="1768.7" cy="212.3" r="8.3" fill="#2c90f0"/>
<circle cx="1494.0" cy="268.6" r="8.3" fill="#1ca9df"/>
<circle cx="1578.8" cy="273.2" r="8.3" fill="#19acdc"/>
<circle cx="1667.8" cy="273.2" r="8.3" fill="#2797eb"/>
<circle cx="1752.5" cy="268.6" r="8.3" fill="#2c90f0"/>
<circle cx="1443.9" cy="317.7" r="8.3" fill="#22a1e4"/>
<circle cx="1533.3" cy="317.7" r="8.3" fill="#20a4e3"/>
<circle cx="1623.0" cy="317.7" r="8.3" fill="#20a4e3"/>
<circle cx="1713.2" cy="317.7" r="8.3" fill="#2c90f0"/>
<circle cx="1803.0" cy="317.7" r="8.3" fill="#2e86f7"/>
<circle cx="1494.0" cy="367.2" r="8.3" fill="#0db3d3"/>
<circle cx="1578.8" cy="362.2" r="8.3" fill="#22a1e4"/>
<circle cx="1667.8" cy="362.2" r="8.3" fill="#2994ed"/>
<circle cx="1752.5" cy="367.2" r="8.3" fill="#2f81fa"/>
<circle cx="1478.2" cy="423.8" r="8.3" fill="#4849ed"/>
<circle cx="1549.5" cy="409.2" r="8.3" fill="#269ae8"/>
<circle cx="1623.0" cy="408.0" r="8.3" fill="#249ee6"/>
<circle cx="1697.0" cy="409.2" r="8.3" fill="#2d8cf3"/>
<circle cx="1768.7" cy="423.8" r="8.3" fill="#484ff2"/>
<circle cx="1566.8" cy="451.2" r="8.3" fill="#2c90f0"/>
<circle cx="1679.3" cy="451.2" r="8.3" fill="#2e86f7"/>
<circle cx="1568.0" cy="489.2" r="8.3" fill="#3e27ab"/>
<circle cx="1623.0" cy="498.2" r="8.3" fill="#2d8af4"/>
<circle cx="1679.3" cy="489.2" r="8.3" fill="#3e27ab"/>
</g>
<rect x="1259.5" y="39.2" width="33.8" height="547.6" fill="url(#pg)" stroke="#262626" stroke-width="1"/>
<line x1="1288.3" y1="45.8" x2="1293.3" y2="45.8" stroke="#262626" stroke-width="1"/>
<text class="ss" x="1302.6" y="55.4" font-size="25.00" fill="#363636" text-anchor="start" stroke="#363636" stroke-width="0.5">1.2</text>
<line x1="1288.3" y1="107.4" x2="1293.3" y2="107.4" stroke="#262626" stroke-width="1"/>
<text class="ss" x="1302.6" y="117.0" font-size="25.00" fill="#363636" text-anchor="start" stroke="#363636" stroke-width="0.5">1</text>
<line x1="1288.3" y1="169.0" x2="1293.3" y2="169.0" stroke="#262626" stroke-width="1"/>
<text class="ss" x="1302.6" y="178.6" font-size="25.00" fill="#363636" text-anchor="start" stroke="#363636" stroke-width="0.5">0.8</text>
<line x1="1288.3" y1="230.6" x2="1293.3" y2="230.6" stroke="#262626" stroke-width="1"/>
<text class="ss" x="1302.6" y="240.2" font-size="25.00" fill="#363636" text-anchor="start" stroke="#363636" stroke-width="0.5">0.6</text>
<line x1="1288.3" y1="292.2" x2="1293.3" y2="292.2" stroke="#262626" stroke-width="1"/>
<text class="ss" x="1302.6" y="301.8" font-size="25.00" fill="#363636" text-anchor="start" stroke="#363636" stroke-width="0.5">0.4</text>
<line x1="1288.3" y1="353.9" x2="1293.3" y2="353.9" stroke="#262626" stroke-width="1"/>
<text class="ss" x="1302.6" y="363.5" font-size="25.00" fill="#363636" text-anchor="start" stroke="#363636" stroke-width="0.5">0.2</text>
<line x1="1288.3" y1="415.5" x2="1293.3" y2="415.5" stroke="#262626" stroke-width="1"/>
<text class="ss" x="1302.6" y="425.1" font-size="25.00" fill="#363636" text-anchor="start" stroke="#363636" stroke-width="0.5">0</text>
<line x1="1288.3" y1="477.1" x2="1293.3" y2="477.1" stroke="#262626" stroke-width="1"/>
<text class="ss" x="1302.6" y="486.7" font-size="25.00" fill="#363636" text-anchor="start" stroke="#363636" stroke-width="0.5">-0.2</text>
<line x1="1288.3" y1="538.7" x2="1293.3" y2="538.7" stroke="#262626" stroke-width="1"/>
<text class="ss" x="1302.6" y="548.3" font-size="25.00" fill="#363636" text-anchor="start" stroke="#363636" stroke-width="0.5">-0.4</text>
<circle cx="1260.0" cy="126.5" r="1.6" fill="#000"/>
<rect x="1914.0" y="44.3" width="34.1" height="547.9" fill="url(#pg)" stroke="#262626" stroke-width="1"/>
<line x1="1943.1" y1="51.2" x2="1948.1" y2="51.2" stroke="#262626" stroke-width="1"/>
<text class="ss" x="1957.0" y="60.8" font-size="25.00" fill="#363636" text-anchor="start" stroke="#363636" stroke-width="0.5">1.2</text>
<line x1="1943.1" y1="112.8" x2="1948.1" y2="112.8" stroke="#262626" stroke-width="1"/>
<text class="ss" x="1957.0" y="122.4" font-size="25.00" fill="#363636" text-anchor="start" stroke="#363636" stroke-width="0.5">1</text>
<line x1="1943.1" y1="174.4" x2="1948.1" y2="174.4" stroke="#262626" stroke-width="1"/>
<text class="ss" x="1957.0" y="184.0" font-size="25.00" fill="#363636" text-anchor="start" stroke="#363636" stroke-width="0.5">0.8</text>
<line x1="1943.1" y1="236.0" x2="1948.1" y2="236.0" stroke="#262626" stroke-width="1"/>
<text class="ss" x="1957.0" y="245.6" font-size="25.00" fill="#363636" text-anchor="start" stroke="#363636" stroke-width="0.5">0.6</text>
<line x1="1943.1" y1="297.6" x2="1948.1" y2="297.6" stroke="#262626" stroke-width="1"/>
<text class="ss" x="1957.0" y="307.2" font-size="25.00" fill="#363636" text-anchor="start" stroke="#363636" stroke-width="0.5">0.4</text>
<line x1="1943.1" y1="359.2" x2="1948.1" y2="359.2" stroke="#262626" stroke-width="1"/>
<text class="ss" x="1957.0" y="368.9" font-size="25.00" fill="#363636" text-anchor="start" stroke="#363636" stroke-width="0.5">0.2</text>
<line x1="1943.1" y1="420.9" x2="1948.1" y2="420.9" stroke="#262626" stroke-width="1"/>
<text class="ss" x="1957.0" y="430.5" font-size="25.00" fill="#363636" text-anchor="start" stroke="#363636" stroke-width="0.5">0</text>
<line x1="1943.1" y1="482.5" x2="1948.1" y2="482.5" stroke="#262626" stroke-width="1"/>
<text class="ss" x="1957.0" y="492.1" font-size="25.00" fill="#363636" text-anchor="start" stroke="#363636" stroke-width="0.5">-0.2</text>
<line x1="1943.1" y1="544.1" x2="1948.1" y2="544.1" stroke="#262626" stroke-width="1"/>
<text class="ss" x="1957.0" y="553.7" font-size="25.00" fill="#363636" text-anchor="start" stroke="#363636" stroke-width="0.5">-0.4</text>
<circle cx="1914.8" cy="131.0" r="1.6" fill="#000"/>
</svg>
</body></html>
